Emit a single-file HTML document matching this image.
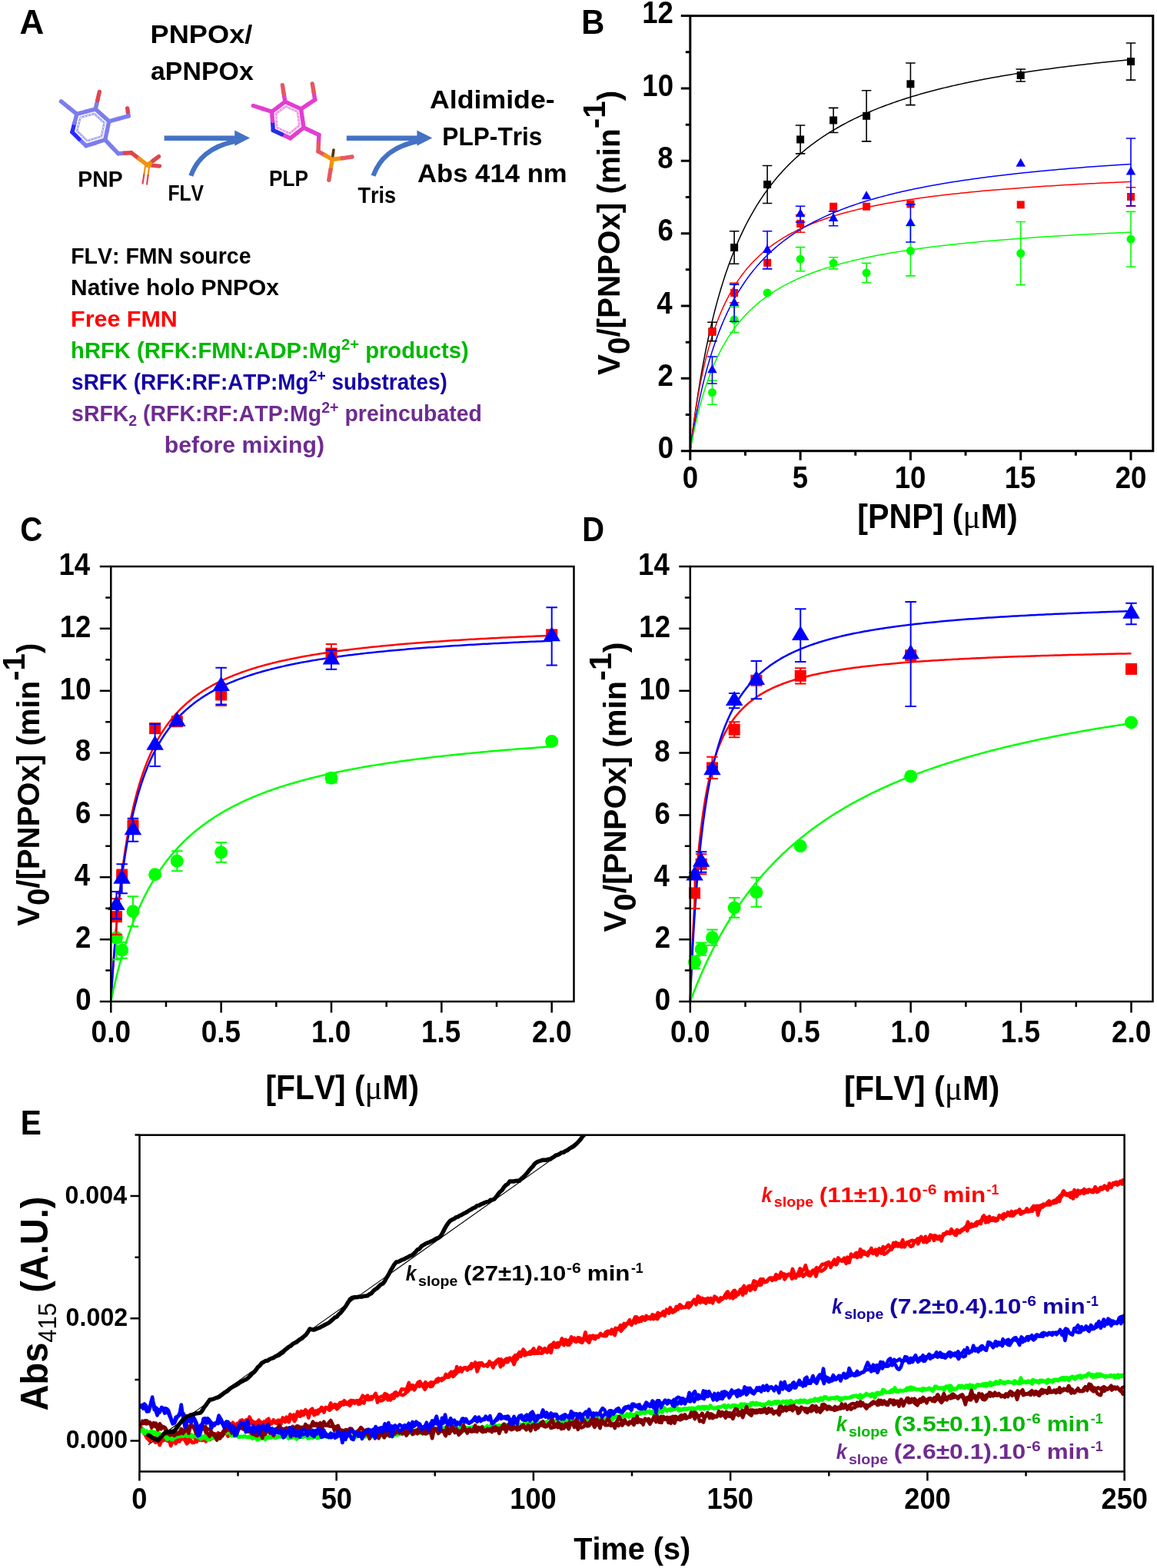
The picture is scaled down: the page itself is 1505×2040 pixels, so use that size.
<!DOCTYPE html>
<html><head><meta charset="utf-8"><title>Figure</title><style>html,body{margin:0;padding:0;background:#fff;}svg{display:block;}text{font-kerning:none;white-space:pre;}</style></head><body>
<svg width="1505" height="2040" viewBox="0 0 1505 2040" xml:space="preserve" style="font-kerning:none"><g transform="translate(25.41,44.20) scale(0.9993,1)"><text x="0.00" y="0.00" font-family='"Liberation Sans", Arial, sans-serif' font-weight="bold" font-size="44" fill="#000">A</text></g>
<polygon points="104.6,152.8 122.7,148.0 135.6,159.7 131.9,177.5 113.5,183.3 100.2,170.1" fill="none" stroke="#a0a0f0" stroke-width="2.6"/>
<polygon points="104.6,152.8 122.7,148.0 135.6,159.7 131.9,177.5 113.5,183.3 100.2,170.1" fill="none" stroke="#ffffff" stroke-width="0.9" stroke-dasharray="2.5 2"/>
<line x1="189.0" y1="216.2" x2="187.3" y2="227.4" stroke="#f0920f" stroke-width="2.2" stroke-linecap="round"/>
<line x1="187.3" y1="227.4" x2="185.6" y2="238.6" stroke="#e0454f" stroke-width="2.2" stroke-linecap="round"/>
<line x1="194.2" y1="216.2" x2="192.6" y2="227.9" stroke="#f0920f" stroke-width="2.2" stroke-linecap="round"/>
<line x1="192.6" y1="227.9" x2="191.1" y2="239.6" stroke="#e0454f" stroke-width="2.2" stroke-linecap="round"/>
<line x1="79.5" y1="131.9" x2="89.7" y2="140.2" stroke="#7c7cee" stroke-width="5.4" stroke-linecap="round"/>
<line x1="89.7" y1="140.2" x2="99.9" y2="148.4" stroke="#7c7cee" stroke-width="5.4" stroke-linecap="round"/>
<line x1="99.9" y1="148.4" x2="112.1" y2="145.2" stroke="#7c7cee" stroke-width="5.4" stroke-linecap="round"/>
<line x1="112.1" y1="145.2" x2="124.3" y2="141.9" stroke="#7c7cee" stroke-width="5.4" stroke-linecap="round"/>
<line x1="124.3" y1="141.9" x2="126.8" y2="130.7" stroke="#7c7cee" stroke-width="5.4" stroke-linecap="round"/>
<line x1="126.8" y1="130.7" x2="129.3" y2="119.5" stroke="#e0454f" stroke-width="5.4" stroke-linecap="round"/>
<line x1="124.3" y1="141.9" x2="133.1" y2="149.9" stroke="#7c7cee" stroke-width="5.4" stroke-linecap="round"/>
<line x1="133.1" y1="149.9" x2="141.8" y2="157.8" stroke="#7c7cee" stroke-width="5.4" stroke-linecap="round"/>
<line x1="141.8" y1="157.8" x2="154.5" y2="154.4" stroke="#7c7cee" stroke-width="5.4" stroke-linecap="round"/>
<line x1="154.5" y1="154.4" x2="167.2" y2="150.9" stroke="#7c7cee" stroke-width="5.4" stroke-linecap="round"/>
<line x1="167.2" y1="150.9" x2="166.4" y2="145.9" stroke="#7c7cee" stroke-width="5.4" stroke-linecap="round"/>
<line x1="166.4" y1="145.9" x2="165.7" y2="140.9" stroke="#e0454f" stroke-width="5.4" stroke-linecap="round"/>
<line x1="141.8" y1="157.8" x2="139.3" y2="169.8" stroke="#7c7cee" stroke-width="5.4" stroke-linecap="round"/>
<line x1="139.3" y1="169.8" x2="136.8" y2="181.8" stroke="#7c7cee" stroke-width="5.4" stroke-linecap="round"/>
<line x1="136.8" y1="181.8" x2="124.4" y2="185.8" stroke="#7c7cee" stroke-width="5.4" stroke-linecap="round"/>
<line x1="124.4" y1="185.8" x2="111.9" y2="189.7" stroke="#7c7cee" stroke-width="5.4" stroke-linecap="round"/>
<line x1="111.9" y1="189.7" x2="102.9" y2="180.8" stroke="#7c7cee" stroke-width="5.4" stroke-linecap="round"/>
<line x1="102.9" y1="180.8" x2="93.9" y2="171.8" stroke="#2a2aff" stroke-width="5.4" stroke-linecap="round"/>
<line x1="93.9" y1="171.8" x2="96.9" y2="160.1" stroke="#2a2aff" stroke-width="5.4" stroke-linecap="round"/>
<line x1="96.9" y1="160.1" x2="99.9" y2="148.4" stroke="#7c7cee" stroke-width="5.4" stroke-linecap="round"/>
<line x1="136.8" y1="181.8" x2="145.2" y2="190.8" stroke="#7c7cee" stroke-width="5.4" stroke-linecap="round"/>
<line x1="145.2" y1="190.8" x2="153.7" y2="199.7" stroke="#7c7cee" stroke-width="5.4" stroke-linecap="round"/>
<line x1="153.7" y1="199.7" x2="162.2" y2="199.2" stroke="#7c7cee" stroke-width="5.4" stroke-linecap="round"/>
<line x1="162.2" y1="199.2" x2="170.7" y2="198.7" stroke="#e0454f" stroke-width="5.4" stroke-linecap="round"/>
<line x1="170.7" y1="198.7" x2="181.1" y2="206.7" stroke="#e0454f" stroke-width="5.4" stroke-linecap="round"/>
<line x1="181.1" y1="206.7" x2="191.6" y2="214.7" stroke="#f0920f" stroke-width="5.4" stroke-linecap="round"/>
<line x1="191.6" y1="214.7" x2="199.1" y2="209.2" stroke="#f0920f" stroke-width="5.4" stroke-linecap="round"/>
<line x1="199.1" y1="209.2" x2="206.5" y2="203.7" stroke="#e0454f" stroke-width="5.4" stroke-linecap="round"/>
<line x1="191.6" y1="214.7" x2="199.6" y2="215.4" stroke="#f0920f" stroke-width="5.4" stroke-linecap="round"/>
<line x1="199.6" y1="215.4" x2="207.5" y2="216.1" stroke="#e0454f" stroke-width="5.4" stroke-linecap="round"/>
<polygon points="358.9,148.0 371.6,138.4 387.0,145.4 389.5,163.3 376.7,173.6 360.2,165.9" fill="none" stroke="#ee88e2" stroke-width="2.6"/>
<polygon points="358.9,148.0 371.6,138.4 387.0,145.4 389.5,163.3 376.7,173.6 360.2,165.9" fill="none" stroke="#ffffff" stroke-width="0.9" stroke-dasharray="2.5 2"/>
<line x1="432.2" y1="207.5" x2="434.0" y2="195.0" stroke="#5a3010" stroke-width="3.6" stroke-linecap="round"/>
<line x1="329.4" y1="137.5" x2="341.5" y2="141.4" stroke="#e23ed0" stroke-width="5.4" stroke-linecap="round"/>
<line x1="341.5" y1="141.4" x2="353.6" y2="145.3" stroke="#e23ed0" stroke-width="5.4" stroke-linecap="round"/>
<line x1="353.6" y1="145.3" x2="362.2" y2="138.8" stroke="#e23ed0" stroke-width="5.4" stroke-linecap="round"/>
<line x1="362.2" y1="138.8" x2="370.8" y2="132.3" stroke="#e23ed0" stroke-width="5.4" stroke-linecap="round"/>
<line x1="370.8" y1="132.3" x2="369.1" y2="121.5" stroke="#e23ed0" stroke-width="5.4" stroke-linecap="round"/>
<line x1="369.1" y1="121.5" x2="367.4" y2="110.7" stroke="#e8575e" stroke-width="5.4" stroke-linecap="round"/>
<line x1="370.8" y1="132.3" x2="381.2" y2="137.1" stroke="#e23ed0" stroke-width="5.4" stroke-linecap="round"/>
<line x1="381.2" y1="137.1" x2="391.6" y2="141.8" stroke="#e23ed0" stroke-width="5.4" stroke-linecap="round"/>
<line x1="391.6" y1="141.8" x2="400.6" y2="135.8" stroke="#e23ed0" stroke-width="5.4" stroke-linecap="round"/>
<line x1="400.6" y1="135.8" x2="409.7" y2="129.7" stroke="#e23ed0" stroke-width="5.4" stroke-linecap="round"/>
<line x1="409.7" y1="129.7" x2="408.0" y2="119.3" stroke="#e23ed0" stroke-width="5.4" stroke-linecap="round"/>
<line x1="408.0" y1="119.3" x2="406.3" y2="109.0" stroke="#e8575e" stroke-width="5.4" stroke-linecap="round"/>
<line x1="391.6" y1="141.8" x2="393.3" y2="153.9" stroke="#e23ed0" stroke-width="5.4" stroke-linecap="round"/>
<line x1="393.3" y1="153.9" x2="395.0" y2="166.0" stroke="#e23ed0" stroke-width="5.4" stroke-linecap="round"/>
<line x1="395.0" y1="166.0" x2="386.4" y2="172.9" stroke="#e23ed0" stroke-width="5.4" stroke-linecap="round"/>
<line x1="386.4" y1="172.9" x2="377.7" y2="179.8" stroke="#e23ed0" stroke-width="5.4" stroke-linecap="round"/>
<line x1="377.7" y1="179.8" x2="366.5" y2="174.7" stroke="#e23ed0" stroke-width="5.4" stroke-linecap="round"/>
<line x1="366.5" y1="174.7" x2="355.3" y2="169.5" stroke="#2a2ae6" stroke-width="5.4" stroke-linecap="round"/>
<line x1="355.3" y1="169.5" x2="354.5" y2="157.4" stroke="#2a2ae6" stroke-width="5.4" stroke-linecap="round"/>
<line x1="354.5" y1="157.4" x2="353.6" y2="145.3" stroke="#e23ed0" stroke-width="5.4" stroke-linecap="round"/>
<line x1="395.0" y1="166.0" x2="404.9" y2="170.8" stroke="#e23ed0" stroke-width="5.4" stroke-linecap="round"/>
<line x1="404.9" y1="170.8" x2="414.9" y2="175.5" stroke="#e23ed0" stroke-width="5.4" stroke-linecap="round"/>
<line x1="414.9" y1="175.5" x2="414.4" y2="186.2" stroke="#e23ed0" stroke-width="5.4" stroke-linecap="round"/>
<line x1="414.4" y1="186.2" x2="414.0" y2="197.0" stroke="#e8575e" stroke-width="5.4" stroke-linecap="round"/>
<line x1="414.0" y1="197.0" x2="423.1" y2="202.2" stroke="#e8575e" stroke-width="5.4" stroke-linecap="round"/>
<line x1="423.1" y1="202.2" x2="432.2" y2="207.5" stroke="#f0920f" stroke-width="5.4" stroke-linecap="round"/>
<line x1="432.2" y1="207.5" x2="445.1" y2="205.8" stroke="#f0920f" stroke-width="5.4" stroke-linecap="round"/>
<line x1="445.1" y1="205.8" x2="458.0" y2="204.0" stroke="#e8575e" stroke-width="5.4" stroke-linecap="round"/>
<line x1="432.2" y1="207.5" x2="430.0" y2="220.9" stroke="#f0920f" stroke-width="5.4" stroke-linecap="round"/>
<line x1="430.0" y1="220.9" x2="427.8" y2="234.3" stroke="#e8575e" stroke-width="5.4" stroke-linecap="round"/>
<path d="M213.6,176.4H305.2V169.5L325.1,179.5L305.2,189.8V182.9H213.6Z" fill="#4472c4"/>
<path d="M248.3,228.8C256.0,207 272.0,191 307.0,183.4" fill="none" stroke="#4472c4" stroke-width="6.2"/>
<path d="M450.8,176.4H542.4V169.5L562.3,179.5L542.4,189.8V182.9H450.8Z" fill="#4472c4"/>
<path d="M485.5,228.8C493.2,207 509.2,191 544.2,183.4" fill="none" stroke="#4472c4" stroke-width="6.2"/>
<g transform="translate(195.58,56.00) scale(1.0647,1)"><text x="0.00" y="0.00" font-family='"Liberation Sans", Arial, sans-serif' font-weight="bold" font-size="34" fill="#000">PNPOx/</text></g>
<g transform="translate(196.01,103.50) scale(0.9968,1)"><text x="0.00" y="0.00" font-family='"Liberation Sans", Arial, sans-serif' font-weight="bold" font-size="34" fill="#000">aPNPOx</text></g>
<g transform="translate(101.30,243.30) scale(0.9789,1)"><text x="0.00" y="0.00" font-family='"Liberation Sans", Arial, sans-serif' font-weight="bold" font-size="29" fill="#000">PNP</text></g>
<g transform="translate(218.45,261.40) scale(0.8512,1)"><text x="0.00" y="0.00" font-family='"Liberation Sans", Arial, sans-serif' font-weight="bold" font-size="29" fill="#000">FLV</text></g>
<g transform="translate(349.95,242.40) scale(0.9033,1)"><text x="0.00" y="0.00" font-family='"Liberation Sans", Arial, sans-serif' font-weight="bold" font-size="29" fill="#000">PLP</text></g>
<g transform="translate(465.40,263.70) scale(0.9348,1)"><text x="0.00" y="0.00" font-family='"Liberation Sans", Arial, sans-serif' font-weight="bold" font-size="29" fill="#000">Tris</text></g>
<g transform="translate(558.91,140.50) scale(1.0512,1)"><text x="0.00" y="0.00" font-family='"Liberation Sans", Arial, sans-serif' font-weight="bold" font-size="34" fill="#000">Aldimide-</text></g>
<g transform="translate(575.28,188.60) scale(0.9314,1)"><text x="0.00" y="0.00" font-family='"Liberation Sans", Arial, sans-serif' font-weight="bold" font-size="34" fill="#000">PLP-Tris</text></g>
<g transform="translate(542.94,236.80) scale(1.0208,1)"><text x="0.00" y="0.00" font-family='"Liberation Sans", Arial, sans-serif' font-weight="bold" font-size="34" fill="#000">Abs 414 nm</text></g>
<g transform="translate(92.19,342.80) scale(0.9829,1)"><text x="0.00" y="0.00" font-family='"Liberation Sans", Arial, sans-serif' font-weight="bold" font-size="29" fill="#000">FLV: FMN source</text></g>
<g transform="translate(92.10,383.70) scale(1.0314,1)"><text x="0.00" y="0.00" font-family='"Liberation Sans", Arial, sans-serif' font-weight="bold" font-size="29" fill="#000">Native holo PNPOx</text></g>
<g transform="translate(92.06,425.40) scale(1.0504,1)"><text x="0.00" y="0.00" font-family='"Liberation Sans", Arial, sans-serif' font-weight="bold" font-size="29" fill="#ff0000">Free FMN</text></g>
<g transform="translate(92.06,466.30) scale(1.0072,1)"><text x="0.00" y="0.00" font-family='"Liberation Sans", Arial, sans-serif' font-weight="bold" font-size="29" fill="#00b800">hRFK (RFK:FMN:ADP:Mg</text><text x="349.52" y="-11.00" font-family='"Liberation Sans", Arial, sans-serif' font-weight="bold" font-size="20" fill="#00b800">2+</text><text x="372.32" y="0.00" font-family='"Liberation Sans", Arial, sans-serif' font-weight="bold" font-size="29" fill="#00b800"> products)</text></g>
<g transform="translate(93.12,507.30) scale(0.9627,1)"><text x="0.00" y="0.00" font-family='"Liberation Sans", Arial, sans-serif' font-weight="bold" font-size="29" fill="#1500a5">sRFK (RFK:RF:ATP:Mg</text><text x="320.54" y="-11.00" font-family='"Liberation Sans", Arial, sans-serif' font-weight="bold" font-size="20" fill="#1500a5">2+</text><text x="343.35" y="0.00" font-family='"Liberation Sans", Arial, sans-serif' font-weight="bold" font-size="29" fill="#1500a5"> substrates)</text></g>
<g transform="translate(93.10,548.20) scale(0.9803,1)"><text x="0.00" y="0.00" font-family='"Liberation Sans", Arial, sans-serif' font-weight="bold" font-size="29" fill="#6e2c90">sRFK</text><text x="75.73" y="6.00" font-family='"Liberation Sans", Arial, sans-serif' font-weight="bold" font-size="20" fill="#6e2c90">2</text><text x="86.85" y="0.00" font-family='"Liberation Sans", Arial, sans-serif' font-weight="bold" font-size="29" fill="#6e2c90"> (RFK:RF:ATP:Mg</text><text x="331.67" y="-11.00" font-family='"Liberation Sans", Arial, sans-serif' font-weight="bold" font-size="20" fill="#6e2c90">2+</text><text x="354.47" y="0.00" font-family='"Liberation Sans", Arial, sans-serif' font-weight="bold" font-size="29" fill="#6e2c90"> preincubated</text></g>
<g transform="translate(213.81,589.10) scale(1.0420,1)"><text x="0.00" y="0.00" font-family='"Liberation Sans", Arial, sans-serif' font-weight="bold" font-size="29" fill="#6e2c90">before mixing)</text></g>
<g>
<polyline points="897.80,586.70 897.81,586.65 897.83,586.49 897.86,586.22 897.90,585.85 897.96,585.37 898.03,584.78 898.11,584.09 898.21,583.30 898.32,582.40 898.44,581.40 898.57,580.30 898.72,579.10 898.88,577.81 899.05,576.41 899.23,574.92 899.43,573.34 899.64,571.66 899.86,569.89 900.10,568.03 900.35,566.09 900.61,564.06 900.88,561.95 901.17,559.76 901.47,557.49 901.78,555.14 902.11,552.72 902.44,550.23 902.79,547.66 903.16,545.03 903.53,542.34 903.92,539.58 904.32,536.76 904.74,533.88 905.16,530.95 905.60,527.97 906.05,524.93 906.52,521.85 907.00,518.72 907.49,515.55 907.99,512.34 908.51,509.09 909.03,505.80 909.58,502.48 910.13,499.12 910.70,495.74 911.28,492.33 911.87,488.90 912.47,485.44 913.09,481.96 913.72,478.46 914.37,474.95 915.02,471.42 915.69,467.87 916.37,464.32 917.07,460.76 917.77,457.19 918.49,453.61 919.22,450.03 919.97,446.45 920.73,442.87 921.50,439.28 922.28,435.70 923.08,432.13 923.89,428.55 924.71,424.99 925.54,421.43 926.39,417.88 927.25,414.34 928.12,410.81 929.01,407.29 929.91,403.79 930.82,400.30 931.74,396.82 932.68,393.36 933.62,389.92 934.59,386.50 935.56,383.09 936.55,379.70 937.55,376.33 938.56,372.98 939.59,369.66 940.62,366.35 941.68,363.07 942.74,359.81 943.82,356.57 944.90,353.35 946.01,350.16 947.12,347.00 948.25,343.86 949.39,340.74 950.54,337.65 951.71,334.58 952.88,331.54 954.08,328.52 955.28,325.53 956.50,322.57 957.72,319.63 958.97,316.72 960.22,313.84 961.49,310.98 962.77,308.15 964.06,305.35 965.37,302.57 966.69,299.82 968.02,297.09 969.36,294.40 970.72,291.73 972.09,289.08 973.47,286.46 974.86,283.87 976.27,281.31 977.69,278.77 979.12,276.26 980.57,273.77 982.03,271.31 983.50,268.88 984.98,266.47 986.48,264.09 987.99,261.73 989.51,259.40 991.05,257.09 992.59,254.81 994.15,252.55 995.73,250.32 997.31,248.11 998.91,245.93 1000.52,243.77 1002.15,241.63 1003.78,239.52 1005.43,237.43 1007.10,235.36 1008.77,233.32 1010.46,231.30 1012.16,229.30 1013.87,227.33 1015.60,225.38 1017.34,223.45 1019.09,221.54 1020.85,219.65 1022.63,217.78 1024.42,215.94 1026.22,214.11 1028.04,212.31 1029.87,210.53 1031.71,208.76 1033.56,207.02 1035.43,205.30 1037.30,203.59 1039.20,201.91 1041.10,200.25 1043.02,198.60 1044.95,196.97 1046.89,195.36 1048.84,193.77 1050.81,192.20 1052.79,190.65 1054.79,189.11 1056.79,187.59 1058.81,186.09 1060.84,184.60 1062.89,183.13 1064.95,181.68 1067.02,180.25 1069.10,178.83 1071.19,177.42 1073.30,176.04 1075.42,174.66 1077.56,173.31 1079.70,171.97 1081.86,170.64 1084.03,169.33 1086.22,168.03 1088.41,166.75 1090.62,165.49 1092.85,164.23 1095.08,162.99 1097.33,161.77 1099.59,160.56 1101.87,159.36 1104.15,158.18 1106.45,157.00 1108.76,155.85 1111.09,154.70 1113.43,153.57 1115.78,152.45 1118.14,151.34 1120.51,150.24 1122.90,149.16 1125.30,148.09 1127.72,147.03 1130.14,145.98 1132.58,144.94 1135.03,143.91 1137.50,142.90 1139.98,141.90 1142.47,140.90 1144.97,139.92 1147.49,138.95 1150.01,137.99 1152.56,137.04 1155.11,136.10 1157.68,135.17 1160.26,134.25 1162.85,133.34 1165.45,132.43 1168.07,131.54 1170.70,130.66 1173.34,129.79 1176.00,128.93 1178.67,128.07 1181.35,127.23 1184.04,126.39 1186.75,125.56 1189.47,124.74 1192.20,123.93 1194.95,123.13 1197.70,122.34 1200.48,121.55 1203.26,120.77 1206.05,120.00 1208.86,119.24 1211.68,118.49 1214.52,117.74 1217.37,117.01 1220.22,116.28 1223.10,115.55 1225.98,114.84 1228.88,114.13 1231.79,113.43 1234.71,112.73 1237.65,112.04 1240.60,111.36 1243.56,110.69 1246.53,110.02 1249.52,109.36 1252.52,108.71 1255.53,108.06 1258.56,107.42 1261.60,106.79 1264.65,106.16 1267.71,105.54 1270.79,104.92 1273.88,104.31 1276.98,103.71 1280.09,103.11 1283.22,102.52 1286.36,101.93 1289.51,101.35 1292.68,100.78 1295.86,100.21 1299.05,99.64 1302.25,99.09 1305.47,98.53 1308.70,97.98 1311.94,97.44 1315.19,96.90 1318.46,96.37 1321.74,95.84 1325.03,95.32 1328.34,94.80 1331.66,94.29 1334.99,93.78 1338.33,93.28 1341.69,92.78 1345.06,92.29 1348.44,91.80 1351.83,91.31 1355.24,90.83 1358.66,90.36 1362.09,89.89 1365.54,89.42 1369.00,88.96 1372.47,88.50 1375.95,88.05 1379.45,87.59 1382.96,87.15 1386.48,86.71 1390.01,86.27 1393.56,85.83 1397.12,85.40 1400.69,84.98 1404.28,84.56 1407.88,84.14 1411.49,83.72 1415.11,83.31 1418.75,82.90 1422.40,82.50 1426.06,82.10 1429.74,81.70 1433.42,81.31 1437.12,80.92 1440.84,80.53 1444.56,80.15 1448.30,79.77 1452.05,79.39 1455.82,79.02 1459.59,78.65 1463.38,78.28 1467.19,77.92 1471.00,77.56" fill="none" stroke="#000000" stroke-width="1.5" stroke-linejoin="round"/>
<polyline points="897.80,586.70 897.81,586.64 897.83,586.48 897.86,586.20 897.90,585.82 897.96,585.33 898.03,584.73 898.11,584.02 898.21,583.21 898.32,582.29 898.44,581.27 898.57,580.15 898.72,578.93 898.88,577.61 899.05,576.20 899.23,574.70 899.43,573.10 899.64,571.42 899.86,569.65 900.10,567.80 900.35,565.88 900.61,563.87 900.88,561.79 901.17,559.64 901.47,557.42 901.78,555.14 902.11,552.80 902.44,550.40 902.79,547.94 903.16,545.43 903.53,542.87 903.92,540.27 904.32,537.62 904.74,534.93 905.16,532.21 905.60,529.45 906.05,526.66 906.52,523.84 907.00,521.00 907.49,518.13 907.99,515.24 908.51,512.34 909.03,509.42 909.58,506.49 910.13,503.55 910.70,500.60 911.28,497.64 911.87,494.69 912.47,491.73 913.09,488.77 913.72,485.81 914.37,482.86 915.02,479.91 915.69,476.97 916.37,474.04 917.07,471.12 917.77,468.21 918.49,465.32 919.22,462.44 919.97,459.57 920.73,456.72 921.50,453.90 922.28,451.08 923.08,448.29 923.89,445.52 924.71,442.78 925.54,440.05 926.39,437.35 927.25,434.67 928.12,432.01 929.01,429.38 929.91,426.77 930.82,424.19 931.74,421.64 932.68,419.11 933.62,416.61 934.59,414.13 935.56,411.68 936.55,409.26 937.55,406.87 938.56,404.50 939.59,402.16 940.62,399.85 941.68,397.56 942.74,395.31 943.82,393.08 944.90,390.88 946.01,388.70 947.12,386.55 948.25,384.43 949.39,382.34 950.54,380.28 951.71,378.24 952.88,376.22 954.08,374.24 955.28,372.28 956.50,370.35 957.72,368.44 958.97,366.56 960.22,364.70 961.49,362.87 962.77,361.07 964.06,359.28 965.37,357.53 966.69,355.80 968.02,354.09 969.36,352.40 970.72,350.74 972.09,349.10 973.47,347.49 974.86,345.90 976.27,344.33 977.69,342.78 979.12,341.25 980.57,339.75 982.03,338.26 983.50,336.80 984.98,335.36 986.48,333.94 987.99,332.54 989.51,331.16 991.05,329.79 992.59,328.45 994.15,327.13 995.73,325.82 997.31,324.54 998.91,323.27 1000.52,322.02 1002.15,320.79 1003.78,319.57 1005.43,318.37 1007.10,317.19 1008.77,316.03 1010.46,314.88 1012.16,313.75 1013.87,312.63 1015.60,311.53 1017.34,310.45 1019.09,309.38 1020.85,308.32 1022.63,307.28 1024.42,306.26 1026.22,305.25 1028.04,304.25 1029.87,303.27 1031.71,302.30 1033.56,301.34 1035.43,300.40 1037.30,299.47 1039.20,298.55 1041.10,297.64 1043.02,296.75 1044.95,295.87 1046.89,295.00 1048.84,294.15 1050.81,293.30 1052.79,292.47 1054.79,291.65 1056.79,290.84 1058.81,290.04 1060.84,289.25 1062.89,288.47 1064.95,287.70 1067.02,286.94 1069.10,286.19 1071.19,285.46 1073.30,284.73 1075.42,284.01 1077.56,283.30 1079.70,282.60 1081.86,281.91 1084.03,281.23 1086.22,280.55 1088.41,279.89 1090.62,279.23 1092.85,278.59 1095.08,277.95 1097.33,277.32 1099.59,276.70 1101.87,276.08 1104.15,275.47 1106.45,274.88 1108.76,274.28 1111.09,273.70 1113.43,273.12 1115.78,272.55 1118.14,271.99 1120.51,271.44 1122.90,270.89 1125.30,270.35 1127.72,269.81 1130.14,269.29 1132.58,268.76 1135.03,268.25 1137.50,267.74 1139.98,267.24 1142.47,266.74 1144.97,266.25 1147.49,265.77 1150.01,265.29 1152.56,264.81 1155.11,264.35 1157.68,263.89 1160.26,263.43 1162.85,262.98 1165.45,262.53 1168.07,262.09 1170.70,261.66 1173.34,261.23 1176.00,260.80 1178.67,260.38 1181.35,259.97 1184.04,259.56 1186.75,259.15 1189.47,258.75 1192.20,258.36 1194.95,257.97 1197.70,257.58 1200.48,257.20 1203.26,256.82 1206.05,256.44 1208.86,256.07 1211.68,255.71 1214.52,255.35 1217.37,254.99 1220.22,254.64 1223.10,254.29 1225.98,253.94 1228.88,253.60 1231.79,253.26 1234.71,252.93 1237.65,252.60 1240.60,252.27 1243.56,251.95 1246.53,251.63 1249.52,251.31 1252.52,251.00 1255.53,250.69 1258.56,250.38 1261.60,250.08 1264.65,249.78 1267.71,249.48 1270.79,249.19 1273.88,248.90 1276.98,248.61 1280.09,248.33 1283.22,248.05 1286.36,247.77 1289.51,247.50 1292.68,247.22 1295.86,246.95 1299.05,246.69 1302.25,246.42 1305.47,246.16 1308.70,245.90 1311.94,245.65 1315.19,245.39 1318.46,245.14 1321.74,244.90 1325.03,244.65 1328.34,244.41 1331.66,244.17 1334.99,243.93 1338.33,243.69 1341.69,243.46 1345.06,243.23 1348.44,243.00 1351.83,242.77 1355.24,242.55 1358.66,242.32 1362.09,242.10 1365.54,241.89 1369.00,241.67 1372.47,241.46 1375.95,241.25 1379.45,241.04 1382.96,240.83 1386.48,240.62 1390.01,240.42 1393.56,240.22 1397.12,240.02 1400.69,239.82 1404.28,239.62 1407.88,239.43 1411.49,239.24 1415.11,239.05 1418.75,238.86 1422.40,238.67 1426.06,238.49 1429.74,238.30 1433.42,238.12 1437.12,237.94 1440.84,237.76 1444.56,237.59 1448.30,237.41 1452.05,237.24 1455.82,237.07 1459.59,236.90 1463.38,236.73 1467.19,236.56 1471.00,236.39" fill="none" stroke="#ff0000" stroke-width="1.5" stroke-linejoin="round"/>
<polyline points="897.80,586.70 897.81,586.66 897.83,586.53 897.86,586.32 897.90,586.03 897.96,585.65 898.03,585.19 898.11,584.65 898.21,584.03 898.32,583.32 898.44,582.54 898.57,581.68 898.72,580.73 898.88,579.72 899.05,578.62 899.23,577.45 899.43,576.21 899.64,574.90 899.86,573.52 900.10,572.06 900.35,570.54 900.61,568.96 900.88,567.31 901.17,565.60 901.47,563.83 901.78,562.00 902.11,560.11 902.44,558.17 902.79,556.18 903.16,554.13 903.53,552.04 903.92,549.90 904.32,547.71 904.74,545.48 905.16,543.22 905.60,540.91 906.05,538.56 906.52,536.18 907.00,533.77 907.49,531.32 907.99,528.85 908.51,526.34 909.03,523.82 909.58,521.27 910.13,518.69 910.70,516.10 911.28,513.49 911.87,510.86 912.47,508.21 913.09,505.56 913.72,502.89 914.37,500.21 915.02,497.52 915.69,494.83 916.37,492.13 917.07,489.42 917.77,486.71 918.49,484.00 919.22,481.29 919.97,478.59 920.73,475.88 921.50,473.17 922.28,470.47 923.08,467.78 923.89,465.09 924.71,462.41 925.54,459.74 926.39,457.08 927.25,454.42 928.12,451.78 929.01,449.15 929.91,446.53 930.82,443.92 931.74,441.33 932.68,438.76 933.62,436.19 934.59,433.65 935.56,431.11 936.55,428.60 937.55,426.10 938.56,423.62 939.59,421.16 940.62,418.71 941.68,416.29 942.74,413.88 943.82,411.49 944.90,409.12 946.01,406.77 947.12,404.44 948.25,402.13 949.39,399.84 950.54,397.58 951.71,395.33 952.88,393.10 954.08,390.89 955.28,388.71 956.50,386.54 957.72,384.40 958.97,382.27 960.22,380.17 961.49,378.09 962.77,376.03 964.06,373.99 965.37,371.97 966.69,369.97 968.02,368.00 969.36,366.04 970.72,364.11 972.09,362.19 973.47,360.30 974.86,358.42 976.27,356.57 977.69,354.74 979.12,352.93 980.57,351.13 982.03,349.36 983.50,347.61 984.98,345.88 986.48,344.16 987.99,342.47 989.51,340.79 991.05,339.14 992.59,337.50 994.15,335.88 995.73,334.28 997.31,332.70 998.91,331.14 1000.52,329.60 1002.15,328.07 1003.78,326.56 1005.43,325.07 1007.10,323.60 1008.77,322.14 1010.46,320.70 1012.16,319.28 1013.87,317.87 1015.60,316.48 1017.34,315.11 1019.09,313.75 1020.85,312.41 1022.63,311.08 1024.42,309.78 1026.22,308.48 1028.04,307.20 1029.87,305.94 1031.71,304.69 1033.56,303.46 1035.43,302.24 1037.30,301.03 1039.20,299.84 1041.10,298.66 1043.02,297.50 1044.95,296.35 1046.89,295.22 1048.84,294.09 1050.81,292.98 1052.79,291.89 1054.79,290.81 1056.79,289.74 1058.81,288.68 1060.84,287.63 1062.89,286.60 1064.95,285.58 1067.02,284.57 1069.10,283.57 1071.19,282.59 1073.30,281.61 1075.42,280.65 1077.56,279.70 1079.70,278.76 1081.86,277.83 1084.03,276.91 1086.22,276.00 1088.41,275.11 1090.62,274.22 1092.85,273.34 1095.08,272.47 1097.33,271.62 1099.59,270.77 1101.87,269.93 1104.15,269.11 1106.45,268.29 1108.76,267.48 1111.09,266.68 1113.43,265.89 1115.78,265.11 1118.14,264.33 1120.51,263.57 1122.90,262.81 1125.30,262.07 1127.72,261.33 1130.14,260.60 1132.58,259.87 1135.03,259.16 1137.50,258.45 1139.98,257.76 1142.47,257.07 1144.97,256.38 1147.49,255.71 1150.01,255.04 1152.56,254.38 1155.11,253.73 1157.68,253.08 1160.26,252.44 1162.85,251.81 1165.45,251.18 1168.07,250.56 1170.70,249.95 1173.34,249.35 1176.00,248.75 1178.67,248.16 1181.35,247.57 1184.04,246.99 1186.75,246.42 1189.47,245.85 1192.20,245.29 1194.95,244.74 1197.70,244.19 1200.48,243.64 1203.26,243.11 1206.05,242.57 1208.86,242.05 1211.68,241.53 1214.52,241.01 1217.37,240.50 1220.22,240.00 1223.10,239.50 1225.98,239.00 1228.88,238.51 1231.79,238.03 1234.71,237.55 1237.65,237.07 1240.60,236.60 1243.56,236.14 1246.53,235.68 1249.52,235.22 1252.52,234.77 1255.53,234.33 1258.56,233.89 1261.60,233.45 1264.65,233.02 1267.71,232.59 1270.79,232.16 1273.88,231.74 1276.98,231.33 1280.09,230.92 1283.22,230.51 1286.36,230.11 1289.51,229.71 1292.68,229.31 1295.86,228.92 1299.05,228.53 1302.25,228.15 1305.47,227.77 1308.70,227.39 1311.94,227.02 1315.19,226.65 1318.46,226.28 1321.74,225.92 1325.03,225.56 1328.34,225.20 1331.66,224.85 1334.99,224.50 1338.33,224.16 1341.69,223.82 1345.06,223.48 1348.44,223.14 1351.83,222.81 1355.24,222.48 1358.66,222.15 1362.09,221.83 1365.54,221.51 1369.00,221.19 1372.47,220.88 1375.95,220.56 1379.45,220.26 1382.96,219.95 1386.48,219.65 1390.01,219.35 1393.56,219.05 1397.12,218.75 1400.69,218.46 1404.28,218.17 1407.88,217.89 1411.49,217.60 1415.11,217.32 1418.75,217.04 1422.40,216.76 1426.06,216.49 1429.74,216.22 1433.42,215.95 1437.12,215.68 1440.84,215.42 1444.56,215.15 1448.30,214.89 1452.05,214.64 1455.82,214.38 1459.59,214.13 1463.38,213.88 1467.19,213.63 1471.00,213.38" fill="none" stroke="#0000ff" stroke-width="1.5" stroke-linejoin="round"/>
<polyline points="897.80,586.70 897.81,586.66 897.83,586.56 897.86,586.38 897.90,586.12 897.96,585.80 898.03,585.40 898.11,584.94 898.21,584.40 898.32,583.80 898.44,583.13 898.57,582.39 898.72,581.58 898.88,580.71 899.05,579.77 899.23,578.77 899.43,577.71 899.64,576.59 899.86,575.41 900.10,574.17 900.35,572.88 900.61,571.53 900.88,570.13 901.17,568.68 901.47,567.18 901.78,565.63 902.11,564.04 902.44,562.40 902.79,560.72 903.16,559.00 903.53,557.24 903.92,555.44 904.32,553.61 904.74,551.75 905.16,549.85 905.60,547.93 906.05,545.97 906.52,543.99 907.00,541.99 907.49,539.96 907.99,537.91 908.51,535.85 909.03,533.76 909.58,531.66 910.13,529.55 910.70,527.42 911.28,525.28 911.87,523.13 912.47,520.97 913.09,518.81 913.72,516.64 914.37,514.46 915.02,512.28 915.69,510.10 916.37,507.92 917.07,505.74 917.77,503.56 918.49,501.39 919.22,499.22 919.97,497.05 920.73,494.88 921.50,492.73 922.28,490.58 923.08,488.44 923.89,486.31 924.71,484.19 925.54,482.07 926.39,479.97 927.25,477.88 928.12,475.80 929.01,473.74 929.91,471.69 930.82,469.65 931.74,467.63 932.68,465.62 933.62,463.62 934.59,461.64 935.56,459.68 936.55,457.73 937.55,455.80 938.56,453.89 939.59,451.99 940.62,450.11 941.68,448.25 942.74,446.40 943.82,444.57 944.90,442.76 946.01,440.97 947.12,439.19 948.25,437.43 949.39,435.69 950.54,433.97 951.71,432.27 952.88,430.58 954.08,428.92 955.28,427.27 956.50,425.64 957.72,424.02 958.97,422.43 960.22,420.85 961.49,419.29 962.77,417.75 964.06,416.22 965.37,414.72 966.69,413.23 968.02,411.76 969.36,410.30 970.72,408.87 972.09,407.45 973.47,406.04 974.86,404.66 976.27,403.29 977.69,401.94 979.12,400.60 980.57,399.28 982.03,397.98 983.50,396.69 984.98,395.42 986.48,394.16 987.99,392.92 989.51,391.69 991.05,390.48 992.59,389.29 994.15,388.11 995.73,386.94 997.31,385.79 998.91,384.66 1000.52,383.53 1002.15,382.43 1003.78,381.33 1005.43,380.25 1007.10,379.19 1008.77,378.13 1010.46,377.09 1012.16,376.07 1013.87,375.05 1015.60,374.05 1017.34,373.06 1019.09,372.09 1020.85,371.12 1022.63,370.17 1024.42,369.23 1026.22,368.31 1028.04,367.39 1029.87,366.49 1031.71,365.59 1033.56,364.71 1035.43,363.84 1037.30,362.98 1039.20,362.13 1041.10,361.29 1043.02,360.47 1044.95,359.65 1046.89,358.84 1048.84,358.04 1050.81,357.26 1052.79,356.48 1054.79,355.71 1056.79,354.95 1058.81,354.21 1060.84,353.47 1062.89,352.74 1064.95,352.02 1067.02,351.30 1069.10,350.60 1071.19,349.90 1073.30,349.22 1075.42,348.54 1077.56,347.87 1079.70,347.21 1081.86,346.56 1084.03,345.91 1086.22,345.27 1088.41,344.64 1090.62,344.02 1092.85,343.40 1095.08,342.80 1097.33,342.20 1099.59,341.60 1101.87,341.02 1104.15,340.44 1106.45,339.87 1108.76,339.30 1111.09,338.74 1113.43,338.19 1115.78,337.65 1118.14,337.11 1120.51,336.58 1122.90,336.05 1125.30,335.53 1127.72,335.02 1130.14,334.51 1132.58,334.01 1135.03,333.51 1137.50,333.02 1139.98,332.53 1142.47,332.06 1144.97,331.58 1147.49,331.11 1150.01,330.65 1152.56,330.19 1155.11,329.74 1157.68,329.29 1160.26,328.85 1162.85,328.41 1165.45,327.98 1168.07,327.55 1170.70,327.13 1173.34,326.71 1176.00,326.30 1178.67,325.89 1181.35,325.49 1184.04,325.09 1186.75,324.69 1189.47,324.30 1192.20,323.91 1194.95,323.53 1197.70,323.15 1200.48,322.78 1203.26,322.41 1206.05,322.04 1208.86,321.68 1211.68,321.32 1214.52,320.97 1217.37,320.62 1220.22,320.27 1223.10,319.93 1225.98,319.59 1228.88,319.25 1231.79,318.92 1234.71,318.59 1237.65,318.27 1240.60,317.95 1243.56,317.63 1246.53,317.31 1249.52,317.00 1252.52,316.69 1255.53,316.39 1258.56,316.09 1261.60,315.79 1264.65,315.49 1267.71,315.20 1270.79,314.91 1273.88,314.62 1276.98,314.34 1280.09,314.06 1283.22,313.78 1286.36,313.50 1289.51,313.23 1292.68,312.96 1295.86,312.69 1299.05,312.43 1302.25,312.17 1305.47,311.91 1308.70,311.65 1311.94,311.40 1315.19,311.14 1318.46,310.90 1321.74,310.65 1325.03,310.40 1328.34,310.16 1331.66,309.92 1334.99,309.69 1338.33,309.45 1341.69,309.22 1345.06,308.99 1348.44,308.76 1351.83,308.53 1355.24,308.31 1358.66,308.09 1362.09,307.87 1365.54,307.65 1369.00,307.44 1372.47,307.22 1375.95,307.01 1379.45,306.80 1382.96,306.59 1386.48,306.39 1390.01,306.18 1393.56,305.98 1397.12,305.78 1400.69,305.59 1404.28,305.39 1407.88,305.19 1411.49,305.00 1415.11,304.81 1418.75,304.62 1422.40,304.43 1426.06,304.25 1429.74,304.07 1433.42,303.88 1437.12,303.70 1440.84,303.52 1444.56,303.35 1448.30,303.17 1452.05,303.00 1455.82,302.82 1459.59,302.65 1463.38,302.48 1467.19,302.31 1471.00,302.15" fill="none" stroke="#00ff00" stroke-width="1.5" stroke-linejoin="round"/>
<path d="M926.46,419.23V443.76M920.21,419.23H932.71M920.21,443.76H932.71" stroke="#000000" stroke-width="1.6" fill="none"/>
<path d="M955.12,300.82V343.28M948.87,300.82H961.37M948.87,343.28H961.37" stroke="#000000" stroke-width="1.6" fill="none"/>
<path d="M998.11,215.43V264.49M991.86,215.43H1004.36M991.86,264.49H1004.36" stroke="#000000" stroke-width="1.6" fill="none"/>
<path d="M1041.10,163.07V199.87M1034.85,163.07H1047.35M1034.85,199.87H1047.35" stroke="#000000" stroke-width="1.6" fill="none"/>
<path d="M1084.09,140.42V172.50M1077.84,140.42H1090.34M1077.84,172.50H1090.34" stroke="#000000" stroke-width="1.6" fill="none"/>
<path d="M1127.08,117.78V183.83M1120.83,117.78H1133.33M1120.83,183.83H1133.33" stroke="#000000" stroke-width="1.6" fill="none"/>
<path d="M1184.40,81.93V136.65M1178.15,81.93H1190.65M1178.15,136.65H1190.65" stroke="#000000" stroke-width="1.6" fill="none"/>
<path d="M1327.70,89.95V105.99M1321.45,89.95H1333.95M1321.45,105.99H1333.95" stroke="#000000" stroke-width="1.6" fill="none"/>
<path d="M1471.00,55.98V104.10M1464.75,55.98H1477.25M1464.75,104.10H1477.25" stroke="#000000" stroke-width="1.6" fill="none"/>
<rect x="921.46" y="426.49" width="10.00" height="10.00" fill="#000000"/>
<rect x="950.12" y="317.05" width="10.00" height="10.00" fill="#000000"/>
<rect x="993.11" y="234.96" width="10.00" height="10.00" fill="#000000"/>
<rect x="1036.10" y="176.47" width="10.00" height="10.00" fill="#000000"/>
<rect x="1079.09" y="151.46" width="10.00" height="10.00" fill="#000000"/>
<rect x="1122.08" y="145.80" width="10.00" height="10.00" fill="#000000"/>
<rect x="1179.40" y="104.29" width="10.00" height="10.00" fill="#000000"/>
<rect x="1322.70" y="92.97" width="10.00" height="10.00" fill="#000000"/>
<rect x="1466.00" y="75.04" width="10.00" height="10.00" fill="#000000"/>
<path d="M955.12,368.28V393.75M948.87,368.28H961.37M948.87,393.75H961.37" stroke="#ff0000" stroke-width="1.6" fill="none"/>
<path d="M1041.10,279.59V302.23M1034.85,279.59H1047.35M1034.85,302.23H1047.35" stroke="#ff0000" stroke-width="1.6" fill="none"/>
<path d="M1471.00,243.74V268.27M1464.75,243.74H1477.25M1464.75,268.27H1477.25" stroke="#ff0000" stroke-width="1.6" fill="none"/>
<rect x="921.46" y="426.49" width="10.00" height="10.00" fill="#ff0000"/>
<rect x="950.12" y="376.02" width="10.00" height="10.00" fill="#ff0000"/>
<rect x="993.11" y="336.86" width="10.00" height="10.00" fill="#ff0000"/>
<rect x="1036.10" y="285.91" width="10.00" height="10.00" fill="#ff0000"/>
<rect x="1079.09" y="263.74" width="10.00" height="10.00" fill="#ff0000"/>
<rect x="1122.08" y="263.74" width="10.00" height="10.00" fill="#ff0000"/>
<rect x="1179.40" y="260.44" width="10.00" height="10.00" fill="#ff0000"/>
<rect x="1322.70" y="261.38" width="10.00" height="10.00" fill="#ff0000"/>
<rect x="1466.00" y="251.00" width="10.00" height="10.00" fill="#ff0000"/>
<path d="M926.46,495.18V526.32M920.21,495.18H932.71M920.21,526.32H932.71" stroke="#00ff00" stroke-width="1.6" fill="none"/>
<path d="M955.12,399.42V432.44M948.87,399.42H961.37M948.87,432.44H961.37" stroke="#00ff00" stroke-width="1.6" fill="none"/>
<path d="M1041.10,321.58V352.71M1034.85,321.58H1047.35M1034.85,352.71H1047.35" stroke="#00ff00" stroke-width="1.6" fill="none"/>
<path d="M1084.09,334.79V349.88M1077.84,334.79H1090.34M1077.84,349.88H1090.34" stroke="#00ff00" stroke-width="1.6" fill="none"/>
<path d="M1127.08,342.33V367.81M1120.83,342.33H1133.33M1120.83,367.81H1133.33" stroke="#00ff00" stroke-width="1.6" fill="none"/>
<path d="M1184.40,293.74V358.84M1178.15,293.74H1190.65M1178.15,358.84H1190.65" stroke="#00ff00" stroke-width="1.6" fill="none"/>
<path d="M1327.70,288.55V370.64M1321.45,288.55H1333.95M1321.45,370.64H1333.95" stroke="#00ff00" stroke-width="1.6" fill="none"/>
<path d="M1471.00,275.35V347.05M1464.75,275.35H1477.25M1464.75,347.05H1477.25" stroke="#00ff00" stroke-width="1.6" fill="none"/>
<circle cx="926.46" cy="510.75" r="5.50" fill="#00ff00"/>
<circle cx="955.12" cy="415.93" r="5.50" fill="#00ff00"/>
<circle cx="998.11" cy="381.02" r="5.50" fill="#00ff00"/>
<circle cx="1041.10" cy="337.14" r="5.50" fill="#00ff00"/>
<circle cx="1084.09" cy="342.33" r="5.50" fill="#00ff00"/>
<circle cx="1127.08" cy="355.07" r="5.50" fill="#00ff00"/>
<circle cx="1184.40" cy="326.29" r="5.50" fill="#00ff00"/>
<circle cx="1327.70" cy="329.60" r="5.50" fill="#00ff00"/>
<circle cx="1471.00" cy="311.20" r="5.50" fill="#00ff00"/>
<path d="M926.46,464.05V498.95M920.21,464.05H932.71M920.21,498.95H932.71" stroke="#0000ff" stroke-width="1.6" fill="none"/>
<path d="M955.12,370.17V418.29M948.87,370.17H961.37M948.87,418.29H961.37" stroke="#0000ff" stroke-width="1.6" fill="none"/>
<path d="M998.11,300.82V349.88M991.86,300.82H1004.36M991.86,349.88H1004.36" stroke="#0000ff" stroke-width="1.6" fill="none"/>
<path d="M1041.10,268.27V289.03M1034.85,268.27H1047.35M1034.85,289.03H1047.35" stroke="#0000ff" stroke-width="1.6" fill="none"/>
<path d="M1084.09,274.87V293.74M1077.84,274.87H1090.34M1077.84,293.74H1090.34" stroke="#0000ff" stroke-width="1.6" fill="none"/>
<path d="M1184.40,265.91V314.97M1178.15,265.91H1190.65M1178.15,314.97H1190.65" stroke="#0000ff" stroke-width="1.6" fill="none"/>
<path d="M1471.00,180.05V267.80M1464.75,180.05H1477.25M1464.75,267.80H1477.25" stroke="#0000ff" stroke-width="1.6" fill="none"/>
<path d="M926.46,474.17L932.71,485.17L920.21,485.17Z" fill="#0000ff"/>
<path d="M955.12,386.89L961.37,397.89L948.87,397.89Z" fill="#0000ff"/>
<path d="M998.11,318.02L1004.36,329.02L991.86,329.02Z" fill="#0000ff"/>
<path d="M1041.10,271.31L1047.35,282.31L1034.85,282.31Z" fill="#0000ff"/>
<path d="M1084.09,276.97L1090.34,287.97L1077.84,287.97Z" fill="#0000ff"/>
<path d="M1127.08,248.20L1133.33,259.20L1120.83,259.20Z" fill="#0000ff"/>
<path d="M1184.40,283.11L1190.65,294.11L1178.15,294.11Z" fill="#0000ff"/>
<path d="M1327.70,205.74L1333.95,216.74L1321.45,216.74Z" fill="#0000ff"/>
<path d="M1471.00,216.59L1477.25,227.59L1464.75,227.59Z" fill="#0000ff"/>
</g>
<rect x="897.80" y="20.60" width="602.00" height="566.10" fill="none" stroke="#000" stroke-width="3"/>
<path d="M897.80,586.70V598.70M1041.10,586.70V598.70M1184.40,586.70V598.70M1327.70,586.70V598.70M1471.00,586.70V598.70" stroke="#000" stroke-width="3" fill="none"/>
<path d="M969.45,586.70V592.70M1112.75,586.70V592.70M1256.05,586.70V592.70M1399.35,586.70V592.70" stroke="#000" stroke-width="3" fill="none"/>
<path d="M897.80,586.70H885.80M897.80,492.35H885.80M897.80,398.00H885.80M897.80,303.65H885.80M897.80,209.30H885.80M897.80,114.95H885.80M897.80,20.60H885.80" stroke="#000" stroke-width="3" fill="none"/>
<path d="M897.80,539.53H891.80M897.80,445.18H891.80M897.80,350.83H891.80M897.80,256.48H891.80M897.80,162.13H891.80M897.80,67.78H891.80" stroke="#000" stroke-width="3" fill="none"/>
<g transform="translate(855.65,596.30) scale(0.9150,1)"><text x="0.00" y="0.00" font-family='"Liberation Sans", Arial, sans-serif' font-weight="bold" font-size="40" fill="#000">0</text></g>
<g transform="translate(855.61,501.95) scale(0.9150,1)"><text x="0.00" y="0.00" font-family='"Liberation Sans", Arial, sans-serif' font-weight="bold" font-size="40" fill="#000">2</text></g>
<g transform="translate(854.34,407.60) scale(0.9150,1)"><text x="0.00" y="0.00" font-family='"Liberation Sans", Arial, sans-serif' font-weight="bold" font-size="40" fill="#000">4</text></g>
<g transform="translate(855.47,313.25) scale(0.9150,1)"><text x="0.00" y="0.00" font-family='"Liberation Sans", Arial, sans-serif' font-weight="bold" font-size="40" fill="#000">6</text></g>
<g transform="translate(855.27,218.90) scale(0.9150,1)"><text x="0.00" y="0.00" font-family='"Liberation Sans", Arial, sans-serif' font-weight="bold" font-size="40" fill="#000">8</text></g>
<g transform="translate(835.29,124.55) scale(0.9150,1)"><text x="0.00" y="0.00" font-family='"Liberation Sans", Arial, sans-serif' font-weight="bold" font-size="40" fill="#000">10</text></g>
<g transform="translate(835.26,30.20) scale(0.9150,1)"><text x="0.00" y="0.00" font-family='"Liberation Sans", Arial, sans-serif' font-weight="bold" font-size="40" fill="#000">12</text></g>
<g transform="translate(887.65,634.80) scale(0.9150,1)"><text x="0.00" y="0.00" font-family='"Liberation Sans", Arial, sans-serif' font-weight="bold" font-size="40" fill="#000">0</text></g>
<g transform="translate(1030.87,634.80) scale(0.9150,1)"><text x="0.00" y="0.00" font-family='"Liberation Sans", Arial, sans-serif' font-weight="bold" font-size="40" fill="#000">5</text></g>
<g transform="translate(1163.64,634.80) scale(0.9150,1)"><text x="0.00" y="0.00" font-family='"Liberation Sans", Arial, sans-serif' font-weight="bold" font-size="40" fill="#000">10</text></g>
<g transform="translate(1306.70,634.80) scale(0.9150,1)"><text x="0.00" y="0.00" font-family='"Liberation Sans", Arial, sans-serif' font-weight="bold" font-size="40" fill="#000">15</text></g>
<g transform="translate(1450.76,634.80) scale(0.9150,1)"><text x="0.00" y="0.00" font-family='"Liberation Sans", Arial, sans-serif' font-weight="bold" font-size="40" fill="#000">20</text></g>
<g transform="translate(1115.19,687.00) scale(0.9369,1)"><text x="0.00" y="0.00" font-family='"Liberation Sans", Arial, sans-serif' font-weight="bold" font-size="44" fill="#000">[PNP] (</text><text x="146.65" y="0.00" font-family='"Liberation Serif", serif' font-weight="normal" font-size="46" fill="#000">μ</text><text x="171.31" y="0.00" font-family='"Liberation Sans", Arial, sans-serif' font-weight="bold" font-size="44" fill="#000">M)</text></g>
<g transform="translate(806.40,487.98) rotate(-90) scale(0.9727,1)"><text x="0.00" y="0.00" font-family='"Liberation Sans", Arial, sans-serif' font-weight="bold" font-size="41.5" fill="#000">V</text><text x="27.68" y="12.70" font-family='"Liberation Sans", Arial, sans-serif' font-weight="bold" font-size="41.5" fill="#000">0</text><text x="50.76" y="0.00" font-family='"Liberation Sans", Arial, sans-serif' font-weight="bold" font-size="41.5" fill="#000">/[PNPOx] (min</text><text x="329.75" y="-19.00" font-family='"Liberation Sans", Arial, sans-serif' font-weight="bold" font-size="41.5" fill="#000">-1</text><text x="366.65" y="0.00" font-family='"Liberation Sans", Arial, sans-serif' font-weight="bold" font-size="41.5" fill="#000">)</text></g>
<g transform="translate(756.31,43.50) scale(0.9466,1)"><text x="0.00" y="0.00" font-family='"Liberation Sans", Arial, sans-serif' font-weight="bold" font-size="44" fill="#000">B</text></g>
<g>
<polyline points="144.30,1303.00 144.31,1302.89 144.33,1302.55 144.36,1301.99 144.40,1301.21 144.46,1300.21 144.53,1298.99 144.61,1297.56 144.71,1295.92 144.82,1294.08 144.94,1292.03 145.07,1289.79 145.22,1287.35 145.38,1284.74 145.55,1281.94 145.73,1278.98 145.93,1275.85 146.14,1272.56 146.36,1269.12 146.60,1265.54 146.85,1261.83 147.11,1257.99 147.38,1254.03 147.67,1249.96 147.97,1245.79 148.28,1241.52 148.61,1237.16 148.94,1232.73 149.29,1228.22 149.66,1223.65 150.03,1219.01 150.42,1214.33 150.82,1209.61 151.24,1204.84 151.67,1200.05 152.10,1195.23 152.56,1190.39 153.02,1185.54 153.50,1180.68 153.99,1175.81 154.49,1170.95 155.01,1166.10 155.54,1161.26 156.08,1156.43 156.63,1151.62 157.20,1146.84 157.78,1142.08 158.37,1137.35 158.98,1132.66 159.60,1128.00 160.23,1123.38 160.87,1118.79 161.53,1114.25 162.20,1109.76 162.88,1105.31 163.57,1100.91 164.28,1096.56 165.00,1092.26 165.73,1088.01 166.48,1083.81 167.24,1079.66 168.01,1075.57 168.79,1071.54 169.59,1067.56 170.40,1063.63 171.22,1059.76 172.05,1055.95 172.90,1052.19 173.76,1048.49 174.63,1044.85 175.52,1041.26 176.42,1037.72 177.33,1034.25 178.25,1030.82 179.19,1027.45 180.14,1024.14 181.10,1020.88 182.07,1017.68 183.06,1014.52 184.06,1011.42 185.08,1008.37 186.10,1005.38 187.14,1002.43 188.19,999.53 189.25,996.69 190.33,993.89 191.42,991.14 192.52,988.43 193.64,985.78 194.77,983.17 195.91,980.60 197.06,978.08 198.23,975.61 199.40,973.17 200.60,970.78 201.80,968.44 203.02,966.13 204.25,963.86 205.49,961.63 206.74,959.45 208.01,957.30 209.29,955.18 210.59,953.11 211.89,951.07 213.21,949.07 214.54,947.10 215.89,945.16 217.24,943.26 218.61,941.40 220.00,939.56 221.39,937.76 222.80,935.99 224.22,934.25 225.65,932.54 227.10,930.86 228.56,929.20 230.03,927.58 231.51,925.98 233.01,924.41 234.52,922.87 236.04,921.36 237.58,919.87 239.13,918.40 240.69,916.96 242.26,915.55 243.85,914.15 245.45,912.78 247.06,911.44 248.68,910.12 250.32,908.81 251.97,907.53 253.63,906.28 255.31,905.04 257.00,903.82 258.70,902.62 260.41,901.44 262.14,900.28 263.88,899.14 265.63,898.02 267.40,896.92 269.17,895.83 270.96,894.76 272.77,893.71 274.58,892.68 276.41,891.66 278.25,890.66 280.11,889.67 281.97,888.70 283.85,887.74 285.75,886.80 287.65,885.88 289.57,884.96 291.50,884.07 293.44,883.18 295.40,882.31 297.37,881.45 299.35,880.61 301.34,879.78 303.35,878.96 305.37,878.15 307.40,877.36 309.45,876.57 311.50,875.80 313.57,875.04 315.66,874.30 317.75,873.56 319.86,872.83 321.98,872.11 324.12,871.41 326.27,870.71 328.43,870.03 330.60,869.35 332.78,868.69 334.98,868.03 337.19,867.38 339.42,866.75 341.65,866.12 343.90,865.50 346.16,864.89 348.44,864.28 350.72,863.69 353.02,863.10 355.34,862.53 357.66,861.96 360.00,861.39 362.35,860.84 364.71,860.29 367.09,859.75 369.48,859.22 371.88,858.70 374.30,858.18 376.72,857.67 379.16,857.16 381.62,856.67 384.08,856.18 386.56,855.69 389.05,855.21 391.56,854.74 394.07,854.28 396.60,853.82 399.14,853.36 401.70,852.92 404.27,852.47 406.85,852.04 409.44,851.61 412.05,851.18 414.66,850.76 417.30,850.35 419.94,849.94 422.60,849.53 425.27,849.13 427.95,848.74 430.64,848.35 433.35,847.97 436.07,847.59 438.80,847.21 441.55,846.84 444.31,846.48 447.08,846.11 449.86,845.76 452.66,845.40 455.47,845.06 458.29,844.71 461.13,844.37 463.98,844.04 466.84,843.70 469.71,843.38 472.60,843.05 475.50,842.73 478.41,842.41 481.33,842.10 484.27,841.79 487.22,841.48 490.18,841.18 493.16,840.88 496.14,840.59 499.15,840.30 502.16,840.01 505.19,839.72 508.22,839.44 511.28,839.16 514.34,838.88 517.42,838.61 520.51,838.34 523.61,838.07 526.73,837.81 529.85,837.55 533.00,837.29 536.15,837.04 539.32,836.78 542.49,836.53 545.69,836.29 548.89,836.04 552.11,835.80 555.34,835.56 558.58,835.33 561.84,835.09 565.11,834.86 568.39,834.63 571.68,834.41 574.99,834.18 578.31,833.96 581.64,833.74 584.98,833.52 588.34,833.31 591.71,833.10 595.09,832.88 598.49,832.68 601.90,832.47 605.32,832.27 608.75,832.06 612.20,831.86 615.66,831.67 619.13,831.47 622.62,831.28 626.12,831.09 629.63,830.90 633.15,830.71 636.68,830.52 640.23,830.34 643.80,830.15 647.37,829.97 650.96,829.79 654.56,829.62 658.17,829.44 661.79,829.27 665.43,829.10 669.08,828.93 672.75,828.76 676.42,828.59 680.11,828.42 683.81,828.26 687.53,828.10 691.25,827.94 694.99,827.78 698.75,827.62 702.51,827.46 706.29,827.31 710.08,827.16 713.88,827.00 717.70,826.85" fill="none" stroke="#ff0000" stroke-width="2.5" stroke-linejoin="round"/>
<polyline points="144.30,1303.00 144.31,1302.89 144.33,1302.57 144.36,1302.04 144.40,1301.29 144.46,1300.34 144.53,1299.17 144.61,1297.81 144.71,1296.24 144.82,1294.47 144.94,1292.51 145.07,1290.37 145.22,1288.04 145.38,1285.53 145.55,1282.86 145.73,1280.02 145.93,1277.02 146.14,1273.86 146.36,1270.57 146.60,1267.13 146.85,1263.57 147.11,1259.88 147.38,1256.07 147.67,1252.16 147.97,1248.15 148.28,1244.04 148.61,1239.84 148.94,1235.57 149.29,1231.22 149.66,1226.81 150.03,1222.34 150.42,1217.82 150.82,1213.25 151.24,1208.64 151.67,1204.00 152.10,1199.33 152.56,1194.64 153.02,1189.94 153.50,1185.22 153.99,1180.50 154.49,1175.78 155.01,1171.06 155.54,1166.36 156.08,1161.66 156.63,1156.98 157.20,1152.31 157.78,1147.67 158.37,1143.06 158.98,1138.48 159.60,1133.93 160.23,1129.41 160.87,1124.93 161.53,1120.48 162.20,1116.08 162.88,1111.72 163.57,1107.41 164.28,1103.14 165.00,1098.92 165.73,1094.74 166.48,1090.62 167.24,1086.55 168.01,1082.52 168.79,1078.55 169.59,1074.63 170.40,1070.76 171.22,1066.95 172.05,1063.19 172.90,1059.48 173.76,1055.83 174.63,1052.23 175.52,1048.68 176.42,1045.19 177.33,1041.75 178.25,1038.36 179.19,1035.03 180.14,1031.75 181.10,1028.52 182.07,1025.34 183.06,1022.21 184.06,1019.14 185.08,1016.11 186.10,1013.14 187.14,1010.21 188.19,1007.33 189.25,1004.50 190.33,1001.72 191.42,998.98 192.52,996.29 193.64,993.65 194.77,991.05 195.91,988.50 197.06,985.99 198.23,983.52 199.40,981.09 200.60,978.71 201.80,976.36 203.02,974.06 204.25,971.80 205.49,969.58 206.74,967.39 208.01,965.24 209.29,963.13 210.59,961.06 211.89,959.02 213.21,957.01 214.54,955.04 215.89,953.11 217.24,951.21 218.61,949.34 220.00,947.50 221.39,945.69 222.80,943.92 224.22,942.17 225.65,940.46 227.10,938.77 228.56,937.12 230.03,935.49 231.51,933.88 233.01,932.31 234.52,930.76 236.04,929.24 237.58,927.74 239.13,926.27 240.69,924.83 242.26,923.40 243.85,922.00 245.45,920.63 247.06,919.28 248.68,917.94 250.32,916.64 251.97,915.35 253.63,914.08 255.31,912.84 257.00,911.61 258.70,910.41 260.41,909.22 262.14,908.05 263.88,906.90 265.63,905.78 267.40,904.66 269.17,903.57 270.96,902.49 272.77,901.43 274.58,900.39 276.41,899.36 278.25,898.35 280.11,897.36 281.97,896.38 283.85,895.41 285.75,894.47 287.65,893.53 289.57,892.61 291.50,891.71 293.44,890.81 295.40,889.93 297.37,889.07 299.35,888.22 301.34,887.38 303.35,886.55 305.37,885.74 307.40,884.93 309.45,884.14 311.50,883.36 313.57,882.60 315.66,881.84 317.75,881.09 319.86,880.36 321.98,879.64 324.12,878.92 326.27,878.22 328.43,877.53 330.60,876.84 332.78,876.17 334.98,875.51 337.19,874.85 339.42,874.21 341.65,873.57 343.90,872.95 346.16,872.33 348.44,871.72 350.72,871.12 353.02,870.52 355.34,869.94 357.66,869.36 360.00,868.79 362.35,868.23 364.71,867.68 367.09,867.13 369.48,866.60 371.88,866.06 374.30,865.54 376.72,865.02 379.16,864.51 381.62,864.01 384.08,863.51 386.56,863.02 389.05,862.54 391.56,862.06 394.07,861.59 396.60,861.12 399.14,860.66 401.70,860.21 404.27,859.76 406.85,859.32 409.44,858.88 412.05,858.45 414.66,858.03 417.30,857.61 419.94,857.19 422.60,856.78 425.27,856.38 427.95,855.98 430.64,855.58 433.35,855.19 436.07,854.81 438.80,854.43 441.55,854.05 444.31,853.68 447.08,853.31 449.86,852.95 452.66,852.59 455.47,852.24 458.29,851.89 461.13,851.55 463.98,851.20 466.84,850.87 469.71,850.53 472.60,850.21 475.50,849.88 478.41,849.56 481.33,849.24 484.27,848.93 487.22,848.62 490.18,848.31 493.16,848.01 496.14,847.71 499.15,847.41 502.16,847.12 505.19,846.83 508.22,846.54 511.28,846.26 514.34,845.98 517.42,845.70 520.51,845.43 523.61,845.16 526.73,844.89 529.85,844.62 533.00,844.36 536.15,844.10 539.32,843.85 542.49,843.59 545.69,843.34 548.89,843.09 552.11,842.85 555.34,842.61 558.58,842.37 561.84,842.13 565.11,841.89 568.39,841.66 571.68,841.43 574.99,841.20 578.31,840.98 581.64,840.75 584.98,840.53 588.34,840.31 591.71,840.10 595.09,839.89 598.49,839.67 601.90,839.46 605.32,839.26 608.75,839.05 612.20,838.85 615.66,838.65 619.13,838.45 622.62,838.25 626.12,838.06 629.63,837.86 633.15,837.67 636.68,837.48 640.23,837.30 643.80,837.11 647.37,836.93 650.96,836.74 654.56,836.56 658.17,836.39 661.79,836.21 665.43,836.03 669.08,835.86 672.75,835.69 676.42,835.52 680.11,835.35 683.81,835.19 687.53,835.02 691.25,834.86 694.99,834.70 698.75,834.54 702.51,834.38 706.29,834.22 710.08,834.06 713.88,833.91 717.70,833.76" fill="none" stroke="#0000ff" stroke-width="2.5" stroke-linejoin="round"/>
<polyline points="144.30,1303.00 144.31,1302.97 144.33,1302.87 144.36,1302.72 144.40,1302.50 144.46,1302.22 144.53,1301.88 144.61,1301.47 144.71,1301.01 144.82,1300.48 144.94,1299.90 145.07,1299.25 145.22,1298.55 145.38,1297.78 145.55,1296.96 145.73,1296.09 145.93,1295.16 146.14,1294.17 146.36,1293.13 146.60,1292.03 146.85,1290.89 147.11,1289.69 147.38,1288.44 147.67,1287.14 147.97,1285.80 148.28,1284.41 148.61,1282.97 148.94,1281.49 149.29,1279.97 149.66,1278.40 150.03,1276.80 150.42,1275.15 150.82,1273.47 151.24,1271.75 151.67,1270.00 152.10,1268.21 152.56,1266.39 153.02,1264.54 153.50,1262.66 153.99,1260.75 154.49,1258.81 155.01,1256.85 155.54,1254.86 156.08,1252.85 156.63,1250.82 157.20,1248.77 157.78,1246.70 158.37,1244.61 158.98,1242.50 159.60,1240.38 160.23,1238.24 160.87,1236.09 161.53,1233.93 162.20,1231.75 162.88,1229.57 163.57,1227.38 164.28,1225.17 165.00,1222.97 165.73,1220.75 166.48,1218.54 167.24,1216.31 168.01,1214.09 168.79,1211.86 169.59,1209.64 170.40,1207.41 171.22,1205.18 172.05,1202.95 172.90,1200.73 173.76,1198.51 174.63,1196.29 175.52,1194.08 176.42,1191.87 177.33,1189.67 178.25,1187.47 179.19,1185.28 180.14,1183.10 181.10,1180.93 182.07,1178.76 183.06,1176.61 184.06,1174.46 185.08,1172.32 186.10,1170.20 187.14,1168.08 188.19,1165.98 189.25,1163.89 190.33,1161.80 191.42,1159.74 192.52,1157.68 193.64,1155.64 194.77,1153.61 195.91,1151.59 197.06,1149.59 198.23,1147.60 199.40,1145.62 200.60,1143.66 201.80,1141.72 203.02,1139.79 204.25,1137.87 205.49,1135.97 206.74,1134.08 208.01,1132.21 209.29,1130.35 210.59,1128.51 211.89,1126.68 213.21,1124.87 214.54,1123.08 215.89,1121.30 217.24,1119.54 218.61,1117.79 220.00,1116.05 221.39,1114.34 222.80,1112.64 224.22,1110.95 225.65,1109.28 227.10,1107.63 228.56,1105.99 230.03,1104.36 231.51,1102.76 233.01,1101.16 234.52,1099.59 236.04,1098.03 237.58,1096.48 239.13,1094.95 240.69,1093.43 242.26,1091.93 243.85,1090.45 245.45,1088.98 247.06,1087.52 248.68,1086.08 250.32,1084.65 251.97,1083.24 253.63,1081.84 255.31,1080.46 257.00,1079.09 258.70,1077.73 260.41,1076.39 262.14,1075.07 263.88,1073.75 265.63,1072.45 267.40,1071.17 269.17,1069.90 270.96,1068.64 272.77,1067.39 274.58,1066.16 276.41,1064.94 278.25,1063.73 280.11,1062.54 281.97,1061.36 283.85,1060.19 285.75,1059.03 287.65,1057.89 289.57,1056.76 291.50,1055.64 293.44,1054.53 295.40,1053.44 297.37,1052.35 299.35,1051.28 301.34,1050.22 303.35,1049.17 305.37,1048.13 307.40,1047.10 309.45,1046.09 311.50,1045.08 313.57,1044.09 315.66,1043.10 317.75,1042.13 319.86,1041.17 321.98,1040.21 324.12,1039.27 326.27,1038.34 328.43,1037.42 330.60,1036.50 332.78,1035.60 334.98,1034.71 337.19,1033.82 339.42,1032.95 341.65,1032.08 343.90,1031.23 346.16,1030.38 348.44,1029.54 350.72,1028.72 353.02,1027.89 355.34,1027.08 357.66,1026.28 360.00,1025.49 362.35,1024.70 364.71,1023.92 367.09,1023.15 369.48,1022.39 371.88,1021.64 374.30,1020.89 376.72,1020.16 379.16,1019.43 381.62,1018.70 384.08,1017.99 386.56,1017.28 389.05,1016.58 391.56,1015.89 394.07,1015.20 396.60,1014.52 399.14,1013.85 401.70,1013.19 404.27,1012.53 406.85,1011.88 409.44,1011.24 412.05,1010.60 414.66,1009.97 417.30,1009.34 419.94,1008.73 422.60,1008.11 425.27,1007.51 427.95,1006.91 430.64,1006.31 433.35,1005.73 436.07,1005.15 438.80,1004.57 441.55,1004.00 444.31,1003.44 447.08,1002.88 449.86,1002.32 452.66,1001.78 455.47,1001.24 458.29,1000.70 461.13,1000.17 463.98,999.64 466.84,999.12 469.71,998.61 472.60,998.10 475.50,997.59 478.41,997.09 481.33,996.59 484.27,996.10 487.22,995.62 490.18,995.14 493.16,994.66 496.14,994.19 499.15,993.72 502.16,993.26 505.19,992.80 508.22,992.35 511.28,991.90 514.34,991.45 517.42,991.01 520.51,990.57 523.61,990.14 526.73,989.71 529.85,989.29 533.00,988.87 536.15,988.45 539.32,988.04 542.49,987.63 545.69,987.22 548.89,986.82 552.11,986.42 555.34,986.03 558.58,985.64 561.84,985.25 565.11,984.87 568.39,984.49 571.68,984.12 574.99,983.74 578.31,983.38 581.64,983.01 584.98,982.65 588.34,982.29 591.71,981.93 595.09,981.58 598.49,981.23 601.90,980.89 605.32,980.54 608.75,980.20 612.20,979.87 615.66,979.53 619.13,979.20 622.62,978.87 626.12,978.55 629.63,978.23 633.15,977.91 636.68,977.59 640.23,977.28 643.80,976.97 647.37,976.66 650.96,976.35 654.56,976.05 658.17,975.75 661.79,975.45 665.43,975.16 669.08,974.87 672.75,974.58 676.42,974.29 680.11,974.00 683.81,973.72 687.53,973.44 691.25,973.16 694.99,972.89 698.75,972.62 702.51,972.34 706.29,972.08 710.08,971.81 713.88,971.55 717.70,971.28" fill="none" stroke="#00ff00" stroke-width="2.5" stroke-linejoin="round"/>
<path d="M151.47,1191.82V1248.42M144.22,1191.82H158.72M144.22,1248.42H158.72" stroke="#00ff00" stroke-width="2" fill="none"/>
<path d="M158.64,1225.78V1246.80M151.39,1225.78H165.89M151.39,1246.80H165.89" stroke="#00ff00" stroke-width="2" fill="none"/>
<path d="M172.97,1166.35V1205.16M165.72,1166.35H180.22M165.72,1205.16H180.22" stroke="#00ff00" stroke-width="2" fill="none"/>
<path d="M230.31,1107.32V1133.19M223.06,1107.32H237.56M223.06,1133.19H237.56" stroke="#00ff00" stroke-width="2" fill="none"/>
<path d="M287.65,1096.00V1121.87M280.40,1096.00H294.90M280.40,1121.87H294.90" stroke="#00ff00" stroke-width="2" fill="none"/>
<path d="M431.00,1006.24V1018.37M423.75,1006.24H438.25M423.75,1018.37H438.25" stroke="#00ff00" stroke-width="2" fill="none"/>
<path d="M717.70,960.56V968.64M710.45,960.56H724.95M710.45,968.64H724.95" stroke="#00ff00" stroke-width="2" fill="none"/>
<circle cx="151.47" cy="1220.12" r="8.50" fill="#00ff00"/>
<circle cx="158.64" cy="1236.29" r="8.50" fill="#00ff00"/>
<circle cx="172.97" cy="1185.75" r="8.50" fill="#00ff00"/>
<circle cx="201.64" cy="1137.64" r="8.50" fill="#00ff00"/>
<circle cx="230.31" cy="1120.26" r="8.50" fill="#00ff00"/>
<circle cx="287.65" cy="1108.94" r="8.50" fill="#00ff00"/>
<circle cx="431.00" cy="1012.31" r="8.50" fill="#00ff00"/>
<circle cx="717.70" cy="964.60" r="8.50" fill="#00ff00"/>
<path d="M151.47,1169.18V1216.08M144.22,1169.18H158.72M144.22,1216.08H158.72" stroke="#ff0000" stroke-width="2" fill="none"/>
<path d="M158.64,1131.58V1147.75M151.39,1131.58H165.89M151.39,1147.75H165.89" stroke="#ff0000" stroke-width="2" fill="none"/>
<path d="M172.97,1067.29V1083.47M165.72,1067.29H180.22M165.72,1083.47H180.22" stroke="#ff0000" stroke-width="2" fill="none"/>
<path d="M201.64,941.56V953.68M194.39,941.56H208.89M194.39,953.68H208.89" stroke="#ff0000" stroke-width="2" fill="none"/>
<path d="M230.31,934.68V942.77M223.06,934.68H237.56M223.06,942.77H237.56" stroke="#ff0000" stroke-width="2" fill="none"/>
<path d="M287.65,889.81V918.11M280.40,889.81H294.90M280.40,918.11H294.90" stroke="#ff0000" stroke-width="2" fill="none"/>
<path d="M431.00,838.06V862.31M423.75,838.06H438.25M423.75,862.31H438.25" stroke="#ff0000" stroke-width="2" fill="none"/>
<path d="M717.70,819.86V831.99M710.45,819.86H724.95M710.45,831.99H724.95" stroke="#ff0000" stroke-width="2" fill="none"/>
<rect x="143.97" y="1185.13" width="15.00" height="15.00" fill="#ff0000"/>
<rect x="151.14" y="1132.16" width="15.00" height="15.00" fill="#ff0000"/>
<rect x="165.47" y="1067.88" width="15.00" height="15.00" fill="#ff0000"/>
<rect x="194.14" y="940.12" width="15.00" height="15.00" fill="#ff0000"/>
<rect x="222.81" y="931.23" width="15.00" height="15.00" fill="#ff0000"/>
<rect x="280.15" y="896.46" width="15.00" height="15.00" fill="#ff0000"/>
<rect x="423.50" y="842.68" width="15.00" height="15.00" fill="#ff0000"/>
<rect x="710.20" y="818.43" width="15.00" height="15.00" fill="#ff0000"/>
<path d="M151.47,1159.88V1195.46M144.22,1159.88H158.72M144.22,1195.46H158.72" stroke="#0000ff" stroke-width="2" fill="none"/>
<path d="M158.64,1124.30V1162.30M151.39,1124.30H165.89M151.39,1162.30H165.89" stroke="#0000ff" stroke-width="2" fill="none"/>
<path d="M172.97,1064.87V1094.79M165.72,1064.87H180.22M165.72,1094.79H180.22" stroke="#0000ff" stroke-width="2" fill="none"/>
<path d="M201.64,941.96V996.94M194.39,941.96H208.89M194.39,996.94H208.89" stroke="#0000ff" stroke-width="2" fill="none"/>
<path d="M287.65,868.78V916.49M280.40,868.78H294.90M280.40,916.49H294.90" stroke="#0000ff" stroke-width="2" fill="none"/>
<path d="M431.00,845.74V870.80M423.75,845.74H438.25M423.75,870.80H438.25" stroke="#0000ff" stroke-width="2" fill="none"/>
<path d="M717.70,790.35V865.55M710.45,790.35H724.95M710.45,865.55H724.95" stroke="#0000ff" stroke-width="2" fill="none"/>
<path d="M151.47,1165.00L162.72,1184.00L140.22,1184.00Z" fill="#0000ff"/>
<path d="M158.64,1130.63L169.89,1149.63L147.39,1149.63Z" fill="#0000ff"/>
<path d="M172.97,1067.16L184.22,1086.16L161.72,1086.16Z" fill="#0000ff"/>
<path d="M201.64,956.79L212.89,975.79L190.39,975.79Z" fill="#0000ff"/>
<path d="M230.31,926.06L241.56,945.06L219.06,945.06Z" fill="#0000ff"/>
<path d="M287.65,879.97L298.90,898.97L276.40,898.97Z" fill="#0000ff"/>
<path d="M431.00,845.60L442.25,864.60L419.75,864.60Z" fill="#0000ff"/>
<path d="M717.70,815.28L728.95,834.28L706.45,834.28Z" fill="#0000ff"/>
</g>
<rect x="144.30" y="737.00" width="602.20" height="566.00" fill="none" stroke="#000" stroke-width="2.5"/>
<path d="M144.30,1303.00V1317.50M287.65,1303.00V1317.50M431.00,1303.00V1317.50M574.35,1303.00V1317.50M717.70,1303.00V1317.50" stroke="#000" stroke-width="2.5" fill="none"/>
<path d="M215.98,1303.00V1310.00M359.32,1303.00V1310.00M502.68,1303.00V1310.00M646.02,1303.00V1310.00" stroke="#000" stroke-width="2.5" fill="none"/>
<path d="M144.30,1303.00H129.80M144.30,1222.14H129.80M144.30,1141.28H129.80M144.30,1060.42H129.80M144.30,979.56H129.80M144.30,898.70H129.80M144.30,817.84H129.80M144.30,736.98H129.80" stroke="#000" stroke-width="2.5" fill="none"/>
<path d="M144.30,1262.57H137.30M144.30,1181.71H137.30M144.30,1100.85H137.30M144.30,1019.99H137.30M144.30,939.13H137.30M144.30,858.27H137.30M144.30,777.41H137.30" stroke="#000" stroke-width="2.5" fill="none"/>
<g transform="translate(98.15,1313.80) scale(0.9150,1)"><text x="0.00" y="0.00" font-family='"Liberation Sans", Arial, sans-serif' font-weight="bold" font-size="40" fill="#000">0</text></g>
<g transform="translate(98.11,1232.94) scale(0.9150,1)"><text x="0.00" y="0.00" font-family='"Liberation Sans", Arial, sans-serif' font-weight="bold" font-size="40" fill="#000">2</text></g>
<g transform="translate(96.84,1152.08) scale(0.9150,1)"><text x="0.00" y="0.00" font-family='"Liberation Sans", Arial, sans-serif' font-weight="bold" font-size="40" fill="#000">4</text></g>
<g transform="translate(97.97,1071.22) scale(0.9150,1)"><text x="0.00" y="0.00" font-family='"Liberation Sans", Arial, sans-serif' font-weight="bold" font-size="40" fill="#000">6</text></g>
<g transform="translate(97.77,990.36) scale(0.9150,1)"><text x="0.00" y="0.00" font-family='"Liberation Sans", Arial, sans-serif' font-weight="bold" font-size="40" fill="#000">8</text></g>
<g transform="translate(77.79,909.50) scale(0.9150,1)"><text x="0.00" y="0.00" font-family='"Liberation Sans", Arial, sans-serif' font-weight="bold" font-size="40" fill="#000">10</text></g>
<g transform="translate(77.76,828.64) scale(0.9150,1)"><text x="0.00" y="0.00" font-family='"Liberation Sans", Arial, sans-serif' font-weight="bold" font-size="40" fill="#000">12</text></g>
<g transform="translate(76.49,747.78) scale(0.9150,1)"><text x="0.00" y="0.00" font-family='"Liberation Sans", Arial, sans-serif' font-weight="bold" font-size="40" fill="#000">14</text></g>
<g transform="translate(118.61,1356.40) scale(0.9250,1)"><text x="0.00" y="0.00" font-family='"Liberation Sans", Arial, sans-serif' font-weight="bold" font-size="40" fill="#000">0.0</text></g>
<g transform="translate(261.72,1356.40) scale(0.9250,1)"><text x="0.00" y="0.00" font-family='"Liberation Sans", Arial, sans-serif' font-weight="bold" font-size="40" fill="#000">0.5</text></g>
<g transform="translate(404.88,1356.40) scale(0.9250,1)"><text x="0.00" y="0.00" font-family='"Liberation Sans", Arial, sans-serif' font-weight="bold" font-size="40" fill="#000">1.0</text></g>
<g transform="translate(547.98,1356.40) scale(0.9250,1)"><text x="0.00" y="0.00" font-family='"Liberation Sans", Arial, sans-serif' font-weight="bold" font-size="40" fill="#000">1.5</text></g>
<g transform="translate(692.10,1356.40) scale(0.9250,1)"><text x="0.00" y="0.00" font-family='"Liberation Sans", Arial, sans-serif' font-weight="bold" font-size="40" fill="#000">2.0</text></g>
<g transform="translate(345.51,1429.60) scale(0.9269,1)"><text x="0.00" y="0.00" font-family='"Liberation Sans", Arial, sans-serif' font-weight="bold" font-size="44" fill="#000">[FLV] (</text><text x="139.28" y="0.00" font-family='"Liberation Serif", serif' font-weight="normal" font-size="46" fill="#000">μ</text><text x="163.95" y="0.00" font-family='"Liberation Sans", Arial, sans-serif' font-weight="bold" font-size="44" fill="#000">M)</text></g>
<g transform="translate(50.90,1204.87) rotate(-90) scale(0.9677,1)"><text x="0.00" y="0.00" font-family='"Liberation Sans", Arial, sans-serif' font-weight="bold" font-size="41.5" fill="#000">V</text><text x="27.68" y="12.70" font-family='"Liberation Sans", Arial, sans-serif' font-weight="bold" font-size="41.5" fill="#000">0</text><text x="50.76" y="0.00" font-family='"Liberation Sans", Arial, sans-serif' font-weight="bold" font-size="41.5" fill="#000">/[PNPOx] (min</text><text x="329.75" y="-19.00" font-family='"Liberation Sans", Arial, sans-serif' font-weight="bold" font-size="41.5" fill="#000">-1</text><text x="366.65" y="0.00" font-family='"Liberation Sans", Arial, sans-serif' font-weight="bold" font-size="41.5" fill="#000">)</text></g>
<g transform="translate(26.25,703.80) scale(0.9142,1)"><text x="0.00" y="0.00" font-family='"Liberation Sans", Arial, sans-serif' font-weight="bold" font-size="44" fill="#000">C</text></g>
<g>
<polyline points="897.80,1303.00 897.81,1302.80 897.83,1302.21 897.86,1301.22 897.90,1299.85 897.96,1298.09 898.03,1295.96 898.11,1293.47 898.21,1290.63 898.32,1287.46 898.44,1283.96 898.57,1280.16 898.72,1276.07 898.88,1271.71 899.05,1267.10 899.23,1262.25 899.43,1257.19 899.64,1251.93 899.87,1246.50 900.10,1240.91 900.35,1235.18 900.61,1229.33 900.89,1223.38 901.17,1217.35 901.47,1211.24 901.78,1205.08 902.11,1198.88 902.45,1192.65 902.80,1186.42 903.16,1180.18 903.54,1173.96 903.93,1167.76 904.33,1161.59 904.74,1155.47 905.17,1149.39 905.61,1143.38 906.06,1137.42 906.53,1131.54 907.00,1125.73 907.50,1120.00 908.00,1114.35 908.52,1108.80 909.04,1103.33 909.59,1097.95 910.14,1092.67 910.71,1087.49 911.29,1082.41 911.88,1077.42 912.49,1072.53 913.11,1067.74 913.74,1063.05 914.38,1058.46 915.04,1053.97 915.71,1049.57 916.39,1045.28 917.08,1041.07 917.79,1036.97 918.51,1032.95 919.24,1029.03 919.99,1025.20 920.75,1021.46 921.52,1017.81 922.30,1014.24 923.10,1010.76 923.91,1007.36 924.73,1004.04 925.57,1000.80 926.41,997.64 927.28,994.55 928.15,991.54 929.03,988.60 929.93,985.73 930.85,982.93 931.77,980.20 932.71,977.54 933.66,974.93 934.62,972.40 935.59,969.92 936.58,967.50 937.58,965.14 938.60,962.83 939.62,960.58 940.66,958.39 941.71,956.24 942.78,954.15 943.86,952.11 944.95,950.11 946.05,948.16 947.16,946.26 948.29,944.40 949.43,942.58 950.59,940.81 951.75,939.07 952.93,937.38 954.12,935.72 955.33,934.11 956.55,932.53 957.78,930.98 959.02,929.47 960.28,927.99 961.54,926.55 962.83,925.14 964.12,923.76 965.43,922.41 966.75,921.09 968.08,919.79 969.42,918.53 970.78,917.29 972.15,916.08 973.53,914.90 974.93,913.74 976.34,912.60 977.76,911.49 979.20,910.40 980.64,909.34 982.10,908.30 983.57,907.28 985.06,906.28 986.56,905.30 988.07,904.34 989.59,903.40 991.13,902.47 992.68,901.57 994.24,900.69 995.81,899.82 997.40,898.97 999.00,898.13 1000.61,897.32 1002.24,896.51 1003.88,895.73 1005.53,894.96 1007.19,894.20 1008.87,893.46 1010.56,892.73 1012.26,892.02 1013.97,891.32 1015.70,890.63 1017.44,889.96 1019.19,889.29 1020.96,888.64 1022.74,888.00 1024.53,887.38 1026.33,886.76 1028.15,886.16 1029.98,885.57 1031.82,884.98 1033.68,884.41 1035.55,883.85 1037.43,883.30 1039.32,882.75 1041.22,882.22 1043.14,881.70 1045.08,881.18 1047.02,880.68 1048.98,880.18 1050.95,879.69 1052.93,879.21 1054.92,878.74 1056.93,878.27 1058.95,877.81 1060.99,877.36 1063.03,876.92 1065.09,876.49 1067.16,876.06 1069.25,875.64 1071.34,875.23 1073.45,874.82 1075.58,874.42 1077.71,874.02 1079.86,873.64 1082.02,873.26 1084.20,872.88 1086.38,872.51 1088.58,872.15 1090.79,871.79 1093.02,871.43 1095.25,871.09 1097.50,870.74 1099.77,870.41 1102.04,870.08 1104.33,869.75 1106.63,869.43 1108.95,869.11 1111.27,868.80 1113.61,868.49 1115.97,868.19 1118.33,867.89 1120.71,867.60 1123.10,867.31 1125.50,867.02 1127.92,866.74 1130.35,866.46 1132.79,866.19 1135.24,865.92 1137.71,865.65 1140.19,865.39 1142.68,865.13 1145.19,864.88 1147.70,864.62 1150.23,864.38 1152.78,864.13 1155.33,863.89 1157.90,863.65 1160.48,863.42 1163.08,863.19 1165.69,862.96 1168.31,862.74 1170.94,862.51 1173.58,862.30 1176.24,862.08 1178.91,861.87 1181.60,861.66 1184.29,861.45 1187.00,861.24 1189.72,861.04 1192.46,860.84 1195.21,860.65 1197.97,860.45 1200.74,860.26 1203.52,860.07 1206.32,859.88 1209.13,859.70 1211.96,859.52 1214.79,859.34 1217.64,859.16 1220.51,858.98 1223.38,858.81 1226.27,858.64 1229.17,858.47 1232.08,858.30 1235.01,858.14 1237.95,857.97 1240.90,857.81 1243.86,857.65 1246.84,857.50 1249.83,857.34 1252.83,857.19 1255.85,857.04 1258.87,856.89 1261.91,856.74 1264.97,856.59 1268.03,856.45 1271.11,856.31 1274.20,856.17 1277.31,856.03 1280.43,855.89 1283.56,855.75 1286.70,855.62 1289.85,855.49 1293.02,855.35 1296.20,855.22 1299.40,855.10 1302.60,854.97 1305.82,854.84 1309.05,854.72 1312.30,854.60 1315.56,854.47 1318.83,854.35 1322.11,854.24 1325.40,854.12 1328.71,854.00 1332.03,853.89 1335.37,853.77 1338.71,853.66 1342.07,853.55 1345.45,853.44 1348.83,853.33 1352.23,853.22 1355.64,853.12 1359.06,853.01 1362.50,852.91 1365.95,852.80 1369.41,852.70 1372.88,852.60 1376.37,852.50 1379.87,852.40 1383.38,852.30 1386.90,852.21 1390.44,852.11 1393.99,852.02 1397.56,851.92 1401.13,851.83 1404.72,851.74 1408.32,851.65 1411.94,851.56 1415.56,851.47 1419.20,851.38 1422.86,851.29 1426.52,851.21 1430.20,851.12 1433.89,851.03 1437.59,850.95 1441.31,850.87 1445.04,850.79 1448.78,850.70 1452.54,850.62 1456.30,850.54 1460.08,850.46 1463.88,850.39 1467.68,850.31 1471.50,850.23" fill="none" stroke="#ff0000" stroke-width="2.5" stroke-linejoin="round"/>
<polyline points="897.80,1303.00 897.81,1302.84 897.83,1302.37 897.86,1301.59 897.90,1300.49 897.96,1299.10 898.03,1297.40 898.11,1295.40 898.21,1293.12 898.32,1290.56 898.44,1287.72 898.57,1284.62 898.72,1281.28 898.88,1277.69 899.05,1273.87 899.23,1269.83 899.43,1265.58 899.64,1261.14 899.87,1256.52 900.10,1251.73 900.35,1246.78 900.61,1241.69 900.89,1236.46 901.17,1231.12 901.47,1225.67 901.78,1220.13 902.11,1214.50 902.45,1208.80 902.80,1203.05 903.16,1197.24 903.54,1191.39 903.93,1185.51 904.33,1179.61 904.74,1173.70 905.17,1167.79 905.61,1161.88 906.06,1155.99 906.53,1150.11 907.00,1144.26 907.50,1138.43 908.00,1132.65 908.52,1126.91 909.04,1121.22 909.59,1115.57 910.14,1109.99 910.71,1104.46 911.29,1098.99 911.88,1093.59 912.49,1088.25 913.11,1082.99 913.74,1077.79 914.38,1072.67 915.04,1067.63 915.71,1062.66 916.39,1057.76 917.08,1052.95 917.79,1048.21 918.51,1043.55 919.24,1038.97 919.99,1034.47 920.75,1030.05 921.52,1025.70 922.30,1021.43 923.10,1017.24 923.91,1013.13 924.73,1009.10 925.57,1005.13 926.41,1001.25 927.28,997.44 928.15,993.70 929.03,990.04 929.93,986.44 930.85,982.92 931.77,979.46 932.71,976.08 933.66,972.76 934.62,969.50 935.59,966.32 936.58,963.19 937.58,960.13 938.60,957.13 939.62,954.19 940.66,951.31 941.71,948.49 942.78,945.72 943.86,943.01 944.95,940.36 946.05,937.76 947.16,935.21 948.29,932.71 949.43,930.26 950.59,927.86 951.75,925.51 952.93,923.21 954.12,920.96 955.33,918.74 956.55,916.58 957.78,914.45 959.02,912.37 960.28,910.33 961.54,908.33 962.83,906.37 964.12,904.45 965.43,902.57 966.75,900.72 968.08,898.91 969.42,897.13 970.78,895.39 972.15,893.69 973.53,892.01 974.93,890.37 976.34,888.76 977.76,887.18 979.20,885.63 980.64,884.11 982.10,882.62 983.57,881.16 985.06,879.72 986.56,878.31 988.07,876.93 989.59,875.57 991.13,874.24 992.68,872.94 994.24,871.65 995.81,870.39 997.40,869.16 999.00,867.94 1000.61,866.75 1002.24,865.58 1003.88,864.43 1005.53,863.30 1007.19,862.20 1008.87,861.11 1010.56,860.04 1012.26,858.99 1013.97,857.95 1015.70,856.94 1017.44,855.94 1019.19,854.96 1020.96,854.00 1022.74,853.06 1024.53,852.13 1026.33,851.21 1028.15,850.31 1029.98,849.43 1031.82,848.56 1033.68,847.71 1035.55,846.87 1037.43,846.04 1039.32,845.23 1041.22,844.43 1043.14,843.65 1045.08,842.87 1047.02,842.11 1048.98,841.37 1050.95,840.63 1052.93,839.91 1054.92,839.19 1056.93,838.49 1058.95,837.80 1060.99,837.12 1063.03,836.46 1065.09,835.80 1067.16,835.15 1069.25,834.51 1071.34,833.89 1073.45,833.27 1075.58,832.66 1077.71,832.06 1079.86,831.47 1082.02,830.89 1084.20,830.32 1086.38,829.75 1088.58,829.20 1090.79,828.65 1093.02,828.11 1095.25,827.58 1097.50,827.06 1099.77,826.54 1102.04,826.04 1104.33,825.54 1106.63,825.04 1108.95,824.56 1111.27,824.08 1113.61,823.60 1115.97,823.14 1118.33,822.68 1120.71,822.23 1123.10,821.78 1125.50,821.34 1127.92,820.91 1130.35,820.48 1132.79,820.06 1135.24,819.64 1137.71,819.23 1140.19,818.83 1142.68,818.43 1145.19,818.03 1147.70,817.65 1150.23,817.26 1152.78,816.88 1155.33,816.51 1157.90,816.14 1160.48,815.78 1163.08,815.42 1165.69,815.07 1168.31,814.72 1170.94,814.38 1173.58,814.04 1176.24,813.70 1178.91,813.37 1181.60,813.04 1184.29,812.72 1187.00,812.40 1189.72,812.09 1192.46,811.78 1195.21,811.47 1197.97,811.17 1200.74,810.87 1203.52,810.57 1206.32,810.28 1209.13,809.99 1211.96,809.71 1214.79,809.43 1217.64,809.15 1220.51,808.88 1223.38,808.60 1226.27,808.34 1229.17,808.07 1232.08,807.81 1235.01,807.55 1237.95,807.30 1240.90,807.05 1243.86,806.80 1246.84,806.55 1249.83,806.31 1252.83,806.07 1255.85,805.83 1258.87,805.60 1261.91,805.36 1264.97,805.14 1268.03,804.91 1271.11,804.68 1274.20,804.46 1277.31,804.24 1280.43,804.03 1283.56,803.81 1286.70,803.60 1289.85,803.39 1293.02,803.19 1296.20,802.98 1299.40,802.78 1302.60,802.58 1305.82,802.38 1309.05,802.19 1312.30,801.99 1315.56,801.80 1318.83,801.61 1322.11,801.43 1325.40,801.24 1328.71,801.06 1332.03,800.88 1335.37,800.70 1338.71,800.52 1342.07,800.34 1345.45,800.17 1348.83,800.00 1352.23,799.83 1355.64,799.66 1359.06,799.49 1362.50,799.33 1365.95,799.17 1369.41,799.00 1372.88,798.84 1376.37,798.69 1379.87,798.53 1383.38,798.38 1386.90,798.22 1390.44,798.07 1393.99,797.92 1397.56,797.77 1401.13,797.63 1404.72,797.48 1408.32,797.34 1411.94,797.19 1415.56,797.05 1419.20,796.91 1422.86,796.77 1426.52,796.64 1430.20,796.50 1433.89,796.37 1437.59,796.23 1441.31,796.10 1445.04,795.97 1448.78,795.84 1452.54,795.71 1456.30,795.59 1460.08,795.46 1463.88,795.34 1467.68,795.21 1471.50,795.09" fill="none" stroke="#0000ff" stroke-width="2.5" stroke-linejoin="round"/>
<polyline points="897.80,1303.00 897.81,1302.98 897.83,1302.93 897.86,1302.85 897.90,1302.73 897.96,1302.57 898.03,1302.39 898.11,1302.16 898.21,1301.91 898.32,1301.62 898.44,1301.30 898.57,1300.94 898.72,1300.55 898.88,1300.13 899.05,1299.67 899.23,1299.19 899.43,1298.66 899.64,1298.11 899.87,1297.53 900.10,1296.91 900.35,1296.26 900.61,1295.58 900.89,1294.87 901.17,1294.13 901.47,1293.35 901.78,1292.55 902.11,1291.72 902.45,1290.86 902.80,1289.97 903.16,1289.05 903.54,1288.10 903.93,1287.12 904.33,1286.12 904.74,1285.09 905.17,1284.03 905.61,1282.95 906.06,1281.84 906.53,1280.70 907.00,1279.54 907.50,1278.35 908.00,1277.14 908.52,1275.91 909.04,1274.65 909.59,1273.37 910.14,1272.07 910.71,1270.74 911.29,1269.40 911.88,1268.03 912.49,1266.64 913.11,1265.23 913.74,1263.81 914.38,1262.36 915.04,1260.89 915.71,1259.41 916.39,1257.90 917.08,1256.38 917.79,1254.85 918.51,1253.30 919.24,1251.73 919.99,1250.14 920.75,1248.54 921.52,1246.93 922.30,1245.30 923.10,1243.66 923.91,1242.01 924.73,1240.34 925.57,1238.66 926.41,1236.97 927.28,1235.27 928.15,1233.56 929.03,1231.83 929.93,1230.10 930.85,1228.36 931.77,1226.61 932.71,1224.85 933.66,1223.08 934.62,1221.31 935.59,1219.52 936.58,1217.73 937.58,1215.94 938.60,1214.14 939.62,1212.33 940.66,1210.52 941.71,1208.70 942.78,1206.88 943.86,1205.05 944.95,1203.22 946.05,1201.39 947.16,1199.55 948.29,1197.72 949.43,1195.87 950.59,1194.03 951.75,1192.19 952.93,1190.34 954.12,1188.49 955.33,1186.65 956.55,1184.80 957.78,1182.95 959.02,1181.10 960.28,1179.26 961.54,1177.41 962.83,1175.57 964.12,1173.72 965.43,1171.88 966.75,1170.04 968.08,1168.20 969.42,1166.37 970.78,1164.54 972.15,1162.71 973.53,1160.88 974.93,1159.06 976.34,1157.24 977.76,1155.42 979.20,1153.61 980.64,1151.80 982.10,1150.00 983.57,1148.20 985.06,1146.41 986.56,1144.62 988.07,1142.83 989.59,1141.06 991.13,1139.28 992.68,1137.51 994.24,1135.75 995.81,1134.00 997.40,1132.25 999.00,1130.50 1000.61,1128.77 1002.24,1127.04 1003.88,1125.31 1005.53,1123.59 1007.19,1121.88 1008.87,1120.18 1010.56,1118.48 1012.26,1116.79 1013.97,1115.11 1015.70,1113.44 1017.44,1111.77 1019.19,1110.11 1020.96,1108.45 1022.74,1106.81 1024.53,1105.17 1026.33,1103.54 1028.15,1101.92 1029.98,1100.31 1031.82,1098.70 1033.68,1097.10 1035.55,1095.51 1037.43,1093.93 1039.32,1092.36 1041.22,1090.79 1043.14,1089.24 1045.08,1087.69 1047.02,1086.15 1048.98,1084.61 1050.95,1083.09 1052.93,1081.57 1054.92,1080.07 1056.93,1078.57 1058.95,1077.08 1060.99,1075.60 1063.03,1074.13 1065.09,1072.66 1067.16,1071.21 1069.25,1069.76 1071.34,1068.32 1073.45,1066.89 1075.58,1065.47 1077.71,1064.05 1079.86,1062.65 1082.02,1061.25 1084.20,1059.87 1086.38,1058.49 1088.58,1057.12 1090.79,1055.75 1093.02,1054.40 1095.25,1053.06 1097.50,1051.72 1099.77,1050.39 1102.04,1049.07 1104.33,1047.76 1106.63,1046.46 1108.95,1045.16 1111.27,1043.88 1113.61,1042.60 1115.97,1041.33 1118.33,1040.07 1120.71,1038.81 1123.10,1037.57 1125.50,1036.33 1127.92,1035.11 1130.35,1033.89 1132.79,1032.67 1135.24,1031.47 1137.71,1030.27 1140.19,1029.09 1142.68,1027.91 1145.19,1026.73 1147.70,1025.57 1150.23,1024.41 1152.78,1023.26 1155.33,1022.12 1157.90,1020.99 1160.48,1019.87 1163.08,1018.75 1165.69,1017.64 1168.31,1016.54 1170.94,1015.44 1173.58,1014.35 1176.24,1013.28 1178.91,1012.20 1181.60,1011.14 1184.29,1010.08 1187.00,1009.03 1189.72,1007.99 1192.46,1006.95 1195.21,1005.92 1197.97,1004.90 1200.74,1003.89 1203.52,1002.88 1206.32,1001.88 1209.13,1000.89 1211.96,999.90 1214.79,998.92 1217.64,997.95 1220.51,996.99 1223.38,996.03 1226.27,995.08 1229.17,994.13 1232.08,993.19 1235.01,992.26 1237.95,991.34 1240.90,990.42 1243.86,989.51 1246.84,988.60 1249.83,987.70 1252.83,986.81 1255.85,985.92 1258.87,985.04 1261.91,984.17 1264.97,983.30 1268.03,982.43 1271.11,981.58 1274.20,980.73 1277.31,979.89 1280.43,979.05 1283.56,978.22 1286.70,977.39 1289.85,976.57 1293.02,975.75 1296.20,974.95 1299.40,974.14 1302.60,973.34 1305.82,972.55 1309.05,971.77 1312.30,970.99 1315.56,970.21 1318.83,969.44 1322.11,968.68 1325.40,967.92 1328.71,967.17 1332.03,966.42 1335.37,965.67 1338.71,964.94 1342.07,964.20 1345.45,963.48 1348.83,962.75 1352.23,962.04 1355.64,961.32 1359.06,960.62 1362.50,959.92 1365.95,959.22 1369.41,958.53 1372.88,957.84 1376.37,957.16 1379.87,956.48 1383.38,955.80 1386.90,955.14 1390.44,954.47 1393.99,953.81 1397.56,953.16 1401.13,952.51 1404.72,951.86 1408.32,951.22 1411.94,950.59 1415.56,949.95 1419.20,949.32 1422.86,948.70 1426.52,948.08 1430.20,947.47 1433.89,946.86 1437.59,946.25 1441.31,945.65 1445.04,945.05 1448.78,944.46 1452.54,943.87 1456.30,943.28 1460.08,942.70 1463.88,942.12 1467.68,941.55 1471.50,940.98" fill="none" stroke="#00ff00" stroke-width="2.5" stroke-linejoin="round"/>
<path d="M903.54,1243.97V1260.14M896.29,1243.97H910.79M896.29,1260.14H910.79" stroke="#00ff00" stroke-width="2" fill="none"/>
<path d="M912.14,1226.59V1242.76M904.89,1226.59H919.39M904.89,1242.76H919.39" stroke="#00ff00" stroke-width="2" fill="none"/>
<path d="M926.48,1209.61V1229.82M919.23,1209.61H933.73M919.23,1229.82H933.73" stroke="#00ff00" stroke-width="2" fill="none"/>
<path d="M955.17,1167.96V1193.84M947.92,1167.96H962.42M947.92,1193.84H962.42" stroke="#00ff00" stroke-width="2" fill="none"/>
<path d="M983.86,1141.68V1179.69M976.61,1141.68H991.11M976.61,1179.69H991.11" stroke="#00ff00" stroke-width="2" fill="none"/>
<path d="M1041.22,1098.83V1102.87M1033.97,1098.83H1048.47M1033.97,1102.87H1048.47" stroke="#00ff00" stroke-width="2" fill="none"/>
<path d="M1184.65,1007.86V1011.90M1177.40,1007.86H1191.90M1177.40,1011.90H1191.90" stroke="#00ff00" stroke-width="2" fill="none"/>
<path d="M1471.50,937.92V941.96M1464.25,937.92H1478.75M1464.25,941.96H1478.75" stroke="#00ff00" stroke-width="2" fill="none"/>
<circle cx="903.54" cy="1252.06" r="8.50" fill="#00ff00"/>
<circle cx="912.14" cy="1234.67" r="8.50" fill="#00ff00"/>
<circle cx="926.48" cy="1219.71" r="8.50" fill="#00ff00"/>
<circle cx="955.17" cy="1180.90" r="8.50" fill="#00ff00"/>
<circle cx="983.86" cy="1160.69" r="8.50" fill="#00ff00"/>
<circle cx="1041.22" cy="1100.85" r="8.50" fill="#00ff00"/>
<circle cx="1184.65" cy="1009.88" r="8.50" fill="#00ff00"/>
<circle cx="1471.50" cy="939.94" r="8.50" fill="#00ff00"/>
<path d="M903.54,1141.68V1182.11M896.29,1141.68H910.79M896.29,1182.11H910.79" stroke="#ff0000" stroke-width="2" fill="none"/>
<path d="M912.14,1111.36V1137.24M904.89,1111.36H919.39M904.89,1137.24H919.39" stroke="#ff0000" stroke-width="2" fill="none"/>
<path d="M926.48,984.82V1013.12M919.23,984.82H933.73M919.23,1013.12H933.73" stroke="#ff0000" stroke-width="2" fill="none"/>
<path d="M955.17,939.13V959.35M947.92,939.13H962.42M947.92,959.35H962.42" stroke="#ff0000" stroke-width="2" fill="none"/>
<path d="M983.86,881.32V889.40M976.61,881.32H991.11M976.61,889.40H991.11" stroke="#ff0000" stroke-width="2" fill="none"/>
<path d="M1041.22,869.19V889.40M1033.97,869.19H1048.47M1033.97,889.40H1048.47" stroke="#ff0000" stroke-width="2" fill="none"/>
<path d="M1184.65,848.57V856.65M1177.40,848.57H1191.90M1177.40,856.65H1191.90" stroke="#ff0000" stroke-width="2" fill="none"/>
<rect x="896.04" y="1154.40" width="15.00" height="15.00" fill="#ff0000"/>
<rect x="904.64" y="1116.80" width="15.00" height="15.00" fill="#ff0000"/>
<rect x="918.98" y="991.47" width="15.00" height="15.00" fill="#ff0000"/>
<rect x="947.67" y="941.74" width="15.00" height="15.00" fill="#ff0000"/>
<rect x="976.36" y="877.86" width="15.00" height="15.00" fill="#ff0000"/>
<rect x="1033.72" y="871.79" width="15.00" height="15.00" fill="#ff0000"/>
<rect x="1177.15" y="845.11" width="15.00" height="15.00" fill="#ff0000"/>
<rect x="1464.00" y="862.90" width="15.00" height="15.00" fill="#ff0000"/>
<path d="M903.54,1135.22V1143.30M896.29,1135.22H910.79M896.29,1143.30H910.79" stroke="#0000ff" stroke-width="2" fill="none"/>
<path d="M912.14,1108.13V1134.81M904.89,1108.13H919.39M904.89,1134.81H919.39" stroke="#0000ff" stroke-width="2" fill="none"/>
<path d="M926.48,997.75V1005.84M919.23,997.75H933.73M919.23,1005.84H933.73" stroke="#0000ff" stroke-width="2" fill="none"/>
<path d="M955.17,901.93V921.34M947.92,901.93H962.42M947.92,921.34H962.42" stroke="#0000ff" stroke-width="2" fill="none"/>
<path d="M983.86,859.89V909.21M976.61,859.89H991.11M976.61,909.21H991.11" stroke="#0000ff" stroke-width="2" fill="none"/>
<path d="M1041.22,792.37V861.10M1033.97,792.37H1048.47M1033.97,861.10H1048.47" stroke="#0000ff" stroke-width="2" fill="none"/>
<path d="M1184.65,783.07V918.91M1177.40,783.07H1191.90M1177.40,918.91H1191.90" stroke="#0000ff" stroke-width="2" fill="none"/>
<path d="M1471.50,784.69V812.18M1464.25,784.69H1478.75M1464.25,812.18H1478.75" stroke="#0000ff" stroke-width="2" fill="none"/>
<path d="M903.54,1126.59L914.79,1145.59L892.29,1145.59Z" fill="#0000ff"/>
<path d="M912.14,1108.80L923.39,1127.80L900.89,1127.80Z" fill="#0000ff"/>
<path d="M926.48,989.13L937.73,1008.13L915.23,1008.13Z" fill="#0000ff"/>
<path d="M955.17,898.97L966.42,917.97L943.92,917.97Z" fill="#0000ff"/>
<path d="M983.86,871.88L995.11,890.88L972.61,890.88Z" fill="#0000ff"/>
<path d="M1041.22,814.07L1052.47,833.07L1029.97,833.07Z" fill="#0000ff"/>
<path d="M1184.65,838.33L1195.90,857.33L1173.40,857.33Z" fill="#0000ff"/>
<path d="M1471.50,785.77L1482.75,804.77L1460.25,804.77Z" fill="#0000ff"/>
</g>
<rect x="897.80" y="737.00" width="601.70" height="566.00" fill="none" stroke="#000" stroke-width="2.5"/>
<path d="M897.80,1303.00V1317.50M1041.22,1303.00V1317.50M1184.65,1303.00V1317.50M1328.08,1303.00V1317.50M1471.50,1303.00V1317.50" stroke="#000" stroke-width="2.5" fill="none"/>
<path d="M969.51,1303.00V1310.00M1112.94,1303.00V1310.00M1256.36,1303.00V1310.00M1399.79,1303.00V1310.00" stroke="#000" stroke-width="2.5" fill="none"/>
<path d="M897.80,1303.00H883.30M897.80,1222.14H883.30M897.80,1141.28H883.30M897.80,1060.42H883.30M897.80,979.56H883.30M897.80,898.70H883.30M897.80,817.84H883.30M897.80,736.98H883.30" stroke="#000" stroke-width="2.5" fill="none"/>
<path d="M897.80,1262.57H890.80M897.80,1181.71H890.80M897.80,1100.85H890.80M897.80,1019.99H890.80M897.80,939.13H890.80M897.80,858.27H890.80M897.80,777.41H890.80" stroke="#000" stroke-width="2.5" fill="none"/>
<g transform="translate(851.75,1314.30) scale(0.9150,1)"><text x="0.00" y="0.00" font-family='"Liberation Sans", Arial, sans-serif' font-weight="bold" font-size="40" fill="#000">0</text></g>
<g transform="translate(851.71,1233.44) scale(0.9150,1)"><text x="0.00" y="0.00" font-family='"Liberation Sans", Arial, sans-serif' font-weight="bold" font-size="40" fill="#000">2</text></g>
<g transform="translate(850.44,1152.58) scale(0.9150,1)"><text x="0.00" y="0.00" font-family='"Liberation Sans", Arial, sans-serif' font-weight="bold" font-size="40" fill="#000">4</text></g>
<g transform="translate(851.57,1071.72) scale(0.9150,1)"><text x="0.00" y="0.00" font-family='"Liberation Sans", Arial, sans-serif' font-weight="bold" font-size="40" fill="#000">6</text></g>
<g transform="translate(851.37,990.86) scale(0.9150,1)"><text x="0.00" y="0.00" font-family='"Liberation Sans", Arial, sans-serif' font-weight="bold" font-size="40" fill="#000">8</text></g>
<g transform="translate(831.39,910.00) scale(0.9150,1)"><text x="0.00" y="0.00" font-family='"Liberation Sans", Arial, sans-serif' font-weight="bold" font-size="40" fill="#000">10</text></g>
<g transform="translate(831.36,829.14) scale(0.9150,1)"><text x="0.00" y="0.00" font-family='"Liberation Sans", Arial, sans-serif' font-weight="bold" font-size="40" fill="#000">12</text></g>
<g transform="translate(830.09,748.28) scale(0.9150,1)"><text x="0.00" y="0.00" font-family='"Liberation Sans", Arial, sans-serif' font-weight="bold" font-size="40" fill="#000">14</text></g>
<g transform="translate(872.11,1356.40) scale(0.9250,1)"><text x="0.00" y="0.00" font-family='"Liberation Sans", Arial, sans-serif' font-weight="bold" font-size="40" fill="#000">0.0</text></g>
<g transform="translate(1015.29,1356.40) scale(0.9250,1)"><text x="0.00" y="0.00" font-family='"Liberation Sans", Arial, sans-serif' font-weight="bold" font-size="40" fill="#000">0.5</text></g>
<g transform="translate(1158.53,1356.40) scale(0.9250,1)"><text x="0.00" y="0.00" font-family='"Liberation Sans", Arial, sans-serif' font-weight="bold" font-size="40" fill="#000">1.0</text></g>
<g transform="translate(1301.71,1356.40) scale(0.9250,1)"><text x="0.00" y="0.00" font-family='"Liberation Sans", Arial, sans-serif' font-weight="bold" font-size="40" fill="#000">1.5</text></g>
<g transform="translate(1445.90,1356.40) scale(0.9250,1)"><text x="0.00" y="0.00" font-family='"Liberation Sans", Arial, sans-serif' font-weight="bold" font-size="40" fill="#000">2.0</text></g>
<g transform="translate(1097.88,1430.50) scale(0.9402,1)"><text x="0.00" y="0.00" font-family='"Liberation Sans", Arial, sans-serif' font-weight="bold" font-size="44" fill="#000">[FLV] (</text><text x="139.28" y="0.00" font-family='"Liberation Serif", serif' font-weight="normal" font-size="46" fill="#000">μ</text><text x="163.95" y="0.00" font-family='"Liberation Sans", Arial, sans-serif' font-weight="bold" font-size="44" fill="#000">M)</text></g>
<g transform="translate(814.00,1212.58) rotate(-90) scale(0.9912,1)"><text x="0.00" y="0.00" font-family='"Liberation Sans", Arial, sans-serif' font-weight="bold" font-size="41.5" fill="#000">V</text><text x="27.68" y="12.70" font-family='"Liberation Sans", Arial, sans-serif' font-weight="bold" font-size="41.5" fill="#000">0</text><text x="50.76" y="0.00" font-family='"Liberation Sans", Arial, sans-serif' font-weight="bold" font-size="41.5" fill="#000">/[PNPOx] (min</text><text x="329.75" y="-19.00" font-family='"Liberation Sans", Arial, sans-serif' font-weight="bold" font-size="41.5" fill="#000">-1</text><text x="366.65" y="0.00" font-family='"Liberation Sans", Arial, sans-serif' font-weight="bold" font-size="41.5" fill="#000">)</text></g>
<g transform="translate(757.33,703.70) scale(0.9079,1)"><text x="0.00" y="0.00" font-family='"Liberation Sans", Arial, sans-serif' font-weight="bold" font-size="44" fill="#000">D</text></g>
<defs><clipPath id="clipE"><rect x="181.5" y="1476.7" width="1281.1" height="437.79999999999995"/></clipPath></defs>
<g clip-path="url(#clipE)">
<polyline points="183.0,1858.5 185.4,1860.0 187.8,1865.7 190.2,1864.7 192.6,1872.3 195.0,1875.1 197.4,1869.2 199.8,1873.5 202.2,1876.7 204.6,1871.9 207.0,1873.3 209.4,1870.8 211.8,1873.3 214.2,1869.1 216.6,1872.8 219.0,1874.4 221.4,1873.2 223.8,1874.6 226.2,1871.6 228.6,1878.1 231.0,1874.0 233.4,1875.4 235.8,1871.2 238.2,1870.5 240.6,1874.0 243.0,1878.3 245.4,1876.0 247.8,1873.1 250.2,1877.0 252.6,1876.7 255.0,1873.1 257.4,1870.7 259.8,1873.4 262.2,1871.0 264.6,1872.4 267.0,1869.2 269.4,1864.3 271.8,1869.9 274.2,1872.1 276.6,1867.5 279.0,1867.0 281.4,1866.8 283.8,1864.1 286.2,1871.3 288.6,1866.0 291.0,1866.0 293.4,1863.5 295.8,1860.4 298.2,1860.1 300.6,1862.3 303.0,1850.7 305.4,1855.4 307.8,1858.2 310.2,1853.1 312.6,1848.2 315.0,1847.4 317.4,1853.7 319.8,1849.3 322.2,1848.9 324.6,1843.5 327.0,1848.2 329.4,1849.5 331.8,1852.4 334.2,1856.7 336.6,1847.5 339.0,1852.4 341.4,1853.8 343.8,1849.4 346.2,1854.6 348.6,1852.0 351.0,1849.2 353.4,1852.2 355.8,1847.4 358.2,1851.4 360.6,1851.7 363.0,1851.5 365.4,1852.9 367.8,1844.4 370.2,1849.1 372.6,1843.6 375.0,1849.3 377.4,1840.1 379.8,1844.8 382.2,1840.6 384.6,1846.8 387.0,1836.6 389.4,1840.9 391.8,1836.0 394.2,1837.6 396.6,1835.3 399.0,1835.7 401.4,1844.7 403.8,1834.8 406.2,1832.7 408.6,1841.2 411.0,1835.5 413.4,1839.4 415.8,1834.7 418.2,1830.9 420.6,1834.7 423.0,1832.1 425.4,1832.0 427.8,1831.4 430.2,1825.4 432.6,1831.4 435.0,1830.7 437.4,1827.8 439.8,1828.3 442.2,1825.0 444.6,1824.5 447.0,1827.5 449.4,1823.6 451.8,1827.2 454.2,1823.4 456.6,1821.9 459.0,1822.4 461.4,1825.7 463.8,1822.2 466.2,1827.0 468.6,1826.3 471.0,1823.6 473.4,1825.5 475.8,1817.7 478.2,1815.6 480.6,1820.9 483.0,1817.0 485.4,1817.9 487.8,1816.2 490.2,1816.3 492.6,1821.5 495.0,1822.5 497.4,1822.1 499.8,1820.0 502.2,1817.5 504.6,1821.4 507.0,1819.7 509.4,1814.9 511.8,1813.9 514.2,1811.4 516.6,1816.0 519.0,1812.8 521.4,1814.3 523.8,1815.2 526.2,1813.9 528.6,1811.6 531.0,1809.7 533.4,1806.4 535.8,1806.9 538.2,1804.2 540.6,1803.0 543.0,1800.8 545.4,1803.9 547.8,1802.1 550.2,1803.6 552.6,1807.7 555.0,1803.9 557.4,1800.6 559.8,1804.1 562.2,1803.6 564.6,1799.0 567.0,1798.3 569.4,1797.8 571.8,1794.4 574.2,1796.1 576.6,1794.2 579.0,1792.4 581.4,1790.1 583.8,1791.7 586.2,1789.1 588.6,1789.1 591.0,1784.2 593.4,1787.3 595.8,1783.4 598.2,1781.1 600.6,1784.5 603.0,1780.0 605.4,1779.6 607.8,1782.5 610.2,1778.1 612.6,1780.6 615.0,1775.8 617.4,1775.6 619.8,1776.5 622.2,1773.5 624.6,1773.3 627.0,1773.4 629.4,1777.2 631.8,1775.9 634.2,1777.7 636.6,1771.2 639.0,1774.0 641.4,1779.4 643.8,1772.6 646.2,1770.1 648.6,1768.3 651.0,1778.3 653.4,1770.1 655.8,1772.6 658.2,1771.9 660.6,1772.1 663.0,1766.6 665.4,1770.0 667.8,1766.2 670.2,1763.1 672.6,1768.4 675.0,1762.8 677.4,1764.7 679.8,1757.8 682.2,1763.4 684.6,1762.5 687.0,1760.3 689.4,1758.5 691.8,1757.9 694.2,1754.3 696.6,1760.1 699.0,1758.3 701.4,1752.8 703.8,1754.4 706.2,1757.4 708.6,1754.1 711.0,1756.8 713.4,1755.2 715.8,1750.0 718.2,1749.4 720.6,1746.6 723.0,1752.8 725.4,1746.9 727.8,1748.7 730.2,1748.3 732.6,1743.2 735.0,1746.9 737.4,1745.7 739.8,1743.8 742.2,1747.4 744.6,1742.5 747.0,1740.7 749.4,1745.8 751.8,1740.2 754.2,1740.8 756.6,1742.2 759.0,1743.0 761.4,1733.3 763.8,1742.7 766.2,1746.7 768.6,1740.8 771.0,1737.7 773.4,1738.7 775.8,1738.2 778.2,1739.5 780.6,1735.6 783.0,1737.3 785.4,1737.5 787.8,1733.4 790.2,1731.8 792.6,1732.1 795.0,1735.4 797.4,1733.2 799.8,1737.2 802.2,1728.7 804.6,1729.6 807.0,1724.2 809.4,1726.0 811.8,1721.9 814.2,1724.9 816.6,1720.9 819.0,1717.2 821.4,1724.0 823.8,1718.4 826.2,1713.4 828.6,1713.5 831.0,1719.7 833.4,1714.5 835.8,1713.2 838.2,1716.2 840.6,1711.8 843.0,1715.6 845.4,1713.6 847.8,1714.3 850.2,1716.2 852.6,1714.6 855.0,1716.1 857.4,1712.8 859.8,1711.3 862.2,1710.0 864.6,1712.1 867.0,1703.7 869.4,1706.7 871.8,1701.1 874.2,1705.8 876.6,1704.2 879.0,1705.1 881.4,1701.9 883.8,1697.9 886.2,1701.8 888.6,1700.8 891.0,1700.6 893.4,1699.5 895.8,1701.3 898.2,1699.0 900.6,1693.6 903.0,1690.6 905.4,1697.3 907.8,1686.3 910.2,1688.1 912.6,1692.3 915.0,1694.1 917.4,1690.0 919.8,1693.4 922.2,1691.1 924.6,1689.0 927.0,1695.3 929.4,1686.7 931.8,1688.0 934.2,1692.9 936.6,1692.5 939.0,1689.7 941.4,1688.0 943.8,1683.7 946.2,1680.6 948.6,1686.2 951.0,1685.4 953.4,1689.4 955.8,1678.8 958.2,1683.0 960.6,1684.2 963.0,1677.4 965.4,1676.9 967.8,1673.0 970.2,1682.2 972.6,1674.3 975.0,1672.8 977.4,1677.5 979.8,1671.8 982.2,1677.7 984.6,1671.3 987.0,1668.2 989.4,1664.1 991.8,1668.2 994.2,1667.7 996.6,1667.4 999.0,1665.3 1001.4,1662.6 1003.8,1662.6 1006.2,1662.7 1008.6,1664.9 1011.0,1663.5 1013.4,1661.7 1015.8,1655.2 1018.2,1657.7 1020.6,1664.4 1023.0,1660.8 1025.4,1657.7 1027.8,1658.4 1030.2,1663.7 1032.6,1661.1 1035.0,1662.6 1037.4,1657.2 1039.8,1659.9 1042.2,1653.6 1044.6,1660.7 1047.0,1658.5 1049.4,1655.3 1051.8,1659.3 1054.2,1659.9 1056.6,1655.8 1059.0,1653.2 1061.4,1660.6 1063.8,1652.0 1066.2,1653.2 1068.6,1653.7 1071.0,1652.2 1073.4,1650.4 1075.8,1645.5 1078.2,1642.0 1080.6,1649.0 1083.0,1642.5 1085.4,1638.6 1087.8,1645.4 1090.2,1636.4 1092.6,1639.3 1095.0,1640.8 1097.4,1639.5 1099.8,1641.9 1102.2,1635.7 1104.6,1642.7 1107.0,1631.6 1109.4,1634.4 1111.8,1635.0 1114.2,1629.9 1116.6,1635.0 1119.0,1625.3 1121.4,1627.9 1123.8,1628.0 1126.2,1631.6 1128.6,1633.5 1131.0,1629.9 1133.4,1623.9 1135.8,1630.9 1138.2,1629.1 1140.6,1633.0 1143.0,1628.3 1145.4,1627.4 1147.8,1625.1 1150.2,1631.9 1152.6,1630.4 1155.0,1628.4 1157.4,1626.1 1159.8,1625.7 1162.2,1616.9 1164.6,1621.4 1167.0,1617.7 1169.4,1618.1 1171.8,1619.4 1174.2,1613.2 1176.6,1622.3 1179.0,1618.3 1181.4,1615.8 1183.8,1614.9 1186.2,1613.8 1188.6,1614.4 1191.0,1614.7 1193.4,1611.6 1195.8,1611.9 1198.2,1608.9 1200.6,1614.4 1203.0,1613.6 1205.4,1616.3 1207.8,1611.4 1210.2,1606.7 1212.6,1607.8 1215.0,1613.8 1217.4,1607.8 1219.8,1611.7 1222.2,1608.3 1224.6,1614.4 1227.0,1605.3 1229.4,1605.0 1231.8,1602.7 1234.2,1603.7 1236.6,1604.4 1239.0,1603.9 1241.4,1602.5 1243.8,1607.0 1246.2,1600.6 1248.6,1603.4 1251.0,1599.6 1253.4,1598.6 1255.8,1596.2 1258.2,1601.4 1260.6,1594.7 1263.0,1596.4 1265.4,1594.2 1267.8,1594.4 1270.2,1594.4 1272.6,1590.7 1275.0,1588.5 1277.4,1587.3 1279.8,1581.4 1282.2,1590.6 1284.6,1585.2 1287.0,1582.6 1289.4,1587.7 1291.8,1584.4 1294.2,1585.0 1296.6,1586.5 1299.0,1583.7 1301.4,1582.6 1303.8,1581.1 1306.2,1579.1 1308.6,1582.6 1311.0,1577.1 1313.4,1581.6 1315.8,1576.0 1318.2,1581.5 1320.6,1578.8 1323.0,1577.3 1325.4,1575.9 1327.8,1579.7 1330.2,1578.1 1332.6,1577.2 1335.0,1576.0 1337.4,1576.5 1339.8,1575.9 1342.2,1572.0 1344.6,1568.9 1347.0,1573.0 1349.4,1568.8 1351.8,1574.9 1354.2,1569.9 1356.6,1570.5 1359.0,1567.2 1361.4,1567.5 1363.8,1567.4 1366.2,1567.4 1368.6,1564.2 1371.0,1561.9 1373.4,1561.4 1375.8,1558.7 1378.2,1563.0 1380.6,1555.0 1383.0,1549.9 1385.4,1552.2 1387.8,1553.2 1390.2,1554.8 1392.6,1557.8 1395.0,1554.8 1397.4,1548.2 1399.8,1551.4 1402.2,1548.7 1404.6,1552.9 1407.0,1549.3 1409.4,1552.8 1411.8,1551.9 1414.2,1548.6 1416.6,1547.5 1419.0,1549.5 1421.4,1548.0 1423.8,1548.0 1426.2,1546.1 1428.6,1549.3 1431.0,1545.3 1433.4,1547.4 1435.8,1546.0 1438.2,1543.5 1440.6,1548.2 1443.0,1539.5 1445.4,1545.1 1447.8,1539.2 1450.2,1540.7 1452.6,1537.9 1455.0,1540.9 1457.4,1536.7 1459.8,1540.6 1462.2,1536.5" fill="none" stroke="#ff0000" stroke-width="4.6" stroke-linejoin="round" stroke-linecap="round"/>
<polyline points="183.8,1857.8 186.2,1861.3 188.6,1865.8 191.0,1871.0 193.4,1870.7 195.8,1864.4 198.2,1868.7 200.6,1874.7 203.0,1869.6 205.4,1875.3 207.8,1880.2 210.2,1874.2 212.6,1874.1 215.0,1872.7 217.4,1874.5 219.8,1873.3 222.2,1881.2 224.6,1874.5 227.0,1874.2 229.4,1872.2 231.8,1874.4 234.2,1871.7 236.6,1872.4 239.0,1870.8 241.4,1872.6 243.8,1874.4 246.2,1866.7 248.6,1866.5 251.0,1869.2 253.4,1870.9 255.8,1875.9 258.2,1868.9 260.6,1873.6 263.0,1874.1 265.4,1872.8 267.8,1875.3 270.2,1869.6 272.6,1873.1 275.0,1862.8 277.4,1867.1 279.8,1865.9 282.2,1868.7 284.6,1866.0 287.0,1865.2 289.4,1866.3 291.8,1863.8 294.2,1863.3 296.6,1868.6 299.0,1865.5 301.4,1862.4 303.8,1863.0 306.2,1856.1 308.6,1851.8 311.0,1855.0 313.4,1852.1 315.8,1851.4 318.2,1849.0 320.6,1847.1 323.0,1852.9 325.4,1852.0 327.8,1851.5 330.2,1854.5 332.6,1850.6 335.0,1849.7 337.4,1851.4 339.8,1850.1 342.2,1852.7 344.6,1854.4 347.0,1847.5 349.4,1845.8 351.8,1852.7 354.2,1850.2 356.6,1849.1 359.0,1849.5 361.4,1847.9 363.8,1847.7 366.2,1849.3 368.6,1847.4 371.0,1850.1 373.4,1845.1 375.8,1850.2 378.2,1843.4 380.6,1844.6 383.0,1849.0 385.4,1843.4 387.8,1841.4 390.2,1842.9 392.6,1841.2 395.0,1841.0 397.4,1834.1 399.8,1839.8 402.2,1836.9 404.6,1834.5 407.0,1838.7 409.4,1840.4 411.8,1839.2 414.2,1834.3 416.6,1835.8 419.0,1831.5 421.4,1837.5 423.8,1830.8 426.2,1832.7 428.6,1834.9 431.0,1832.6 433.4,1828.4 435.8,1827.1 438.2,1833.3 440.6,1831.0 443.0,1828.7 445.4,1825.0 447.8,1822.3 450.2,1826.6 452.6,1825.1 455.0,1828.8 457.4,1825.8 459.8,1822.1 462.2,1824.6 464.6,1822.8 467.0,1822.3 469.4,1820.4 471.8,1815.7 474.2,1817.8 476.6,1820.0 479.0,1821.1 481.4,1820.6 483.8,1820.3 486.2,1816.6 488.6,1812.8 491.0,1824.6 493.4,1818.2 495.8,1816.9 498.2,1816.9 500.6,1813.2 503.0,1814.1 505.4,1815.8 507.8,1821.5 510.2,1818.5 512.6,1819.2 515.0,1811.3 517.4,1813.6 519.8,1813.4 522.2,1807.4 524.6,1807.3 527.0,1808.4 529.4,1806.0 531.8,1798.9 534.2,1806.4 536.6,1802.1 539.0,1808.3 541.4,1804.2 543.8,1798.3 546.2,1797.4 548.6,1801.3 551.0,1802.0 553.4,1798.1 555.8,1801.7 558.2,1800.3 560.6,1798.2 563.0,1798.7 565.4,1798.9 567.8,1795.0 570.2,1793.3 572.6,1794.7 575.0,1793.2 577.4,1794.0 579.8,1788.0 582.2,1791.8 584.6,1787.4 587.0,1784.7 589.4,1791.0 591.8,1788.6 594.2,1778.1 596.6,1784.7 599.0,1779.4 601.4,1782.3 603.8,1779.6 606.2,1779.3 608.6,1781.6 611.0,1778.7 613.4,1774.1 615.8,1777.9 618.2,1772.3 620.6,1784.3 623.0,1778.5 625.4,1773.9 627.8,1776.3 630.2,1776.4 632.6,1775.8 635.0,1774.2 637.4,1775.2 639.8,1773.6 642.2,1773.7 644.6,1774.5 647.0,1770.9 649.4,1770.5 651.8,1768.4 654.2,1776.1 656.6,1769.5 659.0,1767.6 661.4,1768.2 663.8,1768.6 666.2,1768.6 668.6,1775.2 671.0,1768.3 673.4,1762.3 675.8,1759.2 678.2,1760.8 680.6,1755.6 683.0,1758.6 685.4,1761.5 687.8,1761.6 690.2,1761.7 692.6,1760.6 695.0,1761.0 697.4,1760.8 699.8,1760.7 702.2,1759.9 704.6,1760.8 707.0,1759.2 709.4,1756.5 711.8,1759.5 714.2,1751.6 716.6,1760.0 719.0,1751.5 721.4,1750.8 723.8,1752.5 726.2,1752.5 728.6,1748.0 731.0,1741.3 733.4,1750.2 735.8,1742.9 738.2,1749.8 740.6,1749.8 743.0,1739.3 745.4,1742.1 747.8,1745.2 750.2,1744.9 752.6,1744.5 755.0,1746.0 757.4,1746.8 759.8,1741.5 762.2,1743.1 764.6,1744.9 767.0,1738.0 769.4,1738.5 771.8,1741.3 774.2,1742.2 776.6,1738.4 779.0,1739.2 781.4,1735.0 783.8,1737.9 786.2,1738.3 788.6,1738.3 791.0,1734.3 793.4,1734.5 795.8,1729.7 798.2,1732.8 800.6,1727.9 803.0,1728.7 805.4,1727.7 807.8,1731.9 810.2,1728.8 812.6,1726.7 815.0,1722.1 817.4,1722.3 819.8,1720.8 822.2,1722.4 824.6,1718.2 827.0,1721.3 829.4,1717.0 831.8,1717.0 834.2,1718.8 836.6,1714.1 839.0,1717.6 841.4,1715.4 843.8,1713.7 846.2,1716.1 848.6,1710.3 851.0,1711.2 853.4,1712.5 855.8,1707.8 858.2,1709.4 860.6,1708.9 863.0,1706.1 865.4,1707.5 867.8,1707.1 870.2,1708.7 872.6,1705.1 875.0,1707.6 877.4,1706.2 879.8,1699.8 882.2,1703.5 884.6,1697.5 887.0,1699.6 889.4,1700.9 891.8,1701.0 894.2,1695.3 896.6,1695.0 899.0,1697.6 901.4,1694.4 903.8,1693.5 906.2,1695.2 908.6,1693.1 911.0,1694.8 913.4,1688.9 915.8,1690.3 918.2,1695.7 920.6,1688.9 923.0,1694.4 925.4,1689.9 927.8,1691.6 930.2,1690.6 932.6,1689.1 935.0,1693.7 937.4,1688.4 939.8,1690.2 942.2,1687.5 944.6,1688.8 947.0,1680.8 949.4,1688.6 951.8,1683.1 954.2,1679.5 956.6,1687.3 959.0,1684.5 961.4,1680.8 963.8,1679.0 966.2,1684.8 968.6,1676.6 971.0,1676.5 973.4,1674.3 975.8,1679.0 978.2,1674.0 980.6,1666.4 983.0,1667.3 985.4,1669.8 987.8,1671.9 990.2,1671.4 992.6,1664.2 995.0,1668.4 997.4,1667.7 999.8,1664.0 1002.2,1663.8 1004.6,1665.9 1007.0,1664.2 1009.4,1658.2 1011.8,1659.8 1014.2,1662.9 1016.6,1659.0 1019.0,1657.2 1021.4,1658.2 1023.8,1660.0 1026.2,1657.8 1028.6,1659.4 1031.0,1650.9 1033.4,1657.8 1035.8,1659.8 1038.2,1657.6 1040.6,1650.4 1043.0,1652.3 1045.4,1652.5 1047.8,1646.2 1050.2,1654.2 1052.6,1654.8 1055.0,1656.1 1057.4,1652.6 1059.8,1653.1 1062.2,1649.1 1064.6,1651.7 1067.0,1648.6 1069.4,1644.9 1071.8,1644.9 1074.2,1643.6 1076.6,1642.5 1079.0,1644.6 1081.4,1645.6 1083.8,1645.1 1086.2,1641.4 1088.6,1644.5 1091.0,1638.7 1093.4,1639.2 1095.8,1640.3 1098.2,1636.6 1100.6,1643.9 1103.0,1639.4 1105.4,1638.8 1107.8,1632.8 1110.2,1634.7 1112.6,1630.9 1115.0,1636.0 1117.4,1634.2 1119.8,1635.1 1122.2,1629.5 1124.6,1631.8 1127.0,1631.8 1129.4,1628.9 1131.8,1627.1 1134.2,1630.1 1136.6,1627.9 1139.0,1625.6 1141.4,1627.3 1143.8,1624.3 1146.2,1630.5 1148.6,1622.0 1151.0,1625.0 1153.4,1622.0 1155.8,1619.8 1158.2,1623.6 1160.6,1624.2 1163.0,1620.3 1165.4,1616.4 1167.8,1621.4 1170.2,1620.9 1172.6,1622.4 1175.0,1621.5 1177.4,1618.5 1179.8,1616.2 1182.2,1619.0 1184.6,1621.8 1187.0,1621.1 1189.4,1615.4 1191.8,1614.1 1194.2,1618.3 1196.6,1613.6 1199.0,1610.1 1201.4,1616.2 1203.8,1608.8 1206.2,1615.0 1208.6,1614.0 1211.0,1607.5 1213.4,1608.6 1215.8,1607.4 1218.2,1611.1 1220.6,1612.0 1223.0,1609.6 1225.4,1609.2 1227.8,1606.6 1230.2,1605.4 1232.6,1604.0 1235.0,1605.0 1237.4,1599.2 1239.8,1602.2 1242.2,1606.8 1244.6,1600.2 1247.0,1603.8 1249.4,1602.6 1251.8,1600.9 1254.2,1599.4 1256.6,1597.0 1259.0,1589.6 1261.4,1596.5 1263.8,1592.4 1266.2,1595.4 1268.6,1591.9 1271.0,1589.5 1273.4,1590.6 1275.8,1592.2 1278.2,1583.0 1280.6,1586.0 1283.0,1584.0 1285.4,1590.0 1287.8,1588.0 1290.2,1587.3 1292.6,1587.6 1295.0,1588.5 1297.4,1587.6 1299.8,1581.2 1302.2,1583.4 1304.6,1586.0 1307.0,1582.3 1309.4,1580.9 1311.8,1579.5 1314.2,1579.3 1316.6,1581.8 1319.0,1577.2 1321.4,1575.8 1323.8,1576.1 1326.2,1573.5 1328.6,1577.8 1331.0,1576.2 1333.4,1576.0 1335.8,1572.4 1338.2,1575.8 1340.6,1574.9 1343.0,1575.7 1345.4,1570.7 1347.8,1569.3 1350.2,1580.9 1352.6,1568.8 1355.0,1568.0 1357.4,1566.5 1359.8,1568.0 1362.2,1564.7 1364.6,1562.3 1367.0,1564.3 1369.4,1565.3 1371.8,1565.1 1374.2,1564.6 1376.6,1558.8 1379.0,1555.5 1381.4,1556.3 1383.8,1549.4 1386.2,1554.8 1388.6,1555.3 1391.0,1552.4 1393.4,1551.6 1395.8,1559.5 1398.2,1553.7 1400.6,1556.6 1403.0,1552.0 1405.4,1549.5 1407.8,1549.5 1410.2,1547.0 1412.6,1549.6 1415.0,1551.4 1417.4,1548.3 1419.8,1551.0 1422.2,1551.2 1424.6,1544.1 1427.0,1551.0 1429.4,1549.7 1431.8,1544.8 1434.2,1545.6 1436.6,1542.6 1439.0,1546.1 1441.4,1546.0 1443.8,1542.4 1446.2,1542.4 1448.6,1541.3 1451.0,1538.2 1453.4,1541.7 1455.8,1538.1 1458.2,1539.0 1460.6,1535.4 1463.0,1540.2" fill="none" stroke="#ff0000" stroke-width="4.6" stroke-linejoin="round" stroke-linecap="round"/>
<polyline points="183.0,1861.8 185.6,1862.4 188.2,1865.0 190.8,1861.8 193.4,1864.7 196.0,1863.8 198.6,1865.8 201.2,1862.8 203.8,1864.9 206.4,1867.1 209.0,1867.8 211.6,1867.1 214.2,1868.7 216.8,1869.0 219.4,1870.2 222.0,1871.4 224.6,1873.4 227.2,1870.2 229.8,1869.8 232.4,1867.3 235.0,1867.4 237.6,1868.7 240.2,1867.9 242.8,1867.9 245.4,1866.1 248.0,1869.1 250.6,1867.7 253.2,1868.8 255.8,1868.0 258.4,1869.0 261.0,1872.4 263.6,1871.0 266.2,1870.1 268.8,1869.6 271.4,1873.0 274.0,1871.3 276.6,1871.6 279.2,1870.9 281.8,1870.4 284.4,1869.9 287.0,1870.1 289.6,1866.2 292.2,1861.3 294.8,1863.2 297.4,1862.7 300.0,1864.6 302.6,1861.2 305.2,1865.3 307.8,1868.0 310.4,1869.7 313.0,1868.8 315.6,1869.0 318.2,1868.2 320.8,1869.9 323.4,1870.0 326.0,1867.4 328.6,1871.9 331.2,1869.9 333.8,1870.0 336.4,1872.9 339.0,1868.4 341.6,1869.7 344.2,1870.9 346.8,1869.1 349.4,1868.9 352.0,1870.1 354.6,1868.6 357.2,1870.4 359.8,1869.2 362.4,1868.7 365.0,1869.5 367.6,1868.9 370.2,1869.6 372.8,1866.9 375.4,1871.7 378.0,1868.4 380.6,1869.8 383.2,1868.3 385.8,1872.5 388.4,1870.5 391.0,1868.5 393.6,1870.0 396.2,1868.6 398.8,1868.9 401.4,1871.8 404.0,1869.6 406.6,1870.7 409.2,1869.7 411.8,1869.6 414.4,1869.1 417.0,1867.2 419.6,1868.2 422.2,1868.2 424.8,1868.0 427.4,1867.3 430.0,1869.1 432.6,1868.9 435.2,1867.0 437.8,1866.6 440.4,1868.7 443.0,1867.2 445.6,1870.1 448.2,1867.4 450.8,1868.8 453.4,1864.5 456.0,1869.4 458.6,1869.2 461.2,1868.5 463.8,1869.5 466.4,1866.8 469.0,1867.5 471.6,1869.3 474.2,1867.0 476.8,1868.2 479.4,1868.0 482.0,1867.8 484.6,1866.9 487.2,1869.2 489.8,1867.2 492.4,1865.3 495.0,1865.6 497.6,1867.9 500.2,1866.5 502.8,1865.5 505.4,1865.7 508.0,1867.0 510.6,1866.7 513.2,1867.1 515.8,1866.7 518.4,1866.2 521.0,1865.5 523.6,1864.6 526.2,1863.5 528.8,1862.1 531.4,1864.7 534.0,1863.0 536.6,1865.2 539.2,1862.9 541.8,1863.7 544.4,1862.7 547.0,1864.7 549.6,1862.1 552.2,1864.7 554.8,1861.8 557.4,1860.1 560.0,1864.5 562.6,1862.3 565.2,1861.9 567.8,1861.3 570.4,1862.1 573.0,1862.6 575.6,1859.3 578.2,1857.1 580.8,1860.4 583.4,1860.4 586.0,1861.3 588.6,1861.1 591.2,1859.5 593.8,1859.1 596.4,1859.4 599.0,1857.3 601.6,1858.7 604.2,1857.6 606.8,1857.4 609.4,1857.5 612.0,1857.3 614.6,1856.4 617.2,1856.8 619.8,1858.7 622.4,1859.3 625.0,1859.4 627.6,1855.9 630.2,1859.0 632.8,1856.5 635.4,1856.2 638.0,1857.4 640.6,1857.1 643.2,1854.9 645.8,1855.1 648.4,1856.5 651.0,1854.9 653.6,1856.8 656.2,1856.7 658.8,1855.2 661.4,1855.3 664.0,1855.1 666.6,1854.4 669.2,1854.6 671.8,1854.4 674.4,1856.7 677.0,1852.8 679.6,1856.4 682.2,1851.3 684.8,1852.4 687.4,1852.0 690.0,1850.8 692.6,1852.8 695.2,1850.6 697.8,1855.2 700.4,1851.8 703.0,1851.4 705.6,1852.1 708.2,1854.4 710.8,1849.7 713.4,1850.3 716.0,1851.2 718.6,1850.3 721.2,1850.2 723.8,1847.6 726.4,1849.2 729.0,1850.6 731.6,1849.4 734.2,1850.0 736.8,1850.6 739.4,1848.2 742.0,1850.3 744.6,1847.7 747.2,1849.0 749.8,1849.5 752.4,1846.7 755.0,1849.1 757.6,1848.1 760.2,1845.9 762.8,1846.2 765.4,1845.8 768.0,1851.4 770.6,1847.6 773.2,1846.8 775.8,1846.1 778.4,1846.3 781.0,1846.4 783.6,1846.3 786.2,1847.7 788.8,1845.5 791.4,1844.2 794.0,1842.8 796.6,1847.3 799.2,1843.5 801.8,1843.4 804.4,1843.2 807.0,1844.5 809.6,1842.7 812.2,1841.8 814.8,1842.8 817.4,1842.1 820.0,1838.8 822.6,1840.5 825.2,1840.5 827.8,1841.7 830.4,1840.1 833.0,1839.6 835.6,1838.0 838.2,1837.6 840.8,1836.5 843.4,1836.3 846.0,1838.7 848.6,1836.4 851.2,1838.4 853.8,1834.7 856.4,1837.4 859.0,1835.5 861.6,1837.5 864.2,1831.3 866.8,1835.1 869.4,1834.1 872.0,1832.7 874.6,1832.8 877.2,1833.6 879.8,1830.9 882.4,1833.0 885.0,1833.0 887.6,1834.3 890.2,1833.9 892.8,1833.8 895.4,1833.0 898.0,1832.1 900.6,1831.8 903.2,1832.4 905.8,1832.7 908.4,1830.3 911.0,1833.4 913.6,1831.0 916.2,1833.3 918.8,1831.2 921.4,1833.0 924.0,1828.5 926.6,1831.9 929.2,1832.8 931.8,1831.3 934.4,1830.3 937.0,1830.7 939.6,1829.4 942.2,1827.9 944.8,1832.0 947.4,1828.3 950.0,1830.4 952.6,1828.4 955.2,1828.1 957.8,1828.5 960.4,1831.1 963.0,1830.8 965.6,1830.4 968.2,1826.6 970.8,1827.9 973.4,1829.4 976.0,1829.4 978.6,1826.6 981.2,1826.5 983.8,1824.8 986.4,1826.5 989.0,1826.3 991.6,1829.3 994.2,1829.0 996.8,1826.4 999.4,1824.7 1002.0,1827.2 1004.6,1827.0 1007.2,1823.5 1009.8,1823.3 1012.4,1823.8 1015.0,1826.0 1017.6,1823.8 1020.2,1824.0 1022.8,1822.7 1025.4,1823.5 1028.0,1822.4 1030.6,1823.5 1033.2,1824.9 1035.8,1822.8 1038.4,1823.8 1041.0,1821.6 1043.6,1822.4 1046.2,1821.6 1048.8,1822.6 1051.4,1823.3 1054.0,1821.5 1056.6,1821.9 1059.2,1822.6 1061.8,1820.4 1064.4,1822.7 1067.0,1820.3 1069.6,1821.9 1072.2,1817.4 1074.8,1817.6 1077.4,1820.4 1080.0,1820.1 1082.6,1819.1 1085.2,1818.6 1087.8,1817.8 1090.4,1817.8 1093.0,1822.2 1095.6,1819.8 1098.2,1819.1 1100.8,1818.8 1103.4,1818.4 1106.0,1818.4 1108.6,1817.4 1111.2,1816.3 1113.8,1816.1 1116.4,1818.2 1119.0,1814.4 1121.6,1817.1 1124.2,1816.5 1126.8,1813.0 1129.4,1814.5 1132.0,1815.0 1134.6,1813.1 1137.2,1814.9 1139.8,1812.5 1142.4,1811.8 1145.0,1812.4 1147.6,1813.1 1150.2,1808.6 1152.8,1811.5 1155.4,1811.3 1158.0,1809.9 1160.6,1808.0 1163.2,1808.8 1165.8,1810.5 1168.4,1810.9 1171.0,1808.5 1173.6,1809.7 1176.2,1808.5 1178.8,1809.4 1181.4,1807.8 1184.0,1808.1 1186.6,1808.2 1189.2,1806.4 1191.8,1807.6 1194.4,1807.7 1197.0,1807.9 1199.6,1809.6 1202.2,1807.9 1204.8,1808.1 1207.4,1807.3 1210.0,1806.6 1212.6,1807.5 1215.2,1807.7 1217.8,1803.7 1220.4,1806.7 1223.0,1806.2 1225.6,1805.7 1228.2,1809.0 1230.8,1803.6 1233.4,1805.5 1236.0,1810.1 1238.6,1805.7 1241.2,1806.8 1243.8,1807.2 1246.4,1804.2 1249.0,1805.5 1251.6,1802.9 1254.2,1806.1 1256.8,1802.3 1259.4,1802.9 1262.0,1801.5 1264.6,1804.5 1267.2,1804.0 1269.8,1803.6 1272.4,1801.3 1275.0,1802.1 1277.6,1802.4 1280.2,1803.1 1282.8,1803.6 1285.4,1801.1 1288.0,1798.5 1290.6,1800.4 1293.2,1799.3 1295.8,1797.4 1298.4,1800.1 1301.0,1796.2 1303.6,1798.1 1306.2,1798.3 1308.8,1798.4 1311.4,1797.3 1314.0,1798.4 1316.6,1798.7 1319.2,1800.3 1321.8,1798.3 1324.4,1799.9 1327.0,1799.8 1329.6,1798.8 1332.2,1797.4 1334.8,1799.1 1337.4,1796.6 1340.0,1797.7 1342.6,1800.5 1345.2,1795.9 1347.8,1796.4 1350.4,1797.1 1353.0,1795.7 1355.6,1795.7 1358.2,1797.0 1360.8,1797.0 1363.4,1794.8 1366.0,1796.3 1368.6,1796.3 1371.2,1794.8 1373.8,1795.4 1376.4,1796.2 1379.0,1793.4 1381.6,1792.4 1384.2,1792.3 1386.8,1793.6 1389.4,1792.9 1392.0,1792.8 1394.6,1790.8 1397.2,1791.6 1399.8,1793.4 1402.4,1790.8 1405.0,1789.4 1407.6,1792.4 1410.2,1789.8 1412.8,1791.3 1415.4,1788.1 1418.0,1788.6 1420.6,1791.6 1423.2,1791.4 1425.8,1791.3 1428.4,1790.7 1431.0,1790.2 1433.6,1789.7 1436.2,1790.5 1438.8,1790.1 1441.4,1790.5 1444.0,1790.7 1446.6,1790.9 1449.2,1789.1 1451.8,1790.2 1454.4,1788.5 1457.0,1790.7 1459.6,1791.0 1462.2,1789.0" fill="none" stroke="#00ff00" stroke-width="4.6" stroke-linejoin="round" stroke-linecap="round"/>
<polyline points="183.8,1861.9 186.4,1859.5 189.0,1863.6 191.6,1864.7 194.2,1863.2 196.8,1861.2 199.4,1863.8 202.0,1864.9 204.6,1867.3 207.2,1864.8 209.8,1868.2 212.4,1869.0 215.0,1868.9 217.6,1872.9 220.2,1868.9 222.8,1872.6 225.4,1871.5 228.0,1870.2 230.6,1867.5 233.2,1869.2 235.8,1867.3 238.4,1866.3 241.0,1866.8 243.6,1868.8 246.2,1867.6 248.8,1866.2 251.4,1869.5 254.0,1868.4 256.6,1869.7 259.2,1870.5 261.8,1868.7 264.4,1868.7 267.0,1868.5 269.6,1873.1 272.2,1870.4 274.8,1870.9 277.4,1870.4 280.0,1870.7 282.6,1871.7 285.2,1871.6 287.8,1866.9 290.4,1863.6 293.0,1861.3 295.6,1864.4 298.2,1861.9 300.8,1868.2 303.4,1867.9 306.0,1868.0 308.6,1867.4 311.2,1869.8 313.8,1869.0 316.4,1869.4 319.0,1869.2 321.6,1869.3 324.2,1870.0 326.8,1869.7 329.4,1870.3 332.0,1869.8 334.6,1873.4 337.2,1869.7 339.8,1871.9 342.4,1871.3 345.0,1872.8 347.6,1869.8 350.2,1870.9 352.8,1870.5 355.4,1866.2 358.0,1870.7 360.6,1870.3 363.2,1868.2 365.8,1868.2 368.4,1865.9 371.0,1869.3 373.6,1868.6 376.2,1867.8 378.8,1871.1 381.4,1869.6 384.0,1869.5 386.6,1870.2 389.2,1869.5 391.8,1869.9 394.4,1867.2 397.0,1868.2 399.6,1866.7 402.2,1867.3 404.8,1868.2 407.4,1865.8 410.0,1866.6 412.6,1871.2 415.2,1870.7 417.8,1867.8 420.4,1869.4 423.0,1868.2 425.6,1869.9 428.2,1870.3 430.8,1867.9 433.4,1867.6 436.0,1867.9 438.6,1867.3 441.2,1868.5 443.8,1867.8 446.4,1867.3 449.0,1869.8 451.6,1866.9 454.2,1868.5 456.8,1869.1 459.4,1868.4 462.0,1869.8 464.6,1868.0 467.2,1868.0 469.8,1868.8 472.4,1868.3 475.0,1869.3 477.6,1865.0 480.2,1868.3 482.8,1869.7 485.4,1867.3 488.0,1866.6 490.6,1869.0 493.2,1868.0 495.8,1865.8 498.4,1869.1 501.0,1867.4 503.6,1866.8 506.2,1868.4 508.8,1864.6 511.4,1867.5 514.0,1865.2 516.6,1867.1 519.2,1865.8 521.8,1865.9 524.4,1863.6 527.0,1862.1 529.6,1864.3 532.2,1863.7 534.8,1864.4 537.4,1860.5 540.0,1863.0 542.6,1860.5 545.2,1863.1 547.8,1860.3 550.4,1861.7 553.0,1862.7 555.6,1860.8 558.2,1859.8 560.8,1861.8 563.4,1860.5 566.0,1860.3 568.6,1859.6 571.2,1860.6 573.8,1859.7 576.4,1858.8 579.0,1857.8 581.6,1857.2 584.2,1860.6 586.8,1861.1 589.4,1858.5 592.0,1858.5 594.6,1857.3 597.2,1860.5 599.8,1858.3 602.4,1862.2 605.0,1857.6 607.6,1859.3 610.2,1858.0 612.8,1860.1 615.4,1859.7 618.0,1858.6 620.6,1859.1 623.2,1859.7 625.8,1859.7 628.4,1857.8 631.0,1858.0 633.6,1855.0 636.2,1857.8 638.8,1854.0 641.4,1854.0 644.0,1854.4 646.6,1855.1 649.2,1854.1 651.8,1856.7 654.4,1853.3 657.0,1855.6 659.6,1853.4 662.2,1854.0 664.8,1855.2 667.4,1855.2 670.0,1852.7 672.6,1854.0 675.2,1853.3 677.8,1854.3 680.4,1854.5 683.0,1854.3 685.6,1852.2 688.2,1854.2 690.8,1851.9 693.4,1853.6 696.0,1851.6 698.6,1854.4 701.2,1851.5 703.8,1850.5 706.4,1850.1 709.0,1851.7 711.6,1849.6 714.2,1850.9 716.8,1850.4 719.4,1851.6 722.0,1850.0 724.6,1849.4 727.2,1849.9 729.8,1849.8 732.4,1847.5 735.0,1848.1 737.6,1849.3 740.2,1849.5 742.8,1850.3 745.4,1850.9 748.0,1849.5 750.6,1848.9 753.2,1848.0 755.8,1846.7 758.4,1847.6 761.0,1848.2 763.6,1847.5 766.2,1846.4 768.8,1847.1 771.4,1845.8 774.0,1846.0 776.6,1843.4 779.2,1845.7 781.8,1847.8 784.4,1848.2 787.0,1846.0 789.6,1846.1 792.2,1844.9 794.8,1841.4 797.4,1843.1 800.0,1844.1 802.6,1842.2 805.2,1843.5 807.8,1841.1 810.4,1842.1 813.0,1843.3 815.6,1839.3 818.2,1843.8 820.8,1840.6 823.4,1843.7 826.0,1840.5 828.6,1837.6 831.2,1839.0 833.8,1836.7 836.4,1837.7 839.0,1838.8 841.6,1837.4 844.2,1835.7 846.8,1836.8 849.4,1839.4 852.0,1835.5 854.6,1840.2 857.2,1836.6 859.8,1833.4 862.4,1835.6 865.0,1832.9 867.6,1835.7 870.2,1834.0 872.8,1835.2 875.4,1833.9 878.0,1830.3 880.6,1832.5 883.2,1835.6 885.8,1834.9 888.4,1833.0 891.0,1832.3 893.6,1832.7 896.2,1831.8 898.8,1833.6 901.4,1834.0 904.0,1834.4 906.6,1831.2 909.2,1831.4 911.8,1830.5 914.4,1830.0 917.0,1830.1 919.6,1830.2 922.2,1831.9 924.8,1831.2 927.4,1831.5 930.0,1831.7 932.6,1832.2 935.2,1830.5 937.8,1830.4 940.4,1829.3 943.0,1831.1 945.6,1829.6 948.2,1829.9 950.8,1830.7 953.4,1829.5 956.0,1828.9 958.6,1829.6 961.2,1829.7 963.8,1826.5 966.4,1827.0 969.0,1827.6 971.6,1827.3 974.2,1828.2 976.8,1825.4 979.4,1824.7 982.0,1827.7 984.6,1827.6 987.2,1827.0 989.8,1827.4 992.4,1826.9 995.0,1827.2 997.6,1826.2 1000.2,1823.7 1002.8,1825.3 1005.4,1824.7 1008.0,1825.4 1010.6,1826.3 1013.2,1823.3 1015.8,1826.4 1018.4,1822.8 1021.0,1823.8 1023.6,1827.7 1026.2,1827.9 1028.8,1822.3 1031.4,1826.1 1034.0,1824.3 1036.6,1822.6 1039.2,1825.0 1041.8,1824.3 1044.4,1824.3 1047.0,1823.2 1049.6,1825.1 1052.2,1824.4 1054.8,1823.0 1057.4,1822.1 1060.0,1819.5 1062.6,1820.4 1065.2,1820.0 1067.8,1818.6 1070.4,1820.4 1073.0,1818.2 1075.6,1819.6 1078.2,1819.7 1080.8,1818.7 1083.4,1819.1 1086.0,1820.0 1088.6,1817.8 1091.2,1820.6 1093.8,1818.8 1096.4,1819.4 1099.0,1818.1 1101.6,1819.3 1104.2,1818.7 1106.8,1817.1 1109.4,1816.3 1112.0,1815.9 1114.6,1815.9 1117.2,1816.4 1119.8,1819.4 1122.4,1816.4 1125.0,1814.7 1127.6,1814.6 1130.2,1814.8 1132.8,1816.9 1135.4,1815.0 1138.0,1818.6 1140.6,1812.1 1143.2,1814.3 1145.8,1813.5 1148.4,1808.0 1151.0,1811.1 1153.6,1811.2 1156.2,1811.6 1158.8,1811.4 1161.4,1810.7 1164.0,1805.5 1166.6,1809.8 1169.2,1809.4 1171.8,1809.3 1174.4,1809.7 1177.0,1808.9 1179.6,1805.9 1182.2,1805.8 1184.8,1804.7 1187.4,1805.5 1190.0,1806.2 1192.6,1808.3 1195.2,1807.8 1197.8,1807.9 1200.4,1806.2 1203.0,1806.7 1205.6,1807.8 1208.2,1805.8 1210.8,1806.9 1213.4,1810.0 1216.0,1803.8 1218.6,1805.8 1221.2,1805.7 1223.8,1805.9 1226.4,1805.9 1229.0,1804.8 1231.6,1804.4 1234.2,1802.9 1236.8,1802.8 1239.4,1807.7 1242.0,1807.3 1244.6,1806.7 1247.2,1802.8 1249.8,1803.0 1252.4,1804.0 1255.0,1805.5 1257.6,1803.2 1260.2,1806.1 1262.8,1803.3 1265.4,1802.4 1268.0,1806.0 1270.6,1801.7 1273.2,1802.6 1275.8,1801.9 1278.4,1800.5 1281.0,1800.4 1283.6,1800.0 1286.2,1801.6 1288.8,1802.6 1291.4,1801.2 1294.0,1801.2 1296.6,1798.6 1299.2,1799.9 1301.8,1797.8 1304.4,1799.4 1307.0,1800.0 1309.6,1798.2 1312.2,1798.4 1314.8,1798.6 1317.4,1798.3 1320.0,1796.4 1322.6,1798.1 1325.2,1800.0 1327.8,1792.5 1330.4,1798.7 1333.0,1797.3 1335.6,1797.8 1338.2,1798.4 1340.8,1798.4 1343.4,1795.0 1346.0,1796.4 1348.6,1797.7 1351.2,1799.2 1353.8,1797.2 1356.4,1797.5 1359.0,1796.6 1361.6,1799.5 1364.2,1797.9 1366.8,1796.9 1369.4,1798.3 1372.0,1795.1 1374.6,1794.7 1377.2,1796.2 1379.8,1794.1 1382.4,1794.4 1385.0,1795.5 1387.6,1792.1 1390.2,1796.0 1392.8,1792.0 1395.4,1791.8 1398.0,1794.3 1400.6,1790.7 1403.2,1790.0 1405.8,1793.1 1408.4,1790.3 1411.0,1790.4 1413.6,1788.6 1416.2,1786.6 1418.8,1788.3 1421.4,1788.2 1424.0,1790.4 1426.6,1787.5 1429.2,1787.9 1431.8,1787.9 1434.4,1789.0 1437.0,1791.4 1439.6,1791.1 1442.2,1790.6 1444.8,1788.8 1447.4,1790.7 1450.0,1792.4 1452.6,1791.2 1455.2,1792.2 1457.8,1789.0 1460.4,1789.1 1463.0,1789.7" fill="none" stroke="#00ff00" stroke-width="4.6" stroke-linejoin="round" stroke-linecap="round"/>
<polyline points="183.0,1853.7 185.4,1848.7 187.8,1851.4 190.2,1852.4 192.6,1851.9 195.0,1850.5 197.4,1857.4 199.8,1851.0 202.2,1856.3 204.6,1856.2 207.0,1857.2 209.4,1859.3 211.8,1855.9 214.2,1857.6 216.6,1865.2 219.0,1865.1 221.4,1867.2 223.8,1865.9 226.2,1867.7 228.6,1865.6 231.0,1864.1 233.4,1863.7 235.8,1859.0 238.2,1865.0 240.6,1859.1 243.0,1858.5 245.4,1864.8 247.8,1855.7 250.2,1855.0 252.6,1857.3 255.0,1865.3 257.4,1861.9 259.8,1862.9 262.2,1855.2 264.6,1859.0 267.0,1855.8 269.4,1859.7 271.8,1859.2 274.2,1861.6 276.6,1865.4 279.0,1865.3 281.4,1867.6 283.8,1868.9 286.2,1871.3 288.6,1865.3 291.0,1861.3 293.4,1862.2 295.8,1857.8 298.2,1859.9 300.6,1862.1 303.0,1859.8 305.4,1856.6 307.8,1860.0 310.2,1859.5 312.6,1853.7 315.0,1858.2 317.4,1859.8 319.8,1859.8 322.2,1859.7 324.6,1860.2 327.0,1858.6 329.4,1861.1 331.8,1867.0 334.2,1867.8 336.6,1864.7 339.0,1865.7 341.4,1870.8 343.8,1856.5 346.2,1863.9 348.6,1857.6 351.0,1864.6 353.4,1862.3 355.8,1867.8 358.2,1863.3 360.6,1862.0 363.0,1854.1 365.4,1858.9 367.8,1859.1 370.2,1859.3 372.6,1857.6 375.0,1861.5 377.4,1864.6 379.8,1862.4 382.2,1867.4 384.6,1857.4 387.0,1855.2 389.4,1856.4 391.8,1859.1 394.2,1858.8 396.6,1857.7 399.0,1857.6 401.4,1855.4 403.8,1857.0 406.2,1853.8 408.6,1855.0 411.0,1854.2 413.4,1856.2 415.8,1851.9 418.2,1861.5 420.6,1853.1 423.0,1853.3 425.4,1854.6 427.8,1850.7 430.2,1847.9 432.6,1852.8 435.0,1861.0 437.4,1856.0 439.8,1854.9 442.2,1861.3 444.6,1860.6 447.0,1866.4 449.4,1863.4 451.8,1860.4 454.2,1866.0 456.6,1861.0 459.0,1862.7 461.4,1865.4 463.8,1863.4 466.2,1861.3 468.6,1865.1 471.0,1864.6 473.4,1868.0 475.8,1864.9 478.2,1864.9 480.6,1871.8 483.0,1866.0 485.4,1865.9 487.8,1868.3 490.2,1867.7 492.6,1871.3 495.0,1866.3 497.4,1864.8 499.8,1870.3 502.2,1865.9 504.6,1862.6 507.0,1868.5 509.4,1864.7 511.8,1865.1 514.2,1862.3 516.6,1863.6 519.0,1863.9 521.4,1860.8 523.8,1865.5 526.2,1861.8 528.6,1867.6 531.0,1864.0 533.4,1861.9 535.8,1860.3 538.2,1863.2 540.6,1860.9 543.0,1865.3 545.4,1861.7 547.8,1861.5 550.2,1865.3 552.6,1858.7 555.0,1864.2 557.4,1860.5 559.8,1862.5 562.2,1871.4 564.6,1860.3 567.0,1858.6 569.4,1858.9 571.8,1856.9 574.2,1860.3 576.6,1861.5 579.0,1866.9 581.4,1855.6 583.8,1862.0 586.2,1859.1 588.6,1854.9 591.0,1859.9 593.4,1860.7 595.8,1861.2 598.2,1862.9 600.6,1861.4 603.0,1854.0 605.4,1860.6 607.8,1864.5 610.2,1860.9 612.6,1862.4 615.0,1862.0 617.4,1862.3 619.8,1859.1 622.2,1856.8 624.6,1858.4 627.0,1856.4 629.4,1861.0 631.8,1862.5 634.2,1858.6 636.6,1861.6 639.0,1860.3 641.4,1857.0 643.8,1861.5 646.2,1859.9 648.6,1858.2 651.0,1859.9 653.4,1855.1 655.8,1852.7 658.2,1863.0 660.6,1855.9 663.0,1859.0 665.4,1860.1 667.8,1859.1 670.2,1857.4 672.6,1860.4 675.0,1857.8 677.4,1857.0 679.8,1857.1 682.2,1857.6 684.6,1860.2 687.0,1854.0 689.4,1857.5 691.8,1856.6 694.2,1854.1 696.6,1859.9 699.0,1853.6 701.4,1854.6 703.8,1851.1 706.2,1849.2 708.6,1855.3 711.0,1856.0 713.4,1854.8 715.8,1850.5 718.2,1845.2 720.6,1854.6 723.0,1853.0 725.4,1857.2 727.8,1856.0 730.2,1859.0 732.6,1855.6 735.0,1855.9 737.4,1855.9 739.8,1859.2 742.2,1852.3 744.6,1850.7 747.0,1856.8 749.4,1852.4 751.8,1859.8 754.2,1855.6 756.6,1857.5 759.0,1856.3 761.4,1853.0 763.8,1855.4 766.2,1854.9 768.6,1851.3 771.0,1852.0 773.4,1856.9 775.8,1850.9 778.2,1852.8 780.6,1858.1 783.0,1847.3 785.4,1850.9 787.8,1854.3 790.2,1854.2 792.6,1853.6 795.0,1854.9 797.4,1852.9 799.8,1858.1 802.2,1850.6 804.6,1855.0 807.0,1851.6 809.4,1854.4 811.8,1851.6 814.2,1850.8 816.6,1852.5 819.0,1849.7 821.4,1850.5 823.8,1846.2 826.2,1848.4 828.6,1842.7 831.0,1848.2 833.4,1850.6 835.8,1848.9 838.2,1848.0 840.6,1846.6 843.0,1849.1 845.4,1852.8 847.8,1848.5 850.2,1844.5 852.6,1846.4 855.0,1842.5 857.4,1850.5 859.8,1842.8 862.2,1846.0 864.6,1844.4 867.0,1844.5 869.4,1850.8 871.8,1843.9 874.2,1845.6 876.6,1843.1 879.0,1842.7 881.4,1846.0 883.8,1843.1 886.2,1841.3 888.6,1845.2 891.0,1840.4 893.4,1845.1 895.8,1843.2 898.2,1843.6 900.6,1840.8 903.0,1837.4 905.4,1838.2 907.8,1842.1 910.2,1849.2 912.6,1848.3 915.0,1850.4 917.4,1842.6 919.8,1839.4 922.2,1839.6 924.6,1839.9 927.0,1845.2 929.4,1843.4 931.8,1842.6 934.2,1840.9 936.6,1841.4 939.0,1837.2 941.4,1838.2 943.8,1844.6 946.2,1840.7 948.6,1842.7 951.0,1842.2 953.4,1845.9 955.8,1839.6 958.2,1839.7 960.6,1841.5 963.0,1838.4 965.4,1834.8 967.8,1838.6 970.2,1836.8 972.6,1837.5 975.0,1840.0 977.4,1841.7 979.8,1834.7 982.2,1835.2 984.6,1834.7 987.0,1836.7 989.4,1837.7 991.8,1837.3 994.2,1836.6 996.6,1835.2 999.0,1837.5 1001.4,1835.4 1003.8,1833.2 1006.2,1839.4 1008.6,1836.3 1011.0,1835.7 1013.4,1840.8 1015.8,1835.7 1018.2,1835.8 1020.6,1833.3 1023.0,1835.4 1025.4,1833.1 1027.8,1833.7 1030.2,1830.1 1032.6,1828.7 1035.0,1832.6 1037.4,1831.8 1039.8,1837.8 1042.2,1830.6 1044.6,1832.4 1047.0,1832.6 1049.4,1832.6 1051.8,1833.3 1054.2,1831.8 1056.6,1828.8 1059.0,1830.3 1061.4,1829.3 1063.8,1833.0 1066.2,1832.3 1068.6,1835.5 1071.0,1832.7 1073.4,1830.2 1075.8,1833.8 1078.2,1829.8 1080.6,1831.2 1083.0,1833.2 1085.4,1835.0 1087.8,1833.1 1090.2,1830.9 1092.6,1831.5 1095.0,1826.5 1097.4,1832.1 1099.8,1827.0 1102.2,1833.7 1104.6,1829.0 1107.0,1833.6 1109.4,1831.5 1111.8,1831.5 1114.2,1829.3 1116.6,1829.2 1119.0,1823.6 1121.4,1825.6 1123.8,1828.2 1126.2,1827.7 1128.6,1828.6 1131.0,1829.1 1133.4,1825.5 1135.8,1823.6 1138.2,1825.7 1140.6,1824.5 1143.0,1821.7 1145.4,1826.3 1147.8,1827.1 1150.2,1822.5 1152.6,1827.4 1155.0,1828.0 1157.4,1821.3 1159.8,1821.9 1162.2,1827.5 1164.6,1826.6 1167.0,1822.8 1169.4,1829.6 1171.8,1820.8 1174.2,1826.0 1176.6,1823.3 1179.0,1821.6 1181.4,1818.9 1183.8,1824.0 1186.2,1819.9 1188.6,1824.4 1191.0,1826.6 1193.4,1828.3 1195.8,1823.6 1198.2,1824.3 1200.6,1817.9 1203.0,1820.1 1205.4,1825.3 1207.8,1819.5 1210.2,1819.1 1212.6,1822.6 1215.0,1818.6 1217.4,1818.3 1219.8,1814.3 1222.2,1821.9 1224.6,1824.9 1227.0,1821.8 1229.4,1819.6 1231.8,1821.3 1234.2,1816.7 1236.6,1819.4 1239.0,1818.4 1241.4,1817.9 1243.8,1817.0 1246.2,1819.6 1248.6,1816.8 1251.0,1816.4 1253.4,1819.7 1255.8,1827.4 1258.2,1818.0 1260.6,1821.1 1263.0,1821.5 1265.4,1815.2 1267.8,1815.4 1270.2,1823.2 1272.6,1817.4 1275.0,1814.7 1277.4,1813.7 1279.8,1817.2 1282.2,1820.3 1284.6,1816.3 1287.0,1811.7 1289.4,1812.7 1291.8,1816.2 1294.2,1811.7 1296.6,1814.8 1299.0,1813.0 1301.4,1815.4 1303.8,1816.0 1306.2,1816.7 1308.6,1813.4 1311.0,1817.0 1313.4,1813.4 1315.8,1810.9 1318.2,1814.5 1320.6,1813.5 1323.0,1820.9 1325.4,1813.3 1327.8,1811.0 1330.2,1808.3 1332.6,1814.2 1335.0,1813.6 1337.4,1813.6 1339.8,1811.2 1342.2,1809.2 1344.6,1812.3 1347.0,1810.1 1349.4,1814.3 1351.8,1815.9 1354.2,1812.7 1356.6,1812.4 1359.0,1809.6 1361.4,1812.2 1363.8,1811.6 1366.2,1811.1 1368.6,1811.1 1371.0,1808.7 1373.4,1812.2 1375.8,1810.9 1378.2,1805.3 1380.6,1810.2 1383.0,1809.2 1385.4,1807.2 1387.8,1807.3 1390.2,1802.9 1392.6,1807.1 1395.0,1807.8 1397.4,1812.2 1399.8,1809.7 1402.2,1806.3 1404.6,1810.3 1407.0,1810.0 1409.4,1809.8 1411.8,1804.1 1414.2,1809.1 1416.6,1800.6 1419.0,1801.5 1421.4,1805.2 1423.8,1805.8 1426.2,1806.6 1428.6,1805.4 1431.0,1807.2 1433.4,1805.7 1435.8,1804.1 1438.2,1805.7 1440.6,1807.8 1443.0,1805.4 1445.4,1802.8 1447.8,1805.2 1450.2,1804.6 1452.6,1806.8 1455.0,1806.6 1457.4,1809.8 1459.8,1805.2 1462.2,1804.6" fill="none" stroke="#800000" stroke-width="4.6" stroke-linejoin="round" stroke-linecap="round"/>
<polyline points="183.8,1852.3 186.2,1851.9 188.6,1848.4 191.0,1848.4 193.4,1850.4 195.8,1852.1 198.2,1852.2 200.6,1854.4 203.0,1851.8 205.4,1860.5 207.8,1852.3 210.2,1856.0 212.6,1856.3 215.0,1857.6 217.4,1862.3 219.8,1862.3 222.2,1862.1 224.6,1861.9 227.0,1867.7 229.4,1865.7 231.8,1865.7 234.2,1865.3 236.6,1863.3 239.0,1862.4 241.4,1862.4 243.8,1855.0 246.2,1856.9 248.6,1853.5 251.0,1856.8 253.4,1859.1 255.8,1858.1 258.2,1859.5 260.6,1854.5 263.0,1854.9 265.4,1857.5 267.8,1863.6 270.2,1864.7 272.6,1868.8 275.0,1864.0 277.4,1866.8 279.8,1869.1 282.2,1873.7 284.6,1865.1 287.0,1869.3 289.4,1868.2 291.8,1861.9 294.2,1861.1 296.6,1860.1 299.0,1851.9 301.4,1864.4 303.8,1856.4 306.2,1859.4 308.6,1858.0 311.0,1859.0 313.4,1857.1 315.8,1858.9 318.2,1855.7 320.6,1859.5 323.0,1862.8 325.4,1862.8 327.8,1865.5 330.2,1865.9 332.6,1864.0 335.0,1867.8 337.4,1864.8 339.8,1863.3 342.2,1861.9 344.6,1866.3 347.0,1862.5 349.4,1860.8 351.8,1858.8 354.2,1860.4 356.6,1864.3 359.0,1859.5 361.4,1857.5 363.8,1857.0 366.2,1858.5 368.6,1862.1 371.0,1860.0 373.4,1860.1 375.8,1857.7 378.2,1864.3 380.6,1855.8 383.0,1859.2 385.4,1855.9 387.8,1858.6 390.2,1859.0 392.6,1856.8 395.0,1858.2 397.4,1853.0 399.8,1856.1 402.2,1860.0 404.6,1855.3 407.0,1849.7 409.4,1853.4 411.8,1851.9 414.2,1854.8 416.6,1851.2 419.0,1853.9 421.4,1849.7 423.8,1854.7 426.2,1854.1 428.6,1855.5 431.0,1855.7 433.4,1854.5 435.8,1859.0 438.2,1859.6 440.6,1863.5 443.0,1863.2 445.4,1862.1 447.8,1861.0 450.2,1860.2 452.6,1863.2 455.0,1858.5 457.4,1858.8 459.8,1864.0 462.2,1864.3 464.6,1862.5 467.0,1860.6 469.4,1857.1 471.8,1859.6 474.2,1863.1 476.6,1860.2 479.0,1866.0 481.4,1863.8 483.8,1861.5 486.2,1866.7 488.6,1869.4 491.0,1865.1 493.4,1862.4 495.8,1860.5 498.2,1859.3 500.6,1863.1 503.0,1867.1 505.4,1862.7 507.8,1866.4 510.2,1860.8 512.6,1865.9 515.0,1864.0 517.4,1860.0 519.8,1864.5 522.2,1861.2 524.6,1860.7 527.0,1865.2 529.4,1860.4 531.8,1860.7 534.2,1861.1 536.6,1866.2 539.0,1864.8 541.4,1862.0 543.8,1859.3 546.2,1863.4 548.6,1861.8 551.0,1863.2 553.4,1865.5 555.8,1864.7 558.2,1862.2 560.6,1857.1 563.0,1862.8 565.4,1858.6 567.8,1859.7 570.2,1865.0 572.6,1862.2 575.0,1861.5 577.4,1863.3 579.8,1868.1 582.2,1860.7 584.6,1865.1 587.0,1861.1 589.4,1859.7 591.8,1864.1 594.2,1859.4 596.6,1866.8 599.0,1864.5 601.4,1861.7 603.8,1859.7 606.2,1860.3 608.6,1860.4 611.0,1859.0 613.4,1862.6 615.8,1859.6 618.2,1854.5 620.6,1862.8 623.0,1857.5 625.4,1861.4 627.8,1863.2 630.2,1862.0 632.6,1860.3 635.0,1861.0 637.4,1859.0 639.8,1863.2 642.2,1858.9 644.6,1856.4 647.0,1859.0 649.4,1864.9 651.8,1858.7 654.2,1859.1 656.6,1858.3 659.0,1856.5 661.4,1853.5 663.8,1858.8 666.2,1855.5 668.6,1856.2 671.0,1858.5 673.4,1855.7 675.8,1859.5 678.2,1855.4 680.6,1853.6 683.0,1857.7 685.4,1857.5 687.8,1857.0 690.2,1861.5 692.6,1853.9 695.0,1853.3 697.4,1857.7 699.8,1857.9 702.2,1853.7 704.6,1854.4 707.0,1855.3 709.4,1856.3 711.8,1853.9 714.2,1851.6 716.6,1857.9 719.0,1857.3 721.4,1856.6 723.8,1853.9 726.2,1850.8 728.6,1853.4 731.0,1853.3 733.4,1858.4 735.8,1852.1 738.2,1854.6 740.6,1850.1 743.0,1851.6 745.4,1850.8 747.8,1850.2 750.2,1845.8 752.6,1853.3 755.0,1852.3 757.4,1850.5 759.8,1847.6 762.2,1851.7 764.6,1852.0 767.0,1850.6 769.4,1846.6 771.8,1842.5 774.2,1855.8 776.6,1846.5 779.0,1853.9 781.4,1848.0 783.8,1851.9 786.2,1852.8 788.6,1849.3 791.0,1845.0 793.4,1850.5 795.8,1852.5 798.2,1852.2 800.6,1851.7 803.0,1848.5 805.4,1843.1 807.8,1847.5 810.2,1848.8 812.6,1847.1 815.0,1851.4 817.4,1853.5 819.8,1851.2 822.2,1851.3 824.6,1853.9 827.0,1847.9 829.4,1850.8 831.8,1847.2 834.2,1847.2 836.6,1853.5 839.0,1845.6 841.4,1847.4 843.8,1845.8 846.2,1849.6 848.6,1848.2 851.0,1842.5 853.4,1850.1 855.8,1846.2 858.2,1849.8 860.6,1850.8 863.0,1842.9 865.4,1846.8 867.8,1843.8 870.2,1845.3 872.6,1851.8 875.0,1842.9 877.4,1851.6 879.8,1845.1 882.2,1846.6 884.6,1847.4 887.0,1846.4 889.4,1841.4 891.8,1845.4 894.2,1844.3 896.6,1843.4 899.0,1837.7 901.4,1840.5 903.8,1846.2 906.2,1840.0 908.6,1842.7 911.0,1841.8 913.4,1838.7 915.8,1844.9 918.2,1842.7 920.6,1838.0 923.0,1845.0 925.4,1839.6 927.8,1841.1 930.2,1843.2 932.6,1843.4 935.0,1835.9 937.4,1842.4 939.8,1837.7 942.2,1842.5 944.6,1836.9 947.0,1838.7 949.4,1838.3 951.8,1839.6 954.2,1837.4 956.6,1832.8 959.0,1833.8 961.4,1839.7 963.8,1839.6 966.2,1844.1 968.6,1837.0 971.0,1829.9 973.4,1838.3 975.8,1834.6 978.2,1834.5 980.6,1837.9 983.0,1838.3 985.4,1837.9 987.8,1834.0 990.2,1834.4 992.6,1834.3 995.0,1832.4 997.4,1838.6 999.8,1832.2 1002.2,1836.8 1004.6,1837.3 1007.0,1837.6 1009.4,1836.1 1011.8,1838.6 1014.2,1829.7 1016.6,1829.8 1019.0,1833.6 1021.4,1830.4 1023.8,1831.8 1026.2,1830.8 1028.6,1829.4 1031.0,1835.3 1033.4,1831.8 1035.8,1831.1 1038.2,1838.8 1040.6,1835.8 1043.0,1832.0 1045.4,1832.9 1047.8,1836.7 1050.2,1837.8 1052.6,1833.4 1055.0,1836.2 1057.4,1834.8 1059.8,1832.2 1062.2,1836.8 1064.6,1834.5 1067.0,1837.5 1069.4,1827.6 1071.8,1827.1 1074.2,1828.8 1076.6,1831.2 1079.0,1833.0 1081.4,1833.5 1083.8,1833.4 1086.2,1829.9 1088.6,1834.0 1091.0,1832.7 1093.4,1832.8 1095.8,1830.3 1098.2,1829.2 1100.6,1830.1 1103.0,1831.5 1105.4,1828.0 1107.8,1826.5 1110.2,1826.0 1112.6,1827.7 1115.0,1824.8 1117.4,1827.7 1119.8,1829.2 1122.2,1825.1 1124.6,1829.6 1127.0,1832.7 1129.4,1829.0 1131.8,1827.1 1134.2,1827.1 1136.6,1823.8 1139.0,1824.9 1141.4,1828.1 1143.8,1827.3 1146.2,1822.0 1148.6,1825.7 1151.0,1824.9 1153.4,1824.2 1155.8,1825.1 1158.2,1824.7 1160.6,1822.1 1163.0,1821.9 1165.4,1823.9 1167.8,1823.1 1170.2,1826.3 1172.6,1820.9 1175.0,1829.1 1177.4,1824.1 1179.8,1819.2 1182.2,1825.1 1184.6,1824.6 1187.0,1821.9 1189.4,1819.7 1191.8,1822.2 1194.2,1823.3 1196.6,1820.3 1199.0,1819.9 1201.4,1822.8 1203.8,1821.3 1206.2,1821.6 1208.6,1820.6 1211.0,1819.8 1213.4,1822.2 1215.8,1823.5 1218.2,1820.8 1220.6,1815.4 1223.0,1820.3 1225.4,1818.6 1227.8,1813.2 1230.2,1818.5 1232.6,1818.9 1235.0,1819.0 1237.4,1814.9 1239.8,1813.6 1242.2,1815.8 1244.6,1817.5 1247.0,1817.5 1249.4,1815.3 1251.8,1814.4 1254.2,1818.5 1256.6,1820.4 1259.0,1820.8 1261.4,1816.1 1263.8,1808.7 1266.2,1818.7 1268.6,1818.5 1271.0,1819.1 1273.4,1812.8 1275.8,1817.1 1278.2,1820.5 1280.6,1821.2 1283.0,1814.9 1285.4,1814.3 1287.8,1816.7 1290.2,1814.6 1292.6,1815.9 1295.0,1815.0 1297.4,1815.8 1299.8,1813.9 1302.2,1817.2 1304.6,1815.7 1307.0,1817.9 1309.4,1814.7 1311.8,1813.3 1314.2,1810.3 1316.6,1815.8 1319.0,1812.9 1321.4,1813.3 1323.8,1809.4 1326.2,1811.6 1328.6,1810.7 1331.0,1815.2 1333.4,1814.3 1335.8,1813.1 1338.2,1812.8 1340.6,1814.9 1343.0,1810.5 1345.4,1814.6 1347.8,1810.7 1350.2,1811.8 1352.6,1811.0 1355.0,1807.8 1357.4,1808.9 1359.8,1809.1 1362.2,1812.6 1364.6,1805.3 1367.0,1811.3 1369.4,1811.0 1371.8,1810.8 1374.2,1808.4 1376.6,1809.5 1379.0,1811.7 1381.4,1809.0 1383.8,1806.7 1386.2,1808.3 1388.6,1809.6 1391.0,1807.9 1393.4,1812.5 1395.8,1811.1 1398.2,1811.5 1400.6,1808.5 1403.0,1809.3 1405.4,1809.4 1407.8,1810.1 1410.2,1805.8 1412.6,1805.3 1415.0,1805.2 1417.4,1804.1 1419.8,1808.3 1422.2,1810.2 1424.6,1806.2 1427.0,1812.7 1429.4,1814.5 1431.8,1815.2 1434.2,1807.3 1436.6,1809.9 1439.0,1807.2 1441.4,1806.6 1443.8,1805.7 1446.2,1808.5 1448.6,1806.1 1451.0,1807.2 1453.4,1804.8 1455.8,1808.3 1458.2,1808.9 1460.6,1813.6 1463.0,1810.6" fill="none" stroke="#800000" stroke-width="4.6" stroke-linejoin="round" stroke-linecap="round"/>
<polyline points="183.0,1830.3 185.4,1828.6 187.8,1826.5 190.2,1829.1 192.6,1835.1 195.0,1831.8 197.4,1820.8 199.8,1826.1 202.2,1834.2 204.6,1841.4 207.0,1835.3 209.4,1833.8 211.8,1832.8 214.2,1838.7 216.6,1837.5 219.0,1835.0 221.4,1841.9 223.8,1849.9 226.2,1851.2 228.6,1843.9 231.0,1842.7 233.4,1841.0 235.8,1827.5 238.2,1844.3 240.6,1856.9 243.0,1850.4 245.4,1845.4 247.8,1846.9 250.2,1845.9 252.6,1845.6 255.0,1855.1 257.4,1868.2 259.8,1866.7 262.2,1858.7 264.6,1845.7 267.0,1845.2 269.4,1851.4 271.8,1848.0 274.2,1850.1 276.6,1852.3 279.0,1854.4 281.4,1851.0 283.8,1852.2 286.2,1849.0 288.6,1851.2 291.0,1855.2 293.4,1851.6 295.8,1852.9 298.2,1857.5 300.6,1859.7 303.0,1855.2 305.4,1868.0 307.8,1866.8 310.2,1859.5 312.6,1853.5 315.0,1852.5 317.4,1851.6 319.8,1863.2 322.2,1848.3 324.6,1859.6 327.0,1860.9 329.4,1855.2 331.8,1860.0 334.2,1857.1 336.6,1855.1 339.0,1856.8 341.4,1855.5 343.8,1858.5 346.2,1861.8 348.6,1853.1 351.0,1859.0 353.4,1864.5 355.8,1861.4 358.2,1859.3 360.6,1863.8 363.0,1864.2 365.4,1860.2 367.8,1865.3 370.2,1860.8 372.6,1863.2 375.0,1863.0 377.4,1857.5 379.8,1858.6 382.2,1865.8 384.6,1861.0 387.0,1863.2 389.4,1862.2 391.8,1863.1 394.2,1866.4 396.6,1865.8 399.0,1862.5 401.4,1862.4 403.8,1862.6 406.2,1867.2 408.6,1869.0 411.0,1860.8 413.4,1864.0 415.8,1863.9 418.2,1869.9 420.6,1868.9 423.0,1864.1 425.4,1866.8 427.8,1870.0 430.2,1864.6 432.6,1866.1 435.0,1865.5 437.4,1867.6 439.8,1861.9 442.2,1864.3 444.6,1865.1 447.0,1872.5 449.4,1872.9 451.8,1865.9 454.2,1864.3 456.6,1860.7 459.0,1861.4 461.4,1864.9 463.8,1865.2 466.2,1868.6 468.6,1865.3 471.0,1871.9 473.4,1865.2 475.8,1862.1 478.2,1862.9 480.6,1861.7 483.0,1861.6 485.4,1859.7 487.8,1871.4 490.2,1862.9 492.6,1862.4 495.0,1861.2 497.4,1863.3 499.8,1859.3 502.2,1858.4 504.6,1857.3 507.0,1855.4 509.4,1855.4 511.8,1859.2 514.2,1854.5 516.6,1858.2 519.0,1861.3 521.4,1861.5 523.8,1858.2 526.2,1854.3 528.6,1857.6 531.0,1856.2 533.4,1855.3 535.8,1856.2 538.2,1855.8 540.6,1854.0 543.0,1851.8 545.4,1856.1 547.8,1857.5 550.2,1856.5 552.6,1855.7 555.0,1850.7 557.4,1861.2 559.8,1853.7 562.2,1848.4 564.6,1849.4 567.0,1852.0 569.4,1852.8 571.8,1850.0 574.2,1850.0 576.6,1851.6 579.0,1840.5 581.4,1851.2 583.8,1851.1 586.2,1845.2 588.6,1850.3 591.0,1847.7 593.4,1854.5 595.8,1851.2 598.2,1853.4 600.6,1848.8 603.0,1845.7 605.4,1849.9 607.8,1849.5 610.2,1851.7 612.6,1850.3 615.0,1848.7 617.4,1847.0 619.8,1848.5 622.2,1847.8 624.6,1848.3 627.0,1847.8 629.4,1846.4 631.8,1842.6 634.2,1845.2 636.6,1846.4 639.0,1848.2 641.4,1851.7 643.8,1848.7 646.2,1845.3 648.6,1842.0 651.0,1840.5 653.4,1843.6 655.8,1845.1 658.2,1843.3 660.6,1842.5 663.0,1846.2 665.4,1851.9 667.8,1852.4 670.2,1847.2 672.6,1852.4 675.0,1843.5 677.4,1842.8 679.8,1847.0 682.2,1847.8 684.6,1847.8 687.0,1844.6 689.4,1848.5 691.8,1842.9 694.2,1846.2 696.6,1849.2 699.0,1846.9 701.4,1842.9 703.8,1841.3 706.2,1834.4 708.6,1840.7 711.0,1837.7 713.4,1844.8 715.8,1842.0 718.2,1843.3 720.6,1842.3 723.0,1840.3 725.4,1846.1 727.8,1843.9 730.2,1846.2 732.6,1841.6 735.0,1840.3 737.4,1843.2 739.8,1842.5 742.2,1839.6 744.6,1845.2 747.0,1838.9 749.4,1840.8 751.8,1844.5 754.2,1839.1 756.6,1847.7 759.0,1839.9 761.4,1838.9 763.8,1840.0 766.2,1833.7 768.6,1839.1 771.0,1843.3 773.4,1840.7 775.8,1838.5 778.2,1839.6 780.6,1838.9 783.0,1843.5 785.4,1841.3 787.8,1838.2 790.2,1841.4 792.6,1835.5 795.0,1835.3 797.4,1836.5 799.8,1836.2 802.2,1833.3 804.6,1832.2 807.0,1835.9 809.4,1837.8 811.8,1831.7 814.2,1830.3 816.6,1831.7 819.0,1832.1 821.4,1834.6 823.8,1826.9 826.2,1828.2 828.6,1829.1 831.0,1832.5 833.4,1833.0 835.8,1833.0 838.2,1829.0 840.6,1824.6 843.0,1826.6 845.4,1830.1 847.8,1827.4 850.2,1831.7 852.6,1828.8 855.0,1822.3 857.4,1822.4 859.8,1831.3 862.2,1826.0 864.6,1822.2 867.0,1824.1 869.4,1821.9 871.8,1823.5 874.2,1824.6 876.6,1821.0 879.0,1824.9 881.4,1826.7 883.8,1823.2 886.2,1826.2 888.6,1819.3 891.0,1826.5 893.4,1820.2 895.8,1822.8 898.2,1823.5 900.6,1817.6 903.0,1823.5 905.4,1818.0 907.8,1820.4 910.2,1817.2 912.6,1818.0 915.0,1809.4 917.4,1817.5 919.8,1813.5 922.2,1810.2 924.6,1815.7 927.0,1817.9 929.4,1813.0 931.8,1815.5 934.2,1812.8 936.6,1819.6 939.0,1811.1 941.4,1817.4 943.8,1814.3 946.2,1812.8 948.6,1818.5 951.0,1814.2 953.4,1812.1 955.8,1810.5 958.2,1809.8 960.6,1808.6 963.0,1815.3 965.4,1812.0 967.8,1811.6 970.2,1810.8 972.6,1806.0 975.0,1810.5 977.4,1808.3 979.8,1810.5 982.2,1811.2 984.6,1805.3 987.0,1808.8 989.4,1807.7 991.8,1804.4 994.2,1808.5 996.6,1803.5 999.0,1809.1 1001.4,1804.7 1003.8,1804.4 1006.2,1806.4 1008.6,1806.1 1011.0,1806.0 1013.4,1812.2 1015.8,1798.4 1018.2,1807.5 1020.6,1797.8 1023.0,1806.7 1025.4,1803.5 1027.8,1802.4 1030.2,1803.1 1032.6,1798.3 1035.0,1805.4 1037.4,1800.6 1039.8,1795.9 1042.2,1799.3 1044.6,1803.5 1047.0,1793.6 1049.4,1791.7 1051.8,1799.6 1054.2,1799.8 1056.6,1795.3 1059.0,1797.1 1061.4,1797.5 1063.8,1791.9 1066.2,1788.6 1068.6,1793.2 1071.0,1780.7 1073.4,1796.1 1075.8,1795.6 1078.2,1798.0 1080.6,1796.7 1083.0,1796.3 1085.4,1791.2 1087.8,1794.7 1090.2,1792.4 1092.6,1790.0 1095.0,1792.9 1097.4,1786.9 1099.8,1792.9 1102.2,1791.9 1104.6,1780.1 1107.0,1785.3 1109.4,1788.8 1111.8,1789.9 1114.2,1789.0 1116.6,1788.2 1119.0,1787.0 1121.4,1785.5 1123.8,1785.0 1126.2,1778.4 1128.6,1772.7 1131.0,1777.2 1133.4,1784.4 1135.8,1775.7 1138.2,1778.0 1140.6,1776.2 1143.0,1779.5 1145.4,1771.9 1147.8,1780.5 1150.2,1776.1 1152.6,1777.6 1155.0,1777.5 1157.4,1775.8 1159.8,1774.4 1162.2,1774.4 1164.6,1775.4 1167.0,1780.2 1169.4,1781.7 1171.8,1778.7 1174.2,1771.7 1176.6,1769.8 1179.0,1769.9 1181.4,1770.7 1183.8,1772.7 1186.2,1767.7 1188.6,1766.8 1191.0,1763.3 1193.4,1770.5 1195.8,1770.5 1198.2,1766.7 1200.6,1763.3 1203.0,1770.7 1205.4,1767.0 1207.8,1765.6 1210.2,1767.8 1212.6,1763.9 1215.0,1764.0 1217.4,1764.4 1219.8,1765.7 1222.2,1764.1 1224.6,1765.7 1227.0,1765.5 1229.4,1766.7 1231.8,1764.5 1234.2,1762.6 1236.6,1765.3 1239.0,1762.2 1241.4,1763.6 1243.8,1762.6 1246.2,1758.3 1248.6,1761.5 1251.0,1763.8 1253.4,1765.2 1255.8,1764.1 1258.2,1753.4 1260.6,1760.5 1263.0,1757.9 1265.4,1756.9 1267.8,1754.0 1270.2,1755.1 1272.6,1758.7 1275.0,1752.6 1277.4,1750.8 1279.8,1753.5 1282.2,1756.4 1284.6,1750.6 1287.0,1749.0 1289.4,1749.7 1291.8,1753.2 1294.2,1749.6 1296.6,1751.0 1299.0,1746.4 1301.4,1748.0 1303.8,1751.1 1306.2,1745.3 1308.6,1747.3 1311.0,1749.6 1313.4,1750.2 1315.8,1744.2 1318.2,1742.1 1320.6,1743.6 1323.0,1744.0 1325.4,1743.1 1327.8,1743.0 1330.2,1746.1 1332.6,1743.6 1335.0,1742.6 1337.4,1743.7 1339.8,1739.9 1342.2,1737.2 1344.6,1743.3 1347.0,1741.3 1349.4,1736.6 1351.8,1738.8 1354.2,1738.2 1356.6,1738.9 1359.0,1735.8 1361.4,1736.4 1363.8,1734.7 1366.2,1735.6 1368.6,1736.9 1371.0,1734.8 1373.4,1733.5 1375.8,1734.1 1378.2,1732.7 1380.6,1732.4 1383.0,1733.6 1385.4,1743.9 1387.8,1731.7 1390.2,1733.3 1392.6,1735.5 1395.0,1736.7 1397.4,1728.0 1399.8,1727.9 1402.2,1724.2 1404.6,1729.8 1407.0,1726.1 1409.4,1730.0 1411.8,1727.8 1414.2,1729.8 1416.6,1732.1 1419.0,1723.9 1421.4,1726.7 1423.8,1728.3 1426.2,1722.3 1428.6,1721.4 1431.0,1722.4 1433.4,1721.5 1435.8,1716.6 1438.2,1720.9 1440.6,1722.5 1443.0,1719.1 1445.4,1724.8 1447.8,1718.6 1450.2,1720.8 1452.6,1722.0 1455.0,1718.3 1457.4,1713.5 1459.8,1712.7 1462.2,1719.3" fill="none" stroke="#0000ff" stroke-width="4.6" stroke-linejoin="round" stroke-linecap="round"/>
<polyline points="183.8,1828.3 186.2,1832.7 188.6,1831.1 191.0,1836.5 193.4,1836.3 195.8,1827.3 198.2,1817.6 200.6,1833.9 203.0,1831.4 205.4,1833.9 207.8,1837.4 210.2,1830.9 212.6,1832.5 215.0,1832.2 217.4,1833.1 219.8,1840.3 222.2,1845.7 224.6,1852.5 227.0,1851.5 229.4,1845.7 231.8,1842.6 234.2,1837.8 236.6,1837.8 239.0,1839.6 241.4,1847.4 243.8,1849.8 246.2,1843.5 248.6,1851.4 251.0,1842.8 253.4,1846.8 255.8,1852.0 258.2,1864.9 260.6,1855.9 263.0,1852.4 265.4,1849.1 267.8,1851.0 270.2,1845.4 272.6,1847.9 275.0,1858.3 277.4,1853.2 279.8,1851.4 282.2,1851.3 284.6,1841.6 287.0,1845.6 289.4,1850.3 291.8,1857.9 294.2,1849.6 296.6,1849.9 299.0,1857.1 301.4,1861.2 303.8,1861.1 306.2,1861.8 308.6,1863.0 311.0,1854.5 313.4,1850.6 315.8,1852.8 318.2,1852.2 320.6,1857.4 323.0,1859.7 325.4,1861.9 327.8,1862.2 330.2,1863.9 332.6,1861.2 335.0,1856.8 337.4,1865.1 339.8,1857.6 342.2,1854.5 344.6,1856.5 347.0,1861.2 349.4,1859.9 351.8,1862.2 354.2,1858.5 356.6,1865.3 359.0,1861.5 361.4,1863.8 363.8,1862.4 366.2,1864.5 368.6,1870.3 371.0,1868.0 373.4,1863.5 375.8,1861.6 378.2,1869.2 380.6,1859.1 383.0,1861.8 385.4,1868.2 387.8,1866.8 390.2,1869.7 392.6,1861.0 395.0,1860.3 397.4,1861.0 399.8,1867.8 402.2,1861.0 404.6,1866.2 407.0,1860.9 409.4,1863.0 411.8,1865.7 414.2,1858.4 416.6,1859.5 419.0,1864.0 421.4,1860.8 423.8,1868.9 426.2,1869.0 428.6,1866.4 431.0,1870.4 433.4,1866.8 435.8,1870.8 438.2,1869.5 440.6,1867.2 443.0,1865.4 445.4,1877.0 447.8,1863.6 450.2,1864.7 452.6,1867.8 455.0,1866.6 457.4,1872.1 459.8,1873.0 462.2,1863.0 464.6,1865.2 467.0,1865.2 469.4,1864.4 471.8,1866.3 474.2,1862.8 476.6,1862.7 479.0,1859.7 481.4,1860.5 483.8,1868.0 486.2,1863.1 488.6,1856.0 491.0,1859.9 493.4,1858.1 495.8,1857.4 498.2,1859.8 500.6,1852.3 503.0,1861.8 505.4,1851.0 507.8,1861.8 510.2,1869.1 512.6,1855.3 515.0,1857.4 517.4,1856.7 519.8,1853.6 522.2,1854.9 524.6,1859.0 527.0,1854.6 529.4,1855.3 531.8,1851.7 534.2,1862.1 536.6,1849.9 539.0,1853.8 541.4,1849.7 543.8,1851.8 546.2,1852.6 548.6,1859.9 551.0,1857.9 553.4,1854.2 555.8,1854.4 558.2,1857.2 560.6,1851.5 563.0,1855.1 565.4,1849.0 567.8,1842.6 570.2,1851.9 572.6,1860.8 575.0,1844.7 577.4,1847.8 579.8,1848.0 582.2,1852.8 584.6,1854.0 587.0,1852.7 589.4,1851.0 591.8,1849.7 594.2,1850.2 596.6,1851.5 599.0,1850.0 601.4,1845.7 603.8,1849.9 606.2,1846.0 608.6,1851.1 611.0,1850.4 613.4,1849.3 615.8,1846.7 618.2,1843.4 620.6,1849.8 623.0,1843.7 625.4,1849.1 627.8,1846.2 630.2,1847.1 632.6,1844.8 635.0,1847.1 637.4,1842.1 639.8,1851.9 642.2,1850.3 644.6,1848.3 647.0,1847.2 649.4,1840.0 651.8,1845.9 654.2,1844.0 656.6,1843.2 659.0,1846.0 661.4,1843.2 663.8,1852.5 666.2,1848.1 668.6,1842.9 671.0,1848.7 673.4,1845.9 675.8,1841.9 678.2,1841.2 680.6,1844.9 683.0,1842.6 685.4,1840.6 687.8,1842.8 690.2,1838.6 692.6,1836.8 695.0,1841.9 697.4,1843.4 699.8,1841.6 702.2,1843.7 704.6,1843.4 707.0,1840.1 709.4,1843.5 711.8,1839.0 714.2,1842.1 716.6,1838.5 719.0,1840.3 721.4,1840.0 723.8,1840.0 726.2,1844.5 728.6,1844.5 731.0,1842.2 733.4,1846.2 735.8,1840.9 738.2,1843.2 740.6,1845.4 743.0,1836.2 745.4,1839.4 747.8,1840.8 750.2,1839.4 752.6,1842.5 755.0,1839.8 757.4,1841.7 759.8,1839.4 762.2,1836.6 764.6,1843.9 767.0,1837.0 769.4,1840.7 771.8,1838.4 774.2,1840.1 776.6,1840.9 779.0,1840.3 781.4,1835.5 783.8,1832.2 786.2,1834.0 788.6,1838.9 791.0,1837.9 793.4,1842.5 795.8,1836.7 798.2,1839.8 800.6,1835.7 803.0,1835.9 805.4,1836.6 807.8,1837.3 810.2,1836.5 812.6,1833.7 815.0,1831.3 817.4,1829.5 819.8,1832.3 822.2,1826.8 824.6,1826.8 827.0,1830.0 829.4,1827.9 831.8,1827.4 834.2,1832.4 836.6,1830.5 839.0,1832.8 841.4,1828.8 843.8,1828.3 846.2,1829.1 848.6,1822.5 851.0,1824.7 853.4,1838.4 855.8,1826.1 858.2,1824.8 860.6,1825.5 863.0,1825.7 865.4,1821.7 867.8,1826.5 870.2,1824.5 872.6,1823.1 875.0,1828.7 877.4,1829.8 879.8,1819.3 882.2,1817.7 884.6,1818.9 887.0,1819.9 889.4,1825.0 891.8,1823.3 894.2,1822.3 896.6,1811.8 899.0,1819.9 901.4,1813.2 903.8,1810.1 906.2,1817.2 908.6,1814.7 911.0,1819.2 913.4,1818.6 915.8,1820.1 918.2,1810.2 920.6,1816.9 923.0,1812.4 925.4,1815.3 927.8,1821.3 930.2,1817.5 932.6,1821.6 935.0,1818.5 937.4,1818.1 939.8,1819.8 942.2,1810.3 944.6,1811.4 947.0,1814.0 949.4,1812.8 951.8,1808.5 954.2,1812.2 956.6,1812.4 959.0,1816.9 961.4,1813.2 963.8,1810.0 966.2,1813.4 968.6,1804.4 971.0,1814.6 973.4,1811.7 975.8,1806.0 978.2,1812.2 980.6,1813.3 983.0,1809.0 985.4,1808.7 987.8,1805.2 990.2,1810.6 992.6,1803.2 995.0,1808.4 997.4,1802.4 999.8,1806.9 1002.2,1805.4 1004.6,1806.0 1007.0,1809.4 1009.4,1803.7 1011.8,1807.7 1014.2,1805.0 1016.6,1802.9 1019.0,1801.9 1021.4,1804.5 1023.8,1807.2 1026.2,1809.0 1028.6,1807.1 1031.0,1799.6 1033.4,1805.7 1035.8,1802.3 1038.2,1798.8 1040.6,1801.6 1043.0,1799.7 1045.4,1800.3 1047.8,1802.4 1050.2,1798.0 1052.6,1796.3 1055.0,1796.6 1057.4,1790.0 1059.8,1797.2 1062.2,1799.8 1064.6,1794.2 1067.0,1789.0 1069.4,1792.4 1071.8,1800.1 1074.2,1791.5 1076.6,1792.4 1079.0,1793.9 1081.4,1794.7 1083.8,1789.2 1086.2,1794.8 1088.6,1793.5 1091.0,1790.0 1093.4,1796.5 1095.8,1790.7 1098.2,1787.3 1100.6,1791.8 1103.0,1786.0 1105.4,1790.0 1107.8,1788.7 1110.2,1787.6 1112.6,1787.7 1115.0,1783.9 1117.4,1788.1 1119.8,1786.0 1122.2,1785.5 1124.6,1783.6 1127.0,1782.3 1129.4,1781.8 1131.8,1782.3 1134.2,1780.9 1136.6,1783.2 1139.0,1781.2 1141.4,1785.8 1143.8,1780.5 1146.2,1775.1 1148.6,1772.5 1151.0,1777.1 1153.4,1774.2 1155.8,1769.1 1158.2,1767.5 1160.6,1776.4 1163.0,1768.8 1165.4,1771.0 1167.8,1769.9 1170.2,1768.2 1172.6,1770.6 1175.0,1770.8 1177.4,1765.2 1179.8,1765.8 1182.2,1772.9 1184.6,1766.9 1187.0,1772.1 1189.4,1768.3 1191.8,1765.8 1194.2,1771.9 1196.6,1766.6 1199.0,1769.1 1201.4,1770.8 1203.8,1765.3 1206.2,1765.6 1208.6,1761.8 1211.0,1764.4 1213.4,1766.0 1215.8,1763.4 1218.2,1759.3 1220.6,1762.9 1223.0,1759.8 1225.4,1761.9 1227.8,1762.2 1230.2,1764.1 1232.6,1761.3 1235.0,1759.0 1237.4,1760.1 1239.8,1762.8 1242.2,1760.4 1244.6,1764.2 1247.0,1768.1 1249.4,1763.2 1251.8,1760.3 1254.2,1756.4 1256.6,1760.0 1259.0,1757.5 1261.4,1758.5 1263.8,1758.7 1266.2,1750.7 1268.6,1757.5 1271.0,1754.8 1273.4,1754.9 1275.8,1756.4 1278.2,1752.8 1280.6,1755.4 1283.0,1756.8 1285.4,1746.2 1287.8,1746.8 1290.2,1748.8 1292.6,1751.1 1295.0,1745.1 1297.4,1748.5 1299.8,1749.5 1302.2,1749.5 1304.6,1742.2 1307.0,1746.9 1309.4,1744.1 1311.8,1742.8 1314.2,1748.6 1316.6,1744.9 1319.0,1741.0 1321.4,1740.3 1323.8,1745.2 1326.2,1750.0 1328.6,1739.4 1331.0,1741.5 1333.4,1744.4 1335.8,1739.2 1338.2,1739.0 1340.6,1740.5 1343.0,1742.0 1345.4,1740.5 1347.8,1736.8 1350.2,1737.5 1352.6,1738.3 1355.0,1735.3 1357.4,1733.8 1359.8,1734.7 1362.2,1737.1 1364.6,1733.8 1367.0,1734.8 1369.4,1733.7 1371.8,1734.3 1374.2,1736.3 1376.6,1733.9 1379.0,1730.0 1381.4,1737.0 1383.8,1732.4 1386.2,1728.6 1388.6,1729.6 1391.0,1734.2 1393.4,1735.1 1395.8,1733.9 1398.2,1729.8 1400.6,1733.1 1403.0,1733.6 1405.4,1733.2 1407.8,1729.4 1410.2,1729.9 1412.6,1725.3 1415.0,1727.2 1417.4,1727.2 1419.8,1729.3 1422.2,1729.0 1424.6,1726.9 1427.0,1726.4 1429.4,1719.0 1431.8,1727.8 1434.2,1723.8 1436.6,1725.3 1439.0,1720.4 1441.4,1715.7 1443.8,1717.3 1446.2,1719.3 1448.6,1722.0 1451.0,1719.8 1453.4,1721.5 1455.8,1714.5 1458.2,1722.1 1460.6,1716.8 1463.0,1710.6" fill="none" stroke="#0000ff" stroke-width="4.6" stroke-linejoin="round" stroke-linecap="round"/>
<polyline points="193.0,1867.1 195.5,1868.5 198.0,1870.3 200.5,1871.6 203.0,1872.7 205.5,1874.0 208.0,1870.8 210.5,1868.7 213.0,1865.5 215.5,1863.2 218.0,1862.7 220.5,1863.3 223.0,1862.9 225.5,1862.5 228.0,1860.4 230.5,1856.9 233.0,1853.1 235.5,1850.2 238.0,1846.8 240.5,1845.0 243.0,1842.6 245.5,1842.4 248.0,1840.8 250.5,1840.3 253.0,1839.6 255.5,1838.9 258.0,1838.6 260.5,1838.2 263.0,1835.4 265.5,1831.2 268.0,1827.8 270.5,1824.3 273.0,1821.0 275.5,1820.7 278.0,1820.0 280.5,1818.9 283.0,1818.2 285.5,1817.1 288.0,1815.1 290.5,1813.1 293.0,1811.3 295.5,1810.0 298.0,1807.7 300.5,1805.7 303.0,1804.2 305.5,1802.8 308.0,1801.5 310.5,1800.0 313.0,1798.0 315.5,1797.0 318.0,1795.5 320.5,1794.5 323.0,1792.5 325.5,1789.9 328.0,1786.9 330.5,1785.3 333.0,1782.2 335.5,1778.6 338.0,1776.7 340.5,1773.3 343.0,1772.0 345.5,1770.5 348.0,1770.4 350.5,1768.5 353.0,1767.4 355.5,1766.7 358.0,1764.9 360.5,1764.0 363.0,1763.0 365.5,1760.9 368.0,1759.4 370.5,1756.5 373.0,1754.6 375.5,1752.4 378.0,1751.2 380.5,1748.8 383.0,1747.2 385.5,1746.4 388.0,1744.2 390.5,1742.5 393.0,1741.1 395.5,1738.6 398.0,1736.6 400.5,1732.9 403.0,1728.9 405.5,1729.7 408.0,1730.2 410.5,1729.4 413.0,1728.3 415.5,1727.5 418.0,1726.0 420.5,1724.9 423.0,1723.4 425.5,1722.1 428.0,1720.8 430.5,1718.6 433.0,1716.5 435.5,1714.1 438.0,1713.2 440.5,1710.3 443.0,1708.0 445.5,1704.8 448.0,1701.7 450.5,1698.2 453.0,1694.0 455.5,1690.2 458.0,1688.4 460.5,1687.8 463.0,1687.8 465.5,1687.5 468.0,1686.9 470.5,1687.2 473.0,1686.4 475.5,1686.1 478.0,1685.8 480.5,1683.8 483.0,1682.7 485.5,1679.8 488.0,1677.5 490.5,1676.1 493.0,1673.4 495.5,1671.1 498.0,1670.0 500.5,1666.8 503.0,1662.1 505.5,1658.1 508.0,1653.1 510.5,1649.1 513.0,1644.9 515.5,1642.0 518.0,1641.6 520.5,1640.3 523.0,1639.0 525.5,1638.3 528.0,1636.7 530.5,1635.7 533.0,1634.1 535.5,1633.3 538.0,1631.3 540.5,1629.0 543.0,1625.9 545.5,1625.0 548.0,1621.6 550.5,1620.0 553.0,1618.4 555.5,1617.3 558.0,1616.4 560.5,1615.1 563.0,1614.3 565.5,1612.6 568.0,1611.2 570.5,1610.5 573.0,1608.4 575.5,1604.3 578.0,1599.4 580.5,1594.9 583.0,1591.2 585.5,1588.4 588.0,1586.9 590.5,1585.8 593.0,1583.9 595.5,1583.2 598.0,1581.5 600.5,1580.6 603.0,1579.0 605.5,1577.9 608.0,1576.4 610.5,1574.6 613.0,1573.5 615.5,1571.8 618.0,1571.0 620.5,1568.6 623.0,1568.4 625.5,1566.9 628.0,1566.0 630.5,1564.7 633.0,1563.7 635.5,1563.6 638.0,1561.1 640.5,1560.9 643.0,1560.2 645.5,1557.0 648.0,1553.5 650.5,1550.5 653.0,1548.5 655.5,1544.6 658.0,1541.9 660.5,1540.5 663.0,1537.0 665.5,1536.9 668.0,1537.0 670.5,1536.5 673.0,1536.1 675.5,1536.4 678.0,1533.7 680.5,1531.7 683.0,1529.0 685.5,1526.2 688.0,1523.1 690.5,1520.2 693.0,1517.6 695.5,1514.2 698.0,1512.2 700.5,1511.0 703.0,1510.2 705.5,1509.2 708.0,1509.3 710.5,1509.3 713.0,1508.2 715.5,1508.3 718.0,1506.5 720.5,1505.1 723.0,1503.1 725.5,1502.5 728.0,1501.3 730.5,1499.4 733.0,1499.4 735.5,1497.5 738.0,1496.6 740.5,1494.5 743.0,1493.1 745.5,1491.8 748.0,1489.9 750.5,1487.5 753.0,1484.7 755.5,1481.9 758.0,1478.3 760.5,1475.8 763.0,1473.9 765.5,1471.5 768.0,1469.3" fill="none" stroke="#000000" stroke-width="5.4" stroke-linejoin="round" stroke-linecap="round"/>
<line x1="192.8" y1="1879.7" x2="770" y2="1471.5" stroke="#000" stroke-width="1.1"/>
</g>
<rect x="181.50" y="1476.70" width="1281.10" height="437.80" fill="none" stroke="#000" stroke-width="2.5"/>
<path d="M181.40,1914.50V1926.50M437.65,1914.50V1926.50M693.90,1914.50V1926.50M950.15,1914.50V1926.50M1206.40,1914.50V1926.50M1462.65,1914.50V1926.50" stroke="#000" stroke-width="2.5" fill="none"/>
<path d="M309.52,1914.50V1920.50M565.77,1914.50V1920.50M822.02,1914.50V1920.50M1078.28,1914.50V1920.50M1334.53,1914.50V1920.50" stroke="#000" stroke-width="2.5" fill="none"/>
<path d="M181.50,1874.50H169.50M181.50,1715.30H169.50M181.50,1556.10H169.50" stroke="#000" stroke-width="2.5" fill="none"/>
<path d="M181.50,1794.90H175.50M181.50,1635.70H175.50M181.50,1476.50H175.50" stroke="#000" stroke-width="2.5" fill="none"/>
<g transform="translate(85.65,1884.20) scale(0.9470,1)"><text x="0.00" y="0.00" font-family='"Liberation Sans", Arial, sans-serif' font-weight="bold" font-size="34" fill="#000">0.000</text></g>
<g transform="translate(85.62,1725.00) scale(0.9470,1)"><text x="0.00" y="0.00" font-family='"Liberation Sans", Arial, sans-serif' font-weight="bold" font-size="34" fill="#000">0.002</text></g>
<g transform="translate(84.50,1565.80) scale(0.9470,1)"><text x="0.00" y="0.00" font-family='"Liberation Sans", Arial, sans-serif' font-weight="bold" font-size="34" fill="#000">0.004</text></g>
<g transform="translate(171.34,1962.70) scale(0.9300,1)"><text x="0.00" y="0.00" font-family='"Liberation Sans", Arial, sans-serif' font-weight="bold" font-size="39" fill="#000">0</text></g>
<g transform="translate(417.66,1962.70) scale(0.9300,1)"><text x="0.00" y="0.00" font-family='"Liberation Sans", Arial, sans-serif' font-weight="bold" font-size="39" fill="#000">50</text></g>
<g transform="translate(663.24,1962.70) scale(0.9300,1)"><text x="0.00" y="0.00" font-family='"Liberation Sans", Arial, sans-serif' font-weight="bold" font-size="39" fill="#000">100</text></g>
<g transform="translate(919.49,1962.70) scale(0.9300,1)"><text x="0.00" y="0.00" font-family='"Liberation Sans", Arial, sans-serif' font-weight="bold" font-size="39" fill="#000">150</text></g>
<g transform="translate(1176.26,1962.70) scale(0.9300,1)"><text x="0.00" y="0.00" font-family='"Liberation Sans", Arial, sans-serif' font-weight="bold" font-size="39" fill="#000">200</text></g>
<g transform="translate(1432.51,1962.70) scale(0.9300,1)"><text x="0.00" y="0.00" font-family='"Liberation Sans", Arial, sans-serif' font-weight="bold" font-size="39" fill="#000">250</text></g>
<g transform="translate(746.36,2028.60) scale(0.9664,1)"><text x="0.00" y="0.00" font-family='"Liberation Sans", Arial, sans-serif' font-weight="bold" font-size="41" fill="#000">Time (s)</text></g>
<g transform="translate(62.00,1835.47) rotate(-90) scale(0.9404,1)"><text x="0.00" y="0.00" font-family='"Liberation Sans", Arial, sans-serif' font-weight="bold" font-size="50" fill="#000">Abs</text><text x="94.46" y="11.40" font-family='"Liberation Sans", Arial, sans-serif' font-weight="normal" font-size="33" fill="#000">415</text><text x="149.52" y="0.00" font-family='"Liberation Sans", Arial, sans-serif' font-weight="bold" font-size="50" fill="#000"> (A.U.)</text></g>
<g transform="translate(26.68,1475.80) scale(0.9236,1)"><text x="0.00" y="0.00" font-family='"Liberation Sans", Arial, sans-serif' font-weight="bold" font-size="44" fill="#000">E</text></g>
<g transform="translate(527.87,1665.70) scale(0.8920,1)"><text x="0.00" y="0.00" font-family='"Liberation Sans", Arial, sans-serif' font-weight="bold" font-style="italic" font-size="28" fill="#000">k</text></g>
<g transform="translate(544.11,1672.50) scale(1.0609,1)"><text x="0.00" y="0.00" font-family='"Liberation Sans", Arial, sans-serif' font-weight="bold" font-size="18.5" fill="#000">slope</text></g>
<g transform="translate(603.05,1666.00) scale(1.1143,1)"><text x="0.00" y="0.00" font-family='"Liberation Sans", Arial, sans-serif' font-weight="bold" font-size="28" fill="#000">(27±1).10</text></g>
<g transform="translate(737.07,1656.10) scale(1.1422,1)"><text x="0.00" y="0.00" font-family='"Liberation Sans", Arial, sans-serif' font-weight="bold" font-size="18.5" fill="#000">-6</text></g>
<g transform="translate(763.73,1665.70) scale(1.1213,1)"><text x="0.00" y="0.00" font-family='"Liberation Sans", Arial, sans-serif' font-weight="bold" font-size="28" fill="#000">min</text></g>
<g transform="translate(820.91,1656.10) scale(0.9598,1)"><text x="0.00" y="0.00" font-family='"Liberation Sans", Arial, sans-serif' font-weight="bold" font-size="18.5" fill="#000">-1</text></g>
<g transform="translate(990.57,1563.50) scale(0.8920,1)"><text x="0.00" y="0.00" font-family='"Liberation Sans", Arial, sans-serif' font-weight="bold" font-style="italic" font-size="28" fill="#ff0000">k</text></g>
<g transform="translate(1006.81,1570.30) scale(1.0609,1)"><text x="0.00" y="0.00" font-family='"Liberation Sans", Arial, sans-serif' font-weight="bold" font-size="18.5" fill="#ff0000">slope</text></g>
<g transform="translate(1065.75,1563.80) scale(1.1143,1)"><text x="0.00" y="0.00" font-family='"Liberation Sans", Arial, sans-serif' font-weight="bold" font-size="28" fill="#ff0000">(11±1).10</text></g>
<g transform="translate(1199.77,1553.90) scale(1.1422,1)"><text x="0.00" y="0.00" font-family='"Liberation Sans", Arial, sans-serif' font-weight="bold" font-size="18.5" fill="#ff0000">-6</text></g>
<g transform="translate(1226.43,1563.50) scale(1.1213,1)"><text x="0.00" y="0.00" font-family='"Liberation Sans", Arial, sans-serif' font-weight="bold" font-size="28" fill="#ff0000">min</text></g>
<g transform="translate(1283.61,1553.90) scale(0.9598,1)"><text x="0.00" y="0.00" font-family='"Liberation Sans", Arial, sans-serif' font-weight="bold" font-size="18.5" fill="#ff0000">-1</text></g>
<g transform="translate(1081.97,1708.80) scale(0.8920,1)"><text x="0.00" y="0.00" font-family='"Liberation Sans", Arial, sans-serif' font-weight="bold" font-style="italic" font-size="28" fill="#1500a5">k</text></g>
<g transform="translate(1098.21,1715.60) scale(1.0609,1)"><text x="0.00" y="0.00" font-family='"Liberation Sans", Arial, sans-serif' font-weight="bold" font-size="18.5" fill="#1500a5">slope</text></g>
<g transform="translate(1157.11,1709.10) scale(1.1373,1)"><text x="0.00" y="0.00" font-family='"Liberation Sans", Arial, sans-serif' font-weight="bold" font-size="28" fill="#1500a5">(7.2±0.4).10</text></g>
<g transform="translate(1329.27,1699.20) scale(1.1422,1)"><text x="0.00" y="0.00" font-family='"Liberation Sans", Arial, sans-serif' font-weight="bold" font-size="18.5" fill="#1500a5">-6</text></g>
<g transform="translate(1355.93,1708.80) scale(1.1213,1)"><text x="0.00" y="0.00" font-family='"Liberation Sans", Arial, sans-serif' font-weight="bold" font-size="28" fill="#1500a5">min</text></g>
<g transform="translate(1413.11,1699.20) scale(0.9598,1)"><text x="0.00" y="0.00" font-family='"Liberation Sans", Arial, sans-serif' font-weight="bold" font-size="18.5" fill="#1500a5">-1</text></g>
<g transform="translate(1087.67,1862.00) scale(0.8920,1)"><text x="0.00" y="0.00" font-family='"Liberation Sans", Arial, sans-serif' font-weight="bold" font-style="italic" font-size="28" fill="#00b800">k</text></g>
<g transform="translate(1103.91,1868.80) scale(1.0609,1)"><text x="0.00" y="0.00" font-family='"Liberation Sans", Arial, sans-serif' font-weight="bold" font-size="18.5" fill="#00b800">slope</text></g>
<g transform="translate(1162.81,1862.30) scale(1.1373,1)"><text x="0.00" y="0.00" font-family='"Liberation Sans", Arial, sans-serif' font-weight="bold" font-size="28" fill="#00b800">(3.5±0.1).10</text></g>
<g transform="translate(1334.97,1852.40) scale(1.1422,1)"><text x="0.00" y="0.00" font-family='"Liberation Sans", Arial, sans-serif' font-weight="bold" font-size="18.5" fill="#00b800">-6</text></g>
<g transform="translate(1361.63,1862.00) scale(1.1213,1)"><text x="0.00" y="0.00" font-family='"Liberation Sans", Arial, sans-serif' font-weight="bold" font-size="28" fill="#00b800">min</text></g>
<g transform="translate(1418.81,1852.40) scale(0.9598,1)"><text x="0.00" y="0.00" font-family='"Liberation Sans", Arial, sans-serif' font-weight="bold" font-size="18.5" fill="#00b800">-1</text></g>
<g transform="translate(1087.67,1897.90) scale(0.8920,1)"><text x="0.00" y="0.00" font-family='"Liberation Sans", Arial, sans-serif' font-weight="bold" font-style="italic" font-size="28" fill="#6e2c90">k</text></g>
<g transform="translate(1103.91,1904.70) scale(1.0609,1)"><text x="0.00" y="0.00" font-family='"Liberation Sans", Arial, sans-serif' font-weight="bold" font-size="18.5" fill="#6e2c90">slope</text></g>
<g transform="translate(1162.81,1898.20) scale(1.1373,1)"><text x="0.00" y="0.00" font-family='"Liberation Sans", Arial, sans-serif' font-weight="bold" font-size="28" fill="#6e2c90">(2.6±0.1).10</text></g>
<g transform="translate(1334.97,1888.30) scale(1.1422,1)"><text x="0.00" y="0.00" font-family='"Liberation Sans", Arial, sans-serif' font-weight="bold" font-size="18.5" fill="#6e2c90">-6</text></g>
<g transform="translate(1361.63,1897.90) scale(1.1213,1)"><text x="0.00" y="0.00" font-family='"Liberation Sans", Arial, sans-serif' font-weight="bold" font-size="28" fill="#6e2c90">min</text></g>
<g transform="translate(1418.81,1888.30) scale(0.9598,1)"><text x="0.00" y="0.00" font-family='"Liberation Sans", Arial, sans-serif' font-weight="bold" font-size="18.5" fill="#6e2c90">-1</text></g></svg>
</body></html>
